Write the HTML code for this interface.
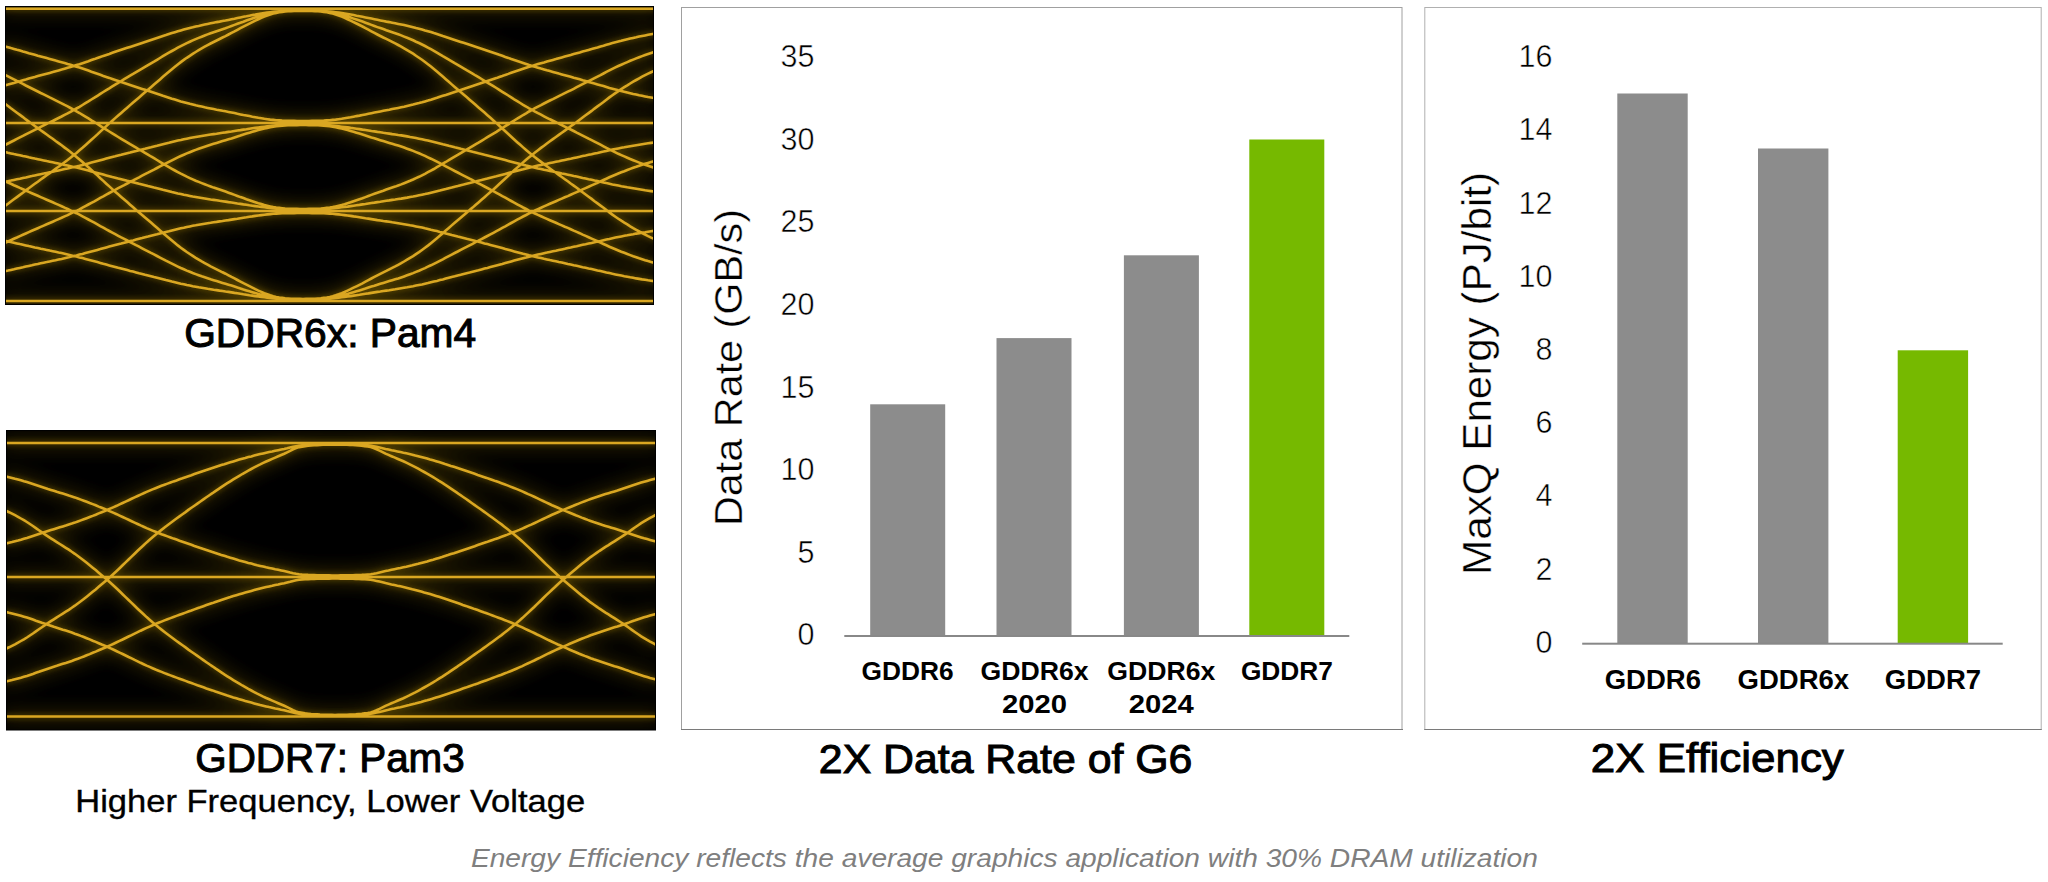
<!DOCTYPE html>
<html><head><meta charset="utf-8"><style>
html,body{margin:0;padding:0;background:#fff;width:2048px;height:882px;overflow:hidden}
svg{display:block}
text{font-family:'Liberation Sans', sans-serif}
</style></head><body>
<svg width="2048" height="882" viewBox="0 0 2048 882">
<defs>
<filter id="glowb" x="-10%" y="-10%" width="120%" height="120%"><feGaussianBlur stdDeviation="9"/></filter>
<filter id="glows" x="-10%" y="-10%" width="120%" height="120%"><feGaussianBlur stdDeviation="2.5"/></filter>
<filter id="soft" x="-10%" y="-10%" width="120%" height="120%"><feGaussianBlur stdDeviation="0.6"/></filter>
</defs>
<clipPath id="clip1"><rect x="6" y="7" width="647" height="297"/></clipPath>
<rect x="5" y="6" width="649" height="299" fill="#000"/>
<g clip-path="url(#clip1)">
<path d="M2,8.8 L657,8.8 M2,123.0 L657,123.0 M2,211.0 L657,211.0 M2,301.0 L657,301.0 M2.0,45.5 L5.0,46.4 L8.0,47.2 L10.9,48.1 L13.9,48.9 L16.9,49.8 L19.9,50.6 L22.9,51.5 L25.8,52.3 L28.8,53.2 L31.8,54.0 L34.8,54.8 L37.8,55.7 L40.7,56.5 L43.7,57.3 L46.7,58.1 L49.7,58.9 L52.7,59.7 L55.6,60.6 L58.6,61.4 L61.6,62.2 L64.6,63.1 L67.6,64.0 L70.5,64.8 L73.5,65.8 L76.5,66.7 L79.5,67.6 L82.5,68.6 L85.4,69.6 L88.4,70.6 L91.4,71.7 L94.4,72.7 L97.4,73.8 L100.3,74.8 L103.3,75.9 L106.3,76.9 L109.3,77.9 L112.3,79.0 L115.2,80.0 L118.2,81.0 L121.2,82.0 L124.2,83.0 L127.2,84.0 L130.1,84.9 L133.1,85.9 L136.1,86.9 L139.1,87.9 L142.1,88.9 L145.0,89.8 L148.0,90.8 L151.0,91.8 L154.0,92.8 L157.0,93.8 L160.0,94.8 L162.9,95.8 L165.9,96.7 L168.9,97.7 L171.9,98.7 L174.9,99.6 L177.8,100.5 L180.8,101.4 L183.8,102.2 L186.8,103.0 L189.8,103.8 L192.7,104.5 L195.7,105.3 L198.7,105.9 L201.7,106.6 L204.7,107.3 L207.6,107.9 L210.6,108.5 L213.6,109.1 L216.6,109.7 L219.6,110.2 L222.5,110.8 L225.5,111.3 L228.5,111.9 L231.5,112.5 L234.5,113.1 L237.4,113.8 L240.4,114.4 L243.4,115.0 L246.4,115.5 L249.4,116.1 L252.3,116.7 L255.3,117.2 L258.3,117.8 L261.3,118.3 L264.3,118.8 L267.2,119.2 L270.2,119.6 L273.2,119.9 L276.2,120.2 L279.2,120.4 L282.1,120.6 L285.1,120.7 L288.1,120.8 L291.1,120.9 L294.1,120.9 L297.0,121.0 L300.0,121.0 L303.0,121.0 M303.0,121.0 L306.0,121.0 L308.9,121.0 L311.9,120.9 L314.9,120.9 L317.9,120.8 L320.8,120.7 L323.8,120.6 L326.8,120.4 L329.8,120.2 L332.7,119.9 L335.7,119.6 L338.7,119.2 L341.7,118.8 L344.6,118.3 L347.6,117.8 L350.6,117.3 L353.6,116.7 L356.5,116.1 L359.5,115.6 L362.5,115.0 L365.5,114.4 L368.4,113.8 L371.4,113.2 L374.4,112.6 L377.4,112.0 L380.3,111.4 L383.3,110.8 L386.3,110.2 L389.3,109.7 L392.2,109.1 L395.2,108.5 L398.2,107.9 L401.2,107.3 L404.1,106.7 L407.1,106.0 L410.1,105.3 L413.1,104.6 L416.0,103.8 L419.0,103.1 L422.0,102.3 L425.0,101.4 L427.9,100.6 L430.9,99.7 L433.9,98.7 L436.9,97.8 L439.8,96.8 L442.8,95.8 L445.8,94.9 L448.8,93.9 L451.7,92.9 L454.7,91.9 L457.7,90.9 L460.7,89.9 L463.6,89.0 L466.6,88.0 L469.6,87.0 L472.6,86.0 L475.5,85.1 L478.5,84.1 L481.5,83.1 L484.5,82.1 L487.4,81.1 L490.4,80.1 L493.4,79.1 L496.4,78.1 L499.3,77.0 L502.3,76.0 L505.3,74.9 L508.3,73.9 L511.2,72.8 L514.2,71.8 L517.2,70.8 L520.2,69.8 L523.1,68.8 L526.1,67.8 L529.1,66.8 L532.1,65.9 L535.0,65.0 L538.0,64.1 L541.0,63.2 L544.0,62.4 L546.9,61.5 L549.9,60.7 L552.9,59.9 L555.9,59.1 L558.8,58.2 L561.8,57.4 L564.8,56.6 L567.8,55.8 L570.7,55.0 L573.7,54.1 L576.7,53.3 L579.7,52.5 L582.6,51.6 L585.6,50.8 L588.6,49.9 L591.6,49.1 L594.5,48.2 L597.5,47.4 L600.5,46.5 L603.5,45.7 L606.4,44.8 L609.4,43.9 L612.4,43.1 L615.4,42.3 L618.3,41.5 L621.3,40.8 L624.3,40.0 L627.3,39.3 L630.2,38.6 L633.2,37.9 L636.2,37.3 L639.2,36.6 L642.1,36.0 L645.1,35.4 L648.1,34.8 L651.1,34.3 L654.0,33.8 L657.0,33.3 M2.0,73.2 L5.0,74.8 L8.0,76.3 L10.9,77.8 L13.9,79.3 L16.9,80.9 L19.9,82.4 L22.9,83.9 L25.8,85.5 L28.8,87.0 L31.8,88.5 L34.8,90.0 L37.8,91.5 L40.7,93.0 L43.7,94.4 L46.7,95.9 L49.7,97.4 L52.7,98.8 L55.6,100.3 L58.6,101.8 L61.6,103.3 L64.6,104.9 L67.6,106.4 L70.5,108.0 L73.5,109.6 L76.5,111.3 L79.5,113.0 L82.5,114.8 L85.4,116.6 L88.4,118.4 L91.4,120.3 L94.4,122.1 L97.4,124.0 L100.3,125.9 L103.3,127.8 L106.3,129.7 L109.3,131.5 L112.3,133.4 L115.2,135.2 L118.2,137.0 L121.2,138.8 L124.2,140.6 L127.2,142.4 L130.1,144.2 L133.1,145.9 L136.1,147.7 L139.1,149.5 L142.1,151.2 L145.0,152.9 L148.0,154.7 L151.0,156.5 L154.0,158.2 L157.0,160.0 L160.0,161.8 L162.9,163.6 L165.9,165.4 L168.9,167.1 L171.9,168.8 L174.9,170.5 L177.8,172.1 L180.8,173.7 L183.8,175.2 L186.8,176.7 L189.8,178.1 L192.7,179.4 L195.7,180.7 L198.7,181.9 L201.7,183.1 L204.7,184.3 L207.6,185.4 L210.6,186.5 L213.6,187.6 L216.6,188.6 L219.6,189.6 L222.5,190.6 L225.5,191.6 L228.5,192.7 L231.5,193.8 L234.5,194.9 L237.4,196.0 L240.4,197.1 L243.4,198.1 L246.4,199.2 L249.4,200.2 L252.3,201.2 L255.3,202.2 L258.3,203.2 L261.3,204.1 L264.3,205.0 L267.2,205.7 L270.2,206.4 L273.2,207.1 L276.2,207.6 L279.2,207.9 L282.1,208.2 L285.1,208.5 L288.1,208.7 L291.1,208.8 L294.1,208.9 L297.0,208.9 L300.0,209.0 L303.0,209.0 M303.0,209.0 L306.0,209.0 L308.9,208.9 L311.9,208.9 L314.9,208.8 L317.9,208.7 L320.8,208.5 L323.8,208.2 L326.8,207.9 L329.8,207.6 L332.7,207.1 L335.7,206.4 L338.7,205.7 L341.7,205.0 L344.6,204.2 L347.6,203.2 L350.6,202.3 L353.6,201.2 L356.5,200.2 L359.5,199.2 L362.5,198.2 L365.5,197.1 L368.4,196.0 L371.4,194.9 L374.4,193.8 L377.4,192.7 L380.3,191.7 L383.3,190.7 L386.3,189.6 L389.3,188.6 L392.2,187.6 L395.2,186.6 L398.2,185.5 L401.2,184.4 L404.1,183.2 L407.1,182.0 L410.1,180.8 L413.1,179.5 L416.0,178.1 L419.0,176.8 L422.0,175.3 L425.0,173.8 L427.9,172.2 L430.9,170.6 L433.9,169.0 L436.9,167.2 L439.8,165.5 L442.8,163.7 L445.8,162.0 L448.8,160.2 L451.7,158.4 L454.7,156.6 L457.7,154.9 L460.7,153.1 L463.6,151.4 L466.6,149.6 L469.6,147.9 L472.6,146.1 L475.5,144.3 L478.5,142.6 L481.5,140.8 L484.5,139.0 L487.4,137.2 L490.4,135.4 L493.4,133.6 L496.4,131.8 L499.3,129.9 L502.3,128.0 L505.3,126.1 L508.3,124.3 L511.2,122.4 L514.2,120.5 L517.2,118.7 L520.2,116.8 L523.1,115.0 L526.1,113.3 L529.1,111.5 L532.1,109.9 L535.0,108.2 L538.0,106.6 L541.0,105.1 L544.0,103.5 L546.9,102.0 L549.9,100.5 L552.9,99.1 L555.9,97.6 L558.8,96.1 L561.8,94.7 L564.8,93.2 L567.8,91.7 L570.7,90.3 L573.7,88.8 L576.7,87.2 L579.7,85.7 L582.6,84.2 L585.6,82.7 L588.6,81.1 L591.6,79.6 L594.5,78.1 L597.5,76.6 L600.5,75.1 L603.5,73.5 L606.4,71.9 L609.4,70.4 L612.4,68.9 L615.4,67.4 L618.3,66.0 L621.3,64.7 L624.3,63.4 L627.3,62.1 L630.2,60.8 L633.2,59.6 L636.2,58.4 L639.2,57.2 L642.1,56.1 L645.1,55.0 L648.1,54.0 L651.1,53.0 L654.0,52.1 L657.0,51.3 M2.0,101.6 L5.0,103.8 L8.0,106.0 L10.9,108.3 L13.9,110.5 L16.9,112.7 L19.9,114.9 L22.9,117.1 L25.8,119.4 L28.8,121.6 L31.8,123.8 L34.8,126.0 L37.8,128.1 L40.7,130.3 L43.7,132.4 L46.7,134.5 L49.7,136.7 L52.7,138.8 L55.6,141.0 L58.6,143.1 L61.6,145.3 L64.6,147.6 L67.6,149.8 L70.5,152.1 L73.5,154.5 L76.5,156.9 L79.5,159.5 L82.5,162.0 L85.4,164.6 L88.4,167.3 L91.4,170.0 L94.4,172.7 L97.4,175.4 L100.3,178.2 L103.3,180.9 L106.3,183.7 L109.3,186.4 L112.3,189.1 L115.2,191.7 L118.2,194.3 L121.2,196.9 L124.2,199.5 L127.2,202.1 L130.1,204.7 L133.1,207.3 L136.1,209.9 L139.1,212.4 L142.1,215.0 L145.0,217.5 L148.0,220.0 L151.0,222.6 L154.0,225.2 L157.0,227.8 L160.0,230.4 L162.9,233.0 L165.9,235.5 L168.9,238.1 L171.9,240.6 L174.9,243.0 L177.8,245.4 L180.8,247.7 L183.8,249.9 L186.8,252.0 L189.8,254.0 L192.7,255.9 L195.7,257.8 L198.7,259.6 L201.7,261.4 L204.7,263.1 L207.6,264.7 L210.6,266.3 L213.6,267.8 L216.6,269.3 L219.6,270.8 L222.5,272.3 L225.5,273.7 L228.5,275.3 L231.5,276.9 L234.5,278.4 L237.4,280.0 L240.4,281.6 L243.4,283.2 L246.4,284.7 L249.4,286.2 L252.3,287.7 L255.3,289.2 L258.3,290.6 L261.3,291.9 L264.3,293.2 L267.2,294.2 L270.2,295.3 L273.2,296.2 L276.2,296.9 L279.2,297.5 L282.1,297.9 L285.1,298.3 L288.1,298.5 L291.1,298.7 L294.1,298.8 L297.0,298.9 L300.0,298.9 L303.0,299.0 M303.0,299.0 L306.0,298.9 L308.9,298.9 L311.9,298.8 L314.9,298.7 L317.9,298.5 L320.8,298.3 L323.8,297.9 L326.8,297.5 L329.8,296.9 L332.7,296.2 L335.7,295.3 L338.7,294.3 L341.7,293.2 L344.6,292.0 L347.6,290.6 L350.6,289.2 L353.6,287.7 L356.5,286.3 L359.5,284.8 L362.5,283.3 L365.5,281.7 L368.4,280.1 L371.4,278.5 L374.4,276.9 L377.4,275.3 L380.3,273.8 L383.3,272.3 L386.3,270.9 L389.3,269.4 L392.2,267.9 L395.2,266.4 L398.2,264.8 L401.2,263.2 L404.1,261.5 L407.1,259.7 L410.1,257.9 L413.1,256.1 L416.0,254.1 L419.0,252.1 L422.0,250.0 L425.0,247.8 L427.9,245.6 L430.9,243.2 L433.9,240.8 L436.9,238.3 L439.8,235.8 L442.8,233.2 L445.8,230.6 L448.8,228.0 L451.7,225.4 L454.7,222.8 L457.7,220.3 L460.7,217.7 L463.6,215.2 L466.6,212.7 L469.6,210.1 L472.6,207.6 L475.5,205.0 L478.5,202.4 L481.5,199.8 L484.5,197.2 L487.4,194.6 L490.4,192.0 L493.4,189.4 L496.4,186.7 L499.3,184.0 L502.3,181.3 L505.3,178.5 L508.3,175.8 L511.2,173.1 L514.2,170.3 L517.2,167.6 L520.2,165.0 L523.1,162.4 L526.1,159.8 L529.1,157.3 L532.1,154.9 L535.0,152.5 L538.0,150.2 L541.0,147.9 L544.0,145.7 L546.9,143.5 L549.9,141.3 L552.9,139.1 L555.9,137.0 L558.8,134.9 L561.8,132.8 L564.8,130.6 L567.8,128.5 L570.7,126.3 L573.7,124.2 L576.7,122.0 L579.7,119.7 L582.6,117.5 L585.6,115.3 L588.6,113.1 L591.6,110.9 L594.5,108.6 L597.5,106.4 L600.5,104.2 L603.5,102.0 L606.4,99.7 L609.4,97.4 L612.4,95.2 L615.4,93.1 L618.3,91.1 L621.3,89.1 L624.3,87.2 L627.3,85.4 L630.2,83.5 L633.2,81.7 L636.2,80.0 L639.2,78.3 L642.1,76.6 L645.1,75.1 L648.1,73.6 L651.1,72.2 L654.0,70.9 L657.0,69.6 M2.0,86.3 L5.0,85.4 L8.0,84.6 L10.9,83.7 L13.9,82.9 L16.9,82.0 L19.9,81.2 L22.9,80.3 L25.8,79.5 L28.8,78.6 L31.8,77.8 L34.8,77.0 L37.8,76.1 L40.7,75.3 L43.7,74.5 L46.7,73.7 L49.7,72.9 L52.7,72.1 L55.6,71.2 L58.6,70.4 L61.6,69.6 L64.6,68.7 L67.6,67.8 L70.5,67.0 L73.5,66.0 L76.5,65.1 L79.5,64.2 L82.5,63.2 L85.4,62.2 L88.4,61.2 L91.4,60.1 L94.4,59.1 L97.4,58.0 L100.3,57.0 L103.3,55.9 L106.3,54.9 L109.3,53.9 L112.3,52.8 L115.2,51.8 L118.2,50.8 L121.2,49.8 L124.2,48.8 L127.2,47.8 L130.1,46.9 L133.1,45.9 L136.1,44.9 L139.1,43.9 L142.1,42.9 L145.0,42.0 L148.0,41.0 L151.0,40.0 L154.0,39.0 L157.0,38.0 L160.0,37.0 L162.9,36.0 L165.9,35.1 L168.9,34.1 L171.9,33.1 L174.9,32.2 L177.8,31.3 L180.8,30.4 L183.8,29.6 L186.8,28.8 L189.8,28.0 L192.7,27.3 L195.7,26.5 L198.7,25.9 L201.7,25.2 L204.7,24.5 L207.6,23.9 L210.6,23.3 L213.6,22.7 L216.6,22.1 L219.6,21.6 L222.5,21.0 L225.5,20.5 L228.5,19.9 L231.5,19.3 L234.5,18.7 L237.4,18.0 L240.4,17.4 L243.4,16.8 L246.4,16.3 L249.4,15.7 L252.3,15.1 L255.3,14.6 L258.3,14.0 L261.3,13.5 L264.3,13.0 L267.2,12.6 L270.2,12.2 L273.2,11.9 L276.2,11.6 L279.2,11.4 L282.1,11.2 L285.1,11.1 L288.1,11.0 L291.1,10.9 L294.1,10.9 L297.0,10.8 L300.0,10.8 L303.0,10.8 M303.0,10.8 L306.0,10.8 L308.9,10.8 L311.9,10.9 L314.9,10.9 L317.9,11.0 L320.8,11.1 L323.8,11.2 L326.8,11.4 L329.8,11.6 L332.7,11.9 L335.7,12.2 L338.7,12.6 L341.7,13.0 L344.6,13.5 L347.6,14.0 L350.6,14.5 L353.6,15.1 L356.5,15.7 L359.5,16.2 L362.5,16.8 L365.5,17.4 L368.4,18.0 L371.4,18.6 L374.4,19.2 L377.4,19.8 L380.3,20.4 L383.3,21.0 L386.3,21.6 L389.3,22.1 L392.2,22.7 L395.2,23.3 L398.2,23.9 L401.2,24.5 L404.1,25.1 L407.1,25.8 L410.1,26.5 L413.1,27.2 L416.0,28.0 L419.0,28.7 L422.0,29.5 L425.0,30.4 L427.9,31.2 L430.9,32.1 L433.9,33.1 L436.9,34.0 L439.8,35.0 L442.8,36.0 L445.8,36.9 L448.8,37.9 L451.7,38.9 L454.7,39.9 L457.7,40.9 L460.7,41.9 L463.6,42.8 L466.6,43.8 L469.6,44.8 L472.6,45.8 L475.5,46.7 L478.5,47.7 L481.5,48.7 L484.5,49.7 L487.4,50.7 L490.4,51.7 L493.4,52.7 L496.4,53.7 L499.3,54.8 L502.3,55.8 L505.3,56.9 L508.3,57.9 L511.2,59.0 L514.2,60.0 L517.2,61.0 L520.2,62.0 L523.1,63.0 L526.1,64.0 L529.1,65.0 L532.1,65.9 L535.0,66.8 L538.0,67.7 L541.0,68.6 L544.0,69.4 L546.9,70.3 L549.9,71.1 L552.9,71.9 L555.9,72.7 L558.8,73.6 L561.8,74.4 L564.8,75.2 L567.8,76.0 L570.7,76.8 L573.7,77.7 L576.7,78.5 L579.7,79.3 L582.6,80.2 L585.6,81.0 L588.6,81.9 L591.6,82.7 L594.5,83.6 L597.5,84.4 L600.5,85.3 L603.5,86.1 L606.4,87.0 L609.4,87.9 L612.4,88.7 L615.4,89.5 L618.3,90.3 L621.3,91.0 L624.3,91.8 L627.3,92.5 L630.2,93.2 L633.2,93.9 L636.2,94.5 L639.2,95.2 L642.1,95.8 L645.1,96.4 L648.1,97.0 L651.1,97.5 L654.0,98.0 L657.0,98.5 M2.0,151.5 L5.0,152.1 L8.0,152.8 L10.9,153.4 L13.9,154.1 L16.9,154.7 L19.9,155.3 L22.9,156.0 L25.8,156.6 L28.8,157.3 L31.8,157.9 L34.8,158.6 L37.8,159.2 L40.7,159.8 L43.7,160.4 L46.7,161.1 L49.7,161.7 L52.7,162.3 L55.6,162.9 L58.6,163.6 L61.6,164.2 L64.6,164.9 L67.6,165.5 L70.5,166.2 L73.5,166.9 L76.5,167.6 L79.5,168.3 L82.5,169.1 L85.4,169.8 L88.4,170.6 L91.4,171.4 L94.4,172.2 L97.4,173.0 L100.3,173.8 L103.3,174.6 L106.3,175.4 L109.3,176.2 L112.3,177.0 L115.2,177.7 L118.2,178.5 L121.2,179.2 L124.2,180.0 L127.2,180.8 L130.1,181.5 L133.1,182.3 L136.1,183.0 L139.1,183.8 L142.1,184.5 L145.0,185.2 L148.0,186.0 L151.0,186.7 L154.0,187.5 L157.0,188.2 L160.0,189.0 L162.9,189.8 L165.9,190.5 L168.9,191.2 L171.9,192.0 L174.9,192.7 L177.8,193.4 L180.8,194.0 L183.8,194.7 L186.8,195.3 L189.8,195.9 L192.7,196.5 L195.7,197.0 L198.7,197.5 L201.7,198.0 L204.7,198.5 L207.6,199.0 L210.6,199.5 L213.6,199.9 L216.6,200.3 L219.6,200.8 L222.5,201.2 L225.5,201.6 L228.5,202.1 L231.5,202.5 L234.5,203.0 L237.4,203.5 L240.4,203.9 L243.4,204.4 L246.4,204.8 L249.4,205.3 L252.3,205.7 L255.3,206.1 L258.3,206.5 L261.3,206.9 L264.3,207.3 L267.2,207.6 L270.2,207.9 L273.2,208.2 L276.2,208.4 L279.2,208.5 L282.1,208.7 L285.1,208.8 L288.1,208.9 L291.1,208.9 L294.1,208.9 L297.0,209.0 L300.0,209.0 L303.0,209.0 M303.0,209.0 L306.0,209.0 L308.9,209.0 L311.9,208.9 L314.9,208.9 L317.9,208.9 L320.8,208.8 L323.8,208.7 L326.8,208.6 L329.8,208.4 L332.7,208.2 L335.7,207.9 L338.7,207.6 L341.7,207.3 L344.6,207.0 L347.6,206.6 L350.6,206.1 L353.6,205.7 L356.5,205.3 L359.5,204.9 L362.5,204.4 L365.5,204.0 L368.4,203.5 L371.4,203.0 L374.4,202.6 L377.4,202.1 L380.3,201.7 L383.3,201.2 L386.3,200.8 L389.3,200.4 L392.2,199.9 L395.2,199.5 L398.2,199.0 L401.2,198.6 L404.1,198.1 L407.1,197.6 L410.1,197.0 L413.1,196.5 L416.0,195.9 L419.0,195.3 L422.0,194.7 L425.0,194.1 L427.9,193.4 L430.9,192.7 L433.9,192.0 L436.9,191.3 L439.8,190.6 L442.8,189.8 L445.8,189.1 L448.8,188.3 L451.7,187.6 L454.7,186.8 L457.7,186.1 L460.7,185.3 L463.6,184.6 L466.6,183.8 L469.6,183.1 L472.6,182.3 L475.5,181.6 L478.5,180.8 L481.5,180.1 L484.5,179.3 L487.4,178.6 L490.4,177.8 L493.4,177.0 L496.4,176.3 L499.3,175.5 L502.3,174.7 L505.3,173.9 L508.3,173.1 L511.2,172.3 L514.2,171.5 L517.2,170.7 L520.2,169.9 L523.1,169.2 L526.1,168.4 L529.1,167.7 L532.1,167.0 L535.0,166.3 L538.0,165.6 L541.0,165.0 L544.0,164.3 L546.9,163.7 L549.9,163.0 L552.9,162.4 L555.9,161.8 L558.8,161.2 L561.8,160.5 L564.8,159.9 L567.8,159.3 L570.7,158.7 L573.7,158.0 L576.7,157.4 L579.7,156.8 L582.6,156.1 L585.6,155.5 L588.6,154.8 L591.6,154.2 L594.5,153.5 L597.5,152.9 L600.5,152.2 L603.5,151.6 L606.4,150.9 L609.4,150.3 L612.4,149.6 L615.4,149.0 L618.3,148.4 L621.3,147.8 L624.3,147.3 L627.3,146.7 L630.2,146.2 L633.2,145.7 L636.2,145.2 L639.2,144.7 L642.1,144.2 L645.1,143.7 L648.1,143.3 L651.1,142.9 L654.0,142.5 L657.0,142.1 M2.0,179.8 L5.0,181.2 L8.0,182.5 L10.9,183.8 L13.9,185.2 L16.9,186.5 L19.9,187.9 L22.9,189.2 L25.8,190.5 L28.8,191.9 L31.8,193.2 L34.8,194.5 L37.8,195.8 L40.7,197.1 L43.7,198.4 L46.7,199.7 L49.7,201.0 L52.7,202.3 L55.6,203.6 L58.6,204.9 L61.6,206.2 L64.6,207.6 L67.6,208.9 L70.5,210.3 L73.5,211.8 L76.5,213.2 L79.5,214.7 L82.5,216.3 L85.4,217.9 L88.4,219.5 L91.4,221.1 L94.4,222.7 L97.4,224.4 L100.3,226.1 L103.3,227.7 L106.3,229.4 L109.3,231.0 L112.3,232.6 L115.2,234.2 L118.2,235.8 L121.2,237.4 L124.2,238.9 L127.2,240.5 L130.1,242.1 L133.1,243.6 L136.1,245.2 L139.1,246.7 L142.1,248.3 L145.0,249.8 L148.0,251.3 L151.0,252.9 L154.0,254.4 L157.0,256.0 L160.0,257.6 L162.9,259.1 L165.9,260.7 L168.9,262.2 L171.9,263.7 L174.9,265.2 L177.8,266.6 L180.8,268.0 L183.8,269.3 L186.8,270.6 L189.8,271.8 L192.7,273.0 L195.7,274.1 L198.7,275.2 L201.7,276.3 L204.7,277.3 L207.6,278.3 L210.6,279.3 L213.6,280.2 L216.6,281.1 L219.6,282.0 L222.5,282.9 L225.5,283.8 L228.5,284.7 L231.5,285.6 L234.5,286.6 L237.4,287.6 L240.4,288.5 L243.4,289.5 L246.4,290.4 L249.4,291.3 L252.3,292.2 L255.3,293.1 L258.3,293.9 L261.3,294.7 L264.3,295.5 L267.2,296.1 L270.2,296.7 L273.2,297.3 L276.2,297.7 L279.2,298.1 L282.1,298.3 L285.1,298.6 L288.1,298.7 L291.1,298.8 L294.1,298.9 L297.0,298.9 L300.0,299.0 L303.0,299.0 M303.0,299.0 L306.0,299.0 L308.9,298.9 L311.9,298.9 L314.9,298.8 L317.9,298.7 L320.8,298.6 L323.8,298.3 L326.8,298.1 L329.8,297.8 L332.7,297.3 L335.7,296.8 L338.7,296.1 L341.7,295.5 L344.6,294.8 L347.6,293.9 L350.6,293.1 L353.6,292.2 L356.5,291.3 L359.5,290.4 L362.5,289.5 L365.5,288.6 L368.4,287.6 L371.4,286.6 L374.4,285.7 L377.4,284.7 L380.3,283.8 L383.3,282.9 L386.3,282.0 L389.3,281.1 L392.2,280.2 L395.2,279.3 L398.2,278.4 L401.2,277.4 L404.1,276.4 L407.1,275.3 L410.1,274.2 L413.1,273.1 L416.0,271.9 L419.0,270.7 L422.0,269.4 L425.0,268.1 L427.9,266.7 L430.9,265.3 L433.9,263.8 L436.9,262.3 L439.8,260.8 L442.8,259.3 L445.8,257.7 L448.8,256.1 L451.7,254.6 L454.7,253.0 L457.7,251.5 L460.7,249.9 L463.6,248.4 L466.6,246.9 L469.6,245.3 L472.6,243.8 L475.5,242.2 L478.5,240.7 L481.5,239.1 L484.5,237.5 L487.4,236.0 L490.4,234.4 L493.4,232.8 L496.4,231.2 L499.3,229.6 L502.3,227.9 L505.3,226.3 L508.3,224.6 L511.2,223.0 L514.2,221.3 L517.2,219.7 L520.2,218.1 L523.1,216.5 L526.1,215.0 L529.1,213.4 L532.1,212.0 L535.0,210.5 L538.0,209.1 L541.0,207.8 L544.0,206.4 L546.9,205.1 L549.9,203.8 L552.9,202.5 L555.9,201.2 L558.8,199.9 L561.8,198.6 L564.8,197.3 L567.8,196.1 L570.7,194.8 L573.7,193.4 L576.7,192.1 L579.7,190.8 L582.6,189.4 L585.6,188.1 L588.6,186.8 L591.6,185.4 L594.5,184.1 L597.5,182.7 L600.5,181.4 L603.5,180.0 L606.4,178.7 L609.4,177.3 L612.4,176.0 L615.4,174.7 L618.3,173.5 L621.3,172.3 L624.3,171.2 L627.3,170.0 L630.2,168.9 L633.2,167.8 L636.2,166.8 L639.2,165.7 L642.1,164.8 L645.1,163.8 L648.1,162.9 L651.1,162.1 L654.0,161.3 L657.0,160.5 M2.0,146.6 L5.0,145.0 L8.0,143.5 L10.9,142.0 L13.9,140.5 L16.9,138.9 L19.9,137.4 L22.9,135.9 L25.8,134.3 L28.8,132.8 L31.8,131.3 L34.8,129.8 L37.8,128.3 L40.7,126.8 L43.7,125.4 L46.7,123.9 L49.7,122.4 L52.7,121.0 L55.6,119.5 L58.6,118.0 L61.6,116.5 L64.6,114.9 L67.6,113.4 L70.5,111.8 L73.5,110.2 L76.5,108.5 L79.5,106.8 L82.5,105.0 L85.4,103.2 L88.4,101.4 L91.4,99.5 L94.4,97.7 L97.4,95.8 L100.3,93.9 L103.3,92.0 L106.3,90.1 L109.3,88.3 L112.3,86.4 L115.2,84.6 L118.2,82.8 L121.2,81.0 L124.2,79.2 L127.2,77.4 L130.1,75.6 L133.1,73.9 L136.1,72.1 L139.1,70.3 L142.1,68.6 L145.0,66.9 L148.0,65.1 L151.0,63.3 L154.0,61.6 L157.0,59.8 L160.0,58.0 L162.9,56.2 L165.9,54.4 L168.9,52.7 L171.9,51.0 L174.9,49.3 L177.8,47.7 L180.8,46.1 L183.8,44.6 L186.8,43.1 L189.8,41.7 L192.7,40.4 L195.7,39.1 L198.7,37.9 L201.7,36.7 L204.7,35.5 L207.6,34.4 L210.6,33.3 L213.6,32.2 L216.6,31.2 L219.6,30.2 L222.5,29.2 L225.5,28.2 L228.5,27.1 L231.5,26.0 L234.5,24.9 L237.4,23.8 L240.4,22.7 L243.4,21.7 L246.4,20.6 L249.4,19.6 L252.3,18.6 L255.3,17.6 L258.3,16.6 L261.3,15.7 L264.3,14.8 L267.2,14.1 L270.2,13.4 L273.2,12.7 L276.2,12.2 L279.2,11.9 L282.1,11.6 L285.1,11.3 L288.1,11.1 L291.1,11.0 L294.1,10.9 L297.0,10.9 L300.0,10.8 L303.0,10.8 M303.0,10.8 L306.0,10.8 L308.9,10.9 L311.9,10.9 L314.9,11.0 L317.9,11.1 L320.8,11.3 L323.8,11.6 L326.8,11.9 L329.8,12.2 L332.7,12.7 L335.7,13.4 L338.7,14.1 L341.7,14.8 L344.6,15.6 L347.6,16.6 L350.6,17.5 L353.6,18.6 L356.5,19.6 L359.5,20.6 L362.5,21.6 L365.5,22.7 L368.4,23.8 L371.4,24.9 L374.4,26.0 L377.4,27.1 L380.3,28.1 L383.3,29.1 L386.3,30.2 L389.3,31.2 L392.2,32.2 L395.2,33.2 L398.2,34.3 L401.2,35.4 L404.1,36.6 L407.1,37.8 L410.1,39.0 L413.1,40.3 L416.0,41.7 L419.0,43.0 L422.0,44.5 L425.0,46.0 L427.9,47.6 L430.9,49.2 L433.9,50.8 L436.9,52.6 L439.8,54.3 L442.8,56.1 L445.8,57.8 L448.8,59.6 L451.7,61.4 L454.7,63.2 L457.7,64.9 L460.7,66.7 L463.6,68.4 L466.6,70.2 L469.6,71.9 L472.6,73.7 L475.5,75.5 L478.5,77.2 L481.5,79.0 L484.5,80.8 L487.4,82.6 L490.4,84.4 L493.4,86.2 L496.4,88.0 L499.3,89.9 L502.3,91.8 L505.3,93.7 L508.3,95.5 L511.2,97.4 L514.2,99.3 L517.2,101.1 L520.2,103.0 L523.1,104.8 L526.1,106.5 L529.1,108.3 L532.1,109.9 L535.0,111.6 L538.0,113.2 L541.0,114.7 L544.0,116.3 L546.9,117.8 L549.9,119.3 L552.9,120.7 L555.9,122.2 L558.8,123.7 L561.8,125.1 L564.8,126.6 L567.8,128.1 L570.7,129.5 L573.7,131.0 L576.7,132.6 L579.7,134.1 L582.6,135.6 L585.6,137.1 L588.6,138.7 L591.6,140.2 L594.5,141.7 L597.5,143.2 L600.5,144.7 L603.5,146.3 L606.4,147.9 L609.4,149.4 L612.4,150.9 L615.4,152.4 L618.3,153.8 L621.3,155.1 L624.3,156.4 L627.3,157.7 L630.2,159.0 L633.2,160.2 L636.2,161.4 L639.2,162.6 L642.1,163.7 L645.1,164.8 L648.1,165.8 L651.1,166.8 L654.0,167.7 L657.0,168.5 M2.0,182.5 L5.0,181.9 L8.0,181.2 L10.9,180.6 L13.9,179.9 L16.9,179.3 L19.9,178.7 L22.9,178.0 L25.8,177.4 L28.8,176.7 L31.8,176.1 L34.8,175.4 L37.8,174.8 L40.7,174.2 L43.7,173.6 L46.7,172.9 L49.7,172.3 L52.7,171.7 L55.6,171.1 L58.6,170.4 L61.6,169.8 L64.6,169.1 L67.6,168.5 L70.5,167.8 L73.5,167.1 L76.5,166.4 L79.5,165.7 L82.5,164.9 L85.4,164.2 L88.4,163.4 L91.4,162.6 L94.4,161.8 L97.4,161.0 L100.3,160.2 L103.3,159.4 L106.3,158.6 L109.3,157.8 L112.3,157.0 L115.2,156.3 L118.2,155.5 L121.2,154.8 L124.2,154.0 L127.2,153.2 L130.1,152.5 L133.1,151.7 L136.1,151.0 L139.1,150.2 L142.1,149.5 L145.0,148.8 L148.0,148.0 L151.0,147.3 L154.0,146.5 L157.0,145.8 L160.0,145.0 L162.9,144.2 L165.9,143.5 L168.9,142.8 L171.9,142.0 L174.9,141.3 L177.8,140.6 L180.8,140.0 L183.8,139.3 L186.8,138.7 L189.8,138.1 L192.7,137.5 L195.7,137.0 L198.7,136.5 L201.7,136.0 L204.7,135.5 L207.6,135.0 L210.6,134.5 L213.6,134.1 L216.6,133.7 L219.6,133.2 L222.5,132.8 L225.5,132.4 L228.5,131.9 L231.5,131.5 L234.5,131.0 L237.4,130.5 L240.4,130.1 L243.4,129.6 L246.4,129.2 L249.4,128.7 L252.3,128.3 L255.3,127.9 L258.3,127.5 L261.3,127.1 L264.3,126.7 L267.2,126.4 L270.2,126.1 L273.2,125.8 L276.2,125.6 L279.2,125.5 L282.1,125.3 L285.1,125.2 L288.1,125.1 L291.1,125.1 L294.1,125.1 L297.0,125.0 L300.0,125.0 L303.0,125.0 M303.0,125.0 L306.0,125.0 L308.9,125.0 L311.9,125.1 L314.9,125.1 L317.9,125.1 L320.8,125.2 L323.8,125.3 L326.8,125.4 L329.8,125.6 L332.7,125.8 L335.7,126.1 L338.7,126.4 L341.7,126.7 L344.6,127.0 L347.6,127.4 L350.6,127.9 L353.6,128.3 L356.5,128.7 L359.5,129.1 L362.5,129.6 L365.5,130.0 L368.4,130.5 L371.4,131.0 L374.4,131.4 L377.4,131.9 L380.3,132.3 L383.3,132.8 L386.3,133.2 L389.3,133.6 L392.2,134.1 L395.2,134.5 L398.2,135.0 L401.2,135.4 L404.1,135.9 L407.1,136.4 L410.1,137.0 L413.1,137.5 L416.0,138.1 L419.0,138.7 L422.0,139.3 L425.0,139.9 L427.9,140.6 L430.9,141.3 L433.9,142.0 L436.9,142.7 L439.8,143.4 L442.8,144.2 L445.8,144.9 L448.8,145.7 L451.7,146.4 L454.7,147.2 L457.7,147.9 L460.7,148.7 L463.6,149.4 L466.6,150.2 L469.6,150.9 L472.6,151.7 L475.5,152.4 L478.5,153.2 L481.5,153.9 L484.5,154.7 L487.4,155.4 L490.4,156.2 L493.4,157.0 L496.4,157.7 L499.3,158.5 L502.3,159.3 L505.3,160.1 L508.3,160.9 L511.2,161.7 L514.2,162.5 L517.2,163.3 L520.2,164.1 L523.1,164.8 L526.1,165.6 L529.1,166.3 L532.1,167.0 L535.0,167.7 L538.0,168.4 L541.0,169.0 L544.0,169.7 L546.9,170.3 L549.9,171.0 L552.9,171.6 L555.9,172.2 L558.8,172.8 L561.8,173.5 L564.8,174.1 L567.8,174.7 L570.7,175.3 L573.7,176.0 L576.7,176.6 L579.7,177.2 L582.6,177.9 L585.6,178.5 L588.6,179.2 L591.6,179.8 L594.5,180.5 L597.5,181.1 L600.5,181.8 L603.5,182.4 L606.4,183.1 L609.4,183.7 L612.4,184.4 L615.4,185.0 L618.3,185.6 L621.3,186.2 L624.3,186.7 L627.3,187.3 L630.2,187.8 L633.2,188.3 L636.2,188.8 L639.2,189.3 L642.1,189.8 L645.1,190.3 L648.1,190.7 L651.1,191.1 L654.0,191.5 L657.0,191.9 M2.0,240.1 L5.0,240.8 L8.0,241.4 L10.9,242.1 L13.9,242.7 L16.9,243.4 L19.9,244.1 L22.9,244.7 L25.8,245.4 L28.8,246.1 L31.8,246.7 L34.8,247.4 L37.8,248.0 L40.7,248.7 L43.7,249.3 L46.7,249.9 L49.7,250.6 L52.7,251.2 L55.6,251.8 L58.6,252.5 L61.6,253.1 L64.6,253.8 L67.6,254.5 L70.5,255.2 L73.5,255.9 L76.5,256.6 L79.5,257.4 L82.5,258.1 L85.4,258.9 L88.4,259.7 L91.4,260.5 L94.4,261.3 L97.4,262.1 L100.3,262.9 L103.3,263.8 L106.3,264.6 L109.3,265.4 L112.3,266.2 L115.2,267.0 L118.2,267.8 L121.2,268.5 L124.2,269.3 L127.2,270.1 L130.1,270.9 L133.1,271.6 L136.1,272.4 L139.1,273.2 L142.1,273.9 L145.0,274.7 L148.0,275.4 L151.0,276.2 L154.0,277.0 L157.0,277.7 L160.0,278.5 L162.9,279.3 L165.9,280.1 L168.9,280.8 L171.9,281.6 L174.9,282.3 L177.8,283.0 L180.8,283.7 L183.8,284.3 L186.8,285.0 L189.8,285.6 L192.7,286.2 L195.7,286.7 L198.7,287.3 L201.7,287.8 L204.7,288.3 L207.6,288.8 L210.6,289.2 L213.6,289.7 L216.6,290.1 L219.6,290.6 L222.5,291.0 L225.5,291.5 L228.5,291.9 L231.5,292.4 L234.5,292.9 L237.4,293.3 L240.4,293.8 L243.4,294.3 L246.4,294.7 L249.4,295.2 L252.3,295.6 L255.3,296.1 L258.3,296.5 L261.3,296.9 L264.3,297.3 L267.2,297.6 L270.2,297.9 L273.2,298.2 L276.2,298.4 L279.2,298.5 L282.1,298.7 L285.1,298.8 L288.1,298.9 L291.1,298.9 L294.1,298.9 L297.0,299.0 L300.0,299.0 L303.0,299.0 M303.0,299.0 L306.0,299.0 L308.9,299.0 L311.9,298.9 L314.9,298.9 L317.9,298.9 L320.8,298.8 L323.8,298.7 L326.8,298.5 L329.8,298.4 L332.7,298.2 L335.7,297.9 L338.7,297.6 L341.7,297.3 L344.6,296.9 L347.6,296.5 L350.6,296.1 L353.6,295.6 L356.5,295.2 L359.5,294.8 L362.5,294.3 L365.5,293.8 L368.4,293.4 L371.4,292.9 L374.4,292.4 L377.4,291.9 L380.3,291.5 L383.3,291.0 L386.3,290.6 L389.3,290.2 L392.2,289.7 L395.2,289.3 L398.2,288.8 L401.2,288.3 L404.1,287.8 L407.1,287.3 L410.1,286.7 L413.1,286.2 L416.0,285.6 L419.0,285.0 L422.0,284.4 L425.0,283.7 L427.9,283.1 L430.9,282.3 L433.9,281.6 L436.9,280.9 L439.8,280.1 L442.8,279.4 L445.8,278.6 L448.8,277.8 L451.7,277.0 L454.7,276.3 L457.7,275.5 L460.7,274.8 L463.6,274.0 L466.6,273.2 L469.6,272.5 L472.6,271.7 L475.5,270.9 L478.5,270.2 L481.5,269.4 L484.5,268.6 L487.4,267.9 L490.4,267.1 L493.4,266.3 L496.4,265.5 L499.3,264.7 L502.3,263.9 L505.3,263.0 L508.3,262.2 L511.2,261.4 L514.2,260.6 L517.2,259.8 L520.2,259.0 L523.1,258.2 L526.1,257.5 L529.1,256.7 L532.1,256.0 L535.0,255.3 L538.0,254.6 L541.0,253.9 L544.0,253.2 L546.9,252.6 L549.9,251.9 L552.9,251.3 L555.9,250.7 L558.8,250.0 L561.8,249.4 L564.8,248.8 L567.8,248.1 L570.7,247.5 L573.7,246.8 L576.7,246.2 L579.7,245.5 L582.6,244.8 L585.6,244.2 L588.6,243.5 L591.6,242.9 L594.5,242.2 L597.5,241.5 L600.5,240.9 L603.5,240.2 L606.4,239.5 L609.4,238.9 L612.4,238.2 L615.4,237.6 L618.3,237.0 L621.3,236.4 L624.3,235.8 L627.3,235.3 L630.2,234.7 L633.2,234.2 L636.2,233.6 L639.2,233.1 L642.1,232.6 L645.1,232.2 L648.1,231.7 L651.1,231.3 L654.0,230.9 L657.0,230.6 M2.0,208.2 L5.0,206.0 L8.0,203.8 L10.9,201.5 L13.9,199.3 L16.9,197.1 L19.9,194.9 L22.9,192.7 L25.8,190.4 L28.8,188.2 L31.8,186.0 L34.8,183.8 L37.8,181.7 L40.7,179.5 L43.7,177.4 L46.7,175.3 L49.7,173.1 L52.7,171.0 L55.6,168.8 L58.6,166.7 L61.6,164.5 L64.6,162.2 L67.6,160.0 L70.5,157.7 L73.5,155.3 L76.5,152.9 L79.5,150.3 L82.5,147.8 L85.4,145.2 L88.4,142.5 L91.4,139.8 L94.4,137.1 L97.4,134.4 L100.3,131.6 L103.3,128.9 L106.3,126.1 L109.3,123.4 L112.3,120.7 L115.2,118.1 L118.2,115.5 L121.2,112.9 L124.2,110.3 L127.2,107.7 L130.1,105.1 L133.1,102.5 L136.1,99.9 L139.1,97.4 L142.1,94.8 L145.0,92.3 L148.0,89.8 L151.0,87.2 L154.0,84.6 L157.0,82.0 L160.0,79.4 L162.9,76.8 L165.9,74.3 L168.9,71.7 L171.9,69.2 L174.9,66.8 L177.8,64.4 L180.8,62.1 L183.8,59.9 L186.8,57.8 L189.8,55.8 L192.7,53.9 L195.7,52.0 L198.7,50.2 L201.7,48.4 L204.7,46.7 L207.6,45.1 L210.6,43.5 L213.6,42.0 L216.6,40.5 L219.6,39.0 L222.5,37.5 L225.5,36.1 L228.5,34.5 L231.5,32.9 L234.5,31.4 L237.4,29.8 L240.4,28.2 L243.4,26.6 L246.4,25.1 L249.4,23.6 L252.3,22.1 L255.3,20.6 L258.3,19.2 L261.3,17.9 L264.3,16.6 L267.2,15.6 L270.2,14.5 L273.2,13.6 L276.2,12.9 L279.2,12.3 L282.1,11.9 L285.1,11.5 L288.1,11.3 L291.1,11.1 L294.1,11.0 L297.0,10.9 L300.0,10.9 L303.0,10.8 M303.0,10.8 L306.0,10.9 L308.9,10.9 L311.9,11.0 L314.9,11.1 L317.9,11.3 L320.8,11.5 L323.8,11.9 L326.8,12.3 L329.8,12.9 L332.7,13.6 L335.7,14.5 L338.7,15.5 L341.7,16.6 L344.6,17.8 L347.6,19.2 L350.6,20.6 L353.6,22.1 L356.5,23.5 L359.5,25.0 L362.5,26.5 L365.5,28.1 L368.4,29.7 L371.4,31.3 L374.4,32.9 L377.4,34.5 L380.3,36.0 L383.3,37.5 L386.3,38.9 L389.3,40.4 L392.2,41.9 L395.2,43.4 L398.2,45.0 L401.2,46.6 L404.1,48.3 L407.1,50.1 L410.1,51.9 L413.1,53.7 L416.0,55.7 L419.0,57.7 L422.0,59.8 L425.0,62.0 L427.9,64.2 L430.9,66.6 L433.9,69.0 L436.9,71.5 L439.8,74.0 L442.8,76.6 L445.8,79.2 L448.8,81.8 L451.7,84.4 L454.7,87.0 L457.7,89.5 L460.7,92.1 L463.6,94.6 L466.6,97.1 L469.6,99.7 L472.6,102.2 L475.5,104.8 L478.5,107.4 L481.5,110.0 L484.5,112.6 L487.4,115.2 L490.4,117.8 L493.4,120.4 L496.4,123.1 L499.3,125.8 L502.3,128.5 L505.3,131.3 L508.3,134.0 L511.2,136.7 L514.2,139.5 L517.2,142.2 L520.2,144.8 L523.1,147.4 L526.1,150.0 L529.1,152.5 L532.1,154.9 L535.0,157.3 L538.0,159.6 L541.0,161.9 L544.0,164.1 L546.9,166.3 L549.9,168.5 L552.9,170.7 L555.9,172.8 L558.8,174.9 L561.8,177.0 L564.8,179.2 L567.8,181.3 L570.7,183.5 L573.7,185.6 L576.7,187.8 L579.7,190.1 L582.6,192.3 L585.6,194.5 L588.6,196.7 L591.6,198.9 L594.5,201.2 L597.5,203.4 L600.5,205.6 L603.5,207.8 L606.4,210.1 L609.4,212.4 L612.4,214.6 L615.4,216.7 L618.3,218.7 L621.3,220.7 L624.3,222.6 L627.3,224.4 L630.2,226.3 L633.2,228.1 L636.2,229.8 L639.2,231.5 L642.1,233.2 L645.1,234.7 L648.1,236.2 L651.1,237.6 L654.0,238.9 L657.0,240.2 M2.0,244.2 L5.0,242.8 L8.0,241.5 L10.9,240.2 L13.9,238.8 L16.9,237.5 L19.9,236.1 L22.9,234.8 L25.8,233.5 L28.8,232.1 L31.8,230.8 L34.8,229.5 L37.8,228.2 L40.7,226.9 L43.7,225.6 L46.7,224.3 L49.7,223.0 L52.7,221.7 L55.6,220.4 L58.6,219.1 L61.6,217.8 L64.6,216.4 L67.6,215.1 L70.5,213.7 L73.5,212.2 L76.5,210.8 L79.5,209.3 L82.5,207.7 L85.4,206.1 L88.4,204.5 L91.4,202.9 L94.4,201.3 L97.4,199.6 L100.3,197.9 L103.3,196.3 L106.3,194.6 L109.3,193.0 L112.3,191.4 L115.2,189.8 L118.2,188.2 L121.2,186.6 L124.2,185.1 L127.2,183.5 L130.1,181.9 L133.1,180.4 L136.1,178.8 L139.1,177.3 L142.1,175.7 L145.0,174.2 L148.0,172.7 L151.0,171.1 L154.0,169.6 L157.0,168.0 L160.0,166.4 L162.9,164.9 L165.9,163.3 L168.9,161.8 L171.9,160.3 L174.9,158.8 L177.8,157.4 L180.8,156.0 L183.8,154.7 L186.8,153.4 L189.8,152.2 L192.7,151.0 L195.7,149.9 L198.7,148.8 L201.7,147.7 L204.7,146.7 L207.6,145.7 L210.6,144.7 L213.6,143.8 L216.6,142.9 L219.6,142.0 L222.5,141.1 L225.5,140.2 L228.5,139.3 L231.5,138.4 L234.5,137.4 L237.4,136.4 L240.4,135.5 L243.4,134.5 L246.4,133.6 L249.4,132.7 L252.3,131.8 L255.3,130.9 L258.3,130.1 L261.3,129.3 L264.3,128.5 L267.2,127.9 L270.2,127.3 L273.2,126.7 L276.2,126.3 L279.2,125.9 L282.1,125.7 L285.1,125.4 L288.1,125.3 L291.1,125.2 L294.1,125.1 L297.0,125.1 L300.0,125.0 L303.0,125.0 M303.0,125.0 L306.0,125.0 L308.9,125.1 L311.9,125.1 L314.9,125.2 L317.9,125.3 L320.8,125.4 L323.8,125.7 L326.8,125.9 L329.8,126.2 L332.7,126.7 L335.7,127.2 L338.7,127.9 L341.7,128.5 L344.6,129.2 L347.6,130.1 L350.6,130.9 L353.6,131.8 L356.5,132.7 L359.5,133.6 L362.5,134.5 L365.5,135.4 L368.4,136.4 L371.4,137.4 L374.4,138.3 L377.4,139.3 L380.3,140.2 L383.3,141.1 L386.3,142.0 L389.3,142.9 L392.2,143.8 L395.2,144.7 L398.2,145.6 L401.2,146.6 L404.1,147.6 L407.1,148.7 L410.1,149.8 L413.1,150.9 L416.0,152.1 L419.0,153.3 L422.0,154.6 L425.0,155.9 L427.9,157.3 L430.9,158.7 L433.9,160.2 L436.9,161.7 L439.8,163.2 L442.8,164.7 L445.8,166.3 L448.8,167.9 L451.7,169.4 L454.7,171.0 L457.7,172.5 L460.7,174.1 L463.6,175.6 L466.6,177.1 L469.6,178.7 L472.6,180.2 L475.5,181.8 L478.5,183.3 L481.5,184.9 L484.5,186.5 L487.4,188.0 L490.4,189.6 L493.4,191.2 L496.4,192.8 L499.3,194.4 L502.3,196.1 L505.3,197.7 L508.3,199.4 L511.2,201.0 L514.2,202.7 L517.2,204.3 L520.2,205.9 L523.1,207.5 L526.1,209.0 L529.1,210.6 L532.1,212.0 L535.0,213.5 L538.0,214.9 L541.0,216.2 L544.0,217.6 L546.9,218.9 L549.9,220.2 L552.9,221.5 L555.9,222.8 L558.8,224.1 L561.8,225.4 L564.8,226.7 L567.8,227.9 L570.7,229.2 L573.7,230.6 L576.7,231.9 L579.7,233.2 L582.6,234.6 L585.6,235.9 L588.6,237.2 L591.6,238.6 L594.5,239.9 L597.5,241.3 L600.5,242.6 L603.5,244.0 L606.4,245.3 L609.4,246.7 L612.4,248.0 L615.4,249.3 L618.3,250.5 L621.3,251.7 L624.3,252.8 L627.3,254.0 L630.2,255.1 L633.2,256.2 L636.2,257.2 L639.2,258.3 L642.1,259.2 L645.1,260.2 L648.1,261.1 L651.1,261.9 L654.0,262.7 L657.0,263.5 M2.0,271.9 L5.0,271.2 L8.0,270.6 L10.9,269.9 L13.9,269.3 L16.9,268.6 L19.9,267.9 L22.9,267.3 L25.8,266.6 L28.8,265.9 L31.8,265.3 L34.8,264.6 L37.8,264.0 L40.7,263.3 L43.7,262.7 L46.7,262.1 L49.7,261.4 L52.7,260.8 L55.6,260.2 L58.6,259.5 L61.6,258.9 L64.6,258.2 L67.6,257.5 L70.5,256.8 L73.5,256.1 L76.5,255.4 L79.5,254.6 L82.5,253.9 L85.4,253.1 L88.4,252.3 L91.4,251.5 L94.4,250.7 L97.4,249.9 L100.3,249.1 L103.3,248.2 L106.3,247.4 L109.3,246.6 L112.3,245.8 L115.2,245.0 L118.2,244.2 L121.2,243.5 L124.2,242.7 L127.2,241.9 L130.1,241.1 L133.1,240.4 L136.1,239.6 L139.1,238.8 L142.1,238.1 L145.0,237.3 L148.0,236.6 L151.0,235.8 L154.0,235.0 L157.0,234.3 L160.0,233.5 L162.9,232.7 L165.9,231.9 L168.9,231.2 L171.9,230.4 L174.9,229.7 L177.8,229.0 L180.8,228.3 L183.8,227.7 L186.8,227.0 L189.8,226.4 L192.7,225.8 L195.7,225.3 L198.7,224.7 L201.7,224.2 L204.7,223.7 L207.6,223.2 L210.6,222.8 L213.6,222.3 L216.6,221.9 L219.6,221.4 L222.5,221.0 L225.5,220.5 L228.5,220.1 L231.5,219.6 L234.5,219.1 L237.4,218.7 L240.4,218.2 L243.4,217.7 L246.4,217.3 L249.4,216.8 L252.3,216.4 L255.3,215.9 L258.3,215.5 L261.3,215.1 L264.3,214.7 L267.2,214.4 L270.2,214.1 L273.2,213.8 L276.2,213.6 L279.2,213.5 L282.1,213.3 L285.1,213.2 L288.1,213.1 L291.1,213.1 L294.1,213.1 L297.0,213.0 L300.0,213.0 L303.0,213.0 M303.0,213.0 L306.0,213.0 L308.9,213.0 L311.9,213.1 L314.9,213.1 L317.9,213.1 L320.8,213.2 L323.8,213.3 L326.8,213.5 L329.8,213.6 L332.7,213.8 L335.7,214.1 L338.7,214.4 L341.7,214.7 L344.6,215.1 L347.6,215.5 L350.6,215.9 L353.6,216.4 L356.5,216.8 L359.5,217.2 L362.5,217.7 L365.5,218.2 L368.4,218.6 L371.4,219.1 L374.4,219.6 L377.4,220.1 L380.3,220.5 L383.3,221.0 L386.3,221.4 L389.3,221.8 L392.2,222.3 L395.2,222.7 L398.2,223.2 L401.2,223.7 L404.1,224.2 L407.1,224.7 L410.1,225.3 L413.1,225.8 L416.0,226.4 L419.0,227.0 L422.0,227.6 L425.0,228.3 L427.9,228.9 L430.9,229.7 L433.9,230.4 L436.9,231.1 L439.8,231.9 L442.8,232.6 L445.8,233.4 L448.8,234.2 L451.7,235.0 L454.7,235.7 L457.7,236.5 L460.7,237.2 L463.6,238.0 L466.6,238.8 L469.6,239.5 L472.6,240.3 L475.5,241.1 L478.5,241.8 L481.5,242.6 L484.5,243.4 L487.4,244.1 L490.4,244.9 L493.4,245.7 L496.4,246.5 L499.3,247.3 L502.3,248.1 L505.3,249.0 L508.3,249.8 L511.2,250.6 L514.2,251.4 L517.2,252.2 L520.2,253.0 L523.1,253.8 L526.1,254.5 L529.1,255.3 L532.1,256.0 L535.0,256.7 L538.0,257.4 L541.0,258.1 L544.0,258.8 L546.9,259.4 L549.9,260.1 L552.9,260.7 L555.9,261.3 L558.8,262.0 L561.8,262.6 L564.8,263.2 L567.8,263.9 L570.7,264.5 L573.7,265.2 L576.7,265.8 L579.7,266.5 L582.6,267.2 L585.6,267.8 L588.6,268.5 L591.6,269.1 L594.5,269.8 L597.5,270.5 L600.5,271.1 L603.5,271.8 L606.4,272.5 L609.4,273.1 L612.4,273.8 L615.4,274.4 L618.3,275.0 L621.3,275.6 L624.3,276.2 L627.3,276.7 L630.2,277.3 L633.2,277.8 L636.2,278.4 L639.2,278.9 L642.1,279.4 L645.1,279.8 L648.1,280.3 L651.1,280.7 L654.0,281.1 L657.0,281.4" fill="none" stroke="#7a6000" stroke-width="8" stroke-opacity="0.5" filter="url(#glowb)"/>
<path d="M2,8.8 L657,8.8 M2,123.0 L657,123.0 M2,211.0 L657,211.0 M2,301.0 L657,301.0 M2.0,45.5 L5.0,46.4 L8.0,47.2 L10.9,48.1 L13.9,48.9 L16.9,49.8 L19.9,50.6 L22.9,51.5 L25.8,52.3 L28.8,53.2 L31.8,54.0 L34.8,54.8 L37.8,55.7 L40.7,56.5 L43.7,57.3 L46.7,58.1 L49.7,58.9 L52.7,59.7 L55.6,60.6 L58.6,61.4 L61.6,62.2 L64.6,63.1 L67.6,64.0 L70.5,64.8 L73.5,65.8 L76.5,66.7 L79.5,67.6 L82.5,68.6 L85.4,69.6 L88.4,70.6 L91.4,71.7 L94.4,72.7 L97.4,73.8 L100.3,74.8 L103.3,75.9 L106.3,76.9 L109.3,77.9 L112.3,79.0 L115.2,80.0 L118.2,81.0 L121.2,82.0 L124.2,83.0 L127.2,84.0 L130.1,84.9 L133.1,85.9 L136.1,86.9 L139.1,87.9 L142.1,88.9 L145.0,89.8 L148.0,90.8 L151.0,91.8 L154.0,92.8 L157.0,93.8 L160.0,94.8 L162.9,95.8 L165.9,96.7 L168.9,97.7 L171.9,98.7 L174.9,99.6 L177.8,100.5 L180.8,101.4 L183.8,102.2 L186.8,103.0 L189.8,103.8 L192.7,104.5 L195.7,105.3 L198.7,105.9 L201.7,106.6 L204.7,107.3 L207.6,107.9 L210.6,108.5 L213.6,109.1 L216.6,109.7 L219.6,110.2 L222.5,110.8 L225.5,111.3 L228.5,111.9 L231.5,112.5 L234.5,113.1 L237.4,113.8 L240.4,114.4 L243.4,115.0 L246.4,115.5 L249.4,116.1 L252.3,116.7 L255.3,117.2 L258.3,117.8 L261.3,118.3 L264.3,118.8 L267.2,119.2 L270.2,119.6 L273.2,119.9 L276.2,120.2 L279.2,120.4 L282.1,120.6 L285.1,120.7 L288.1,120.8 L291.1,120.9 L294.1,120.9 L297.0,121.0 L300.0,121.0 L303.0,121.0 M303.0,121.0 L306.0,121.0 L308.9,121.0 L311.9,120.9 L314.9,120.9 L317.9,120.8 L320.8,120.7 L323.8,120.6 L326.8,120.4 L329.8,120.2 L332.7,119.9 L335.7,119.6 L338.7,119.2 L341.7,118.8 L344.6,118.3 L347.6,117.8 L350.6,117.3 L353.6,116.7 L356.5,116.1 L359.5,115.6 L362.5,115.0 L365.5,114.4 L368.4,113.8 L371.4,113.2 L374.4,112.6 L377.4,112.0 L380.3,111.4 L383.3,110.8 L386.3,110.2 L389.3,109.7 L392.2,109.1 L395.2,108.5 L398.2,107.9 L401.2,107.3 L404.1,106.7 L407.1,106.0 L410.1,105.3 L413.1,104.6 L416.0,103.8 L419.0,103.1 L422.0,102.3 L425.0,101.4 L427.9,100.6 L430.9,99.7 L433.9,98.7 L436.9,97.8 L439.8,96.8 L442.8,95.8 L445.8,94.9 L448.8,93.9 L451.7,92.9 L454.7,91.9 L457.7,90.9 L460.7,89.9 L463.6,89.0 L466.6,88.0 L469.6,87.0 L472.6,86.0 L475.5,85.1 L478.5,84.1 L481.5,83.1 L484.5,82.1 L487.4,81.1 L490.4,80.1 L493.4,79.1 L496.4,78.1 L499.3,77.0 L502.3,76.0 L505.3,74.9 L508.3,73.9 L511.2,72.8 L514.2,71.8 L517.2,70.8 L520.2,69.8 L523.1,68.8 L526.1,67.8 L529.1,66.8 L532.1,65.9 L535.0,65.0 L538.0,64.1 L541.0,63.2 L544.0,62.4 L546.9,61.5 L549.9,60.7 L552.9,59.9 L555.9,59.1 L558.8,58.2 L561.8,57.4 L564.8,56.6 L567.8,55.8 L570.7,55.0 L573.7,54.1 L576.7,53.3 L579.7,52.5 L582.6,51.6 L585.6,50.8 L588.6,49.9 L591.6,49.1 L594.5,48.2 L597.5,47.4 L600.5,46.5 L603.5,45.7 L606.4,44.8 L609.4,43.9 L612.4,43.1 L615.4,42.3 L618.3,41.5 L621.3,40.8 L624.3,40.0 L627.3,39.3 L630.2,38.6 L633.2,37.9 L636.2,37.3 L639.2,36.6 L642.1,36.0 L645.1,35.4 L648.1,34.8 L651.1,34.3 L654.0,33.8 L657.0,33.3 M2.0,73.2 L5.0,74.8 L8.0,76.3 L10.9,77.8 L13.9,79.3 L16.9,80.9 L19.9,82.4 L22.9,83.9 L25.8,85.5 L28.8,87.0 L31.8,88.5 L34.8,90.0 L37.8,91.5 L40.7,93.0 L43.7,94.4 L46.7,95.9 L49.7,97.4 L52.7,98.8 L55.6,100.3 L58.6,101.8 L61.6,103.3 L64.6,104.9 L67.6,106.4 L70.5,108.0 L73.5,109.6 L76.5,111.3 L79.5,113.0 L82.5,114.8 L85.4,116.6 L88.4,118.4 L91.4,120.3 L94.4,122.1 L97.4,124.0 L100.3,125.9 L103.3,127.8 L106.3,129.7 L109.3,131.5 L112.3,133.4 L115.2,135.2 L118.2,137.0 L121.2,138.8 L124.2,140.6 L127.2,142.4 L130.1,144.2 L133.1,145.9 L136.1,147.7 L139.1,149.5 L142.1,151.2 L145.0,152.9 L148.0,154.7 L151.0,156.5 L154.0,158.2 L157.0,160.0 L160.0,161.8 L162.9,163.6 L165.9,165.4 L168.9,167.1 L171.9,168.8 L174.9,170.5 L177.8,172.1 L180.8,173.7 L183.8,175.2 L186.8,176.7 L189.8,178.1 L192.7,179.4 L195.7,180.7 L198.7,181.9 L201.7,183.1 L204.7,184.3 L207.6,185.4 L210.6,186.5 L213.6,187.6 L216.6,188.6 L219.6,189.6 L222.5,190.6 L225.5,191.6 L228.5,192.7 L231.5,193.8 L234.5,194.9 L237.4,196.0 L240.4,197.1 L243.4,198.1 L246.4,199.2 L249.4,200.2 L252.3,201.2 L255.3,202.2 L258.3,203.2 L261.3,204.1 L264.3,205.0 L267.2,205.7 L270.2,206.4 L273.2,207.1 L276.2,207.6 L279.2,207.9 L282.1,208.2 L285.1,208.5 L288.1,208.7 L291.1,208.8 L294.1,208.9 L297.0,208.9 L300.0,209.0 L303.0,209.0 M303.0,209.0 L306.0,209.0 L308.9,208.9 L311.9,208.9 L314.9,208.8 L317.9,208.7 L320.8,208.5 L323.8,208.2 L326.8,207.9 L329.8,207.6 L332.7,207.1 L335.7,206.4 L338.7,205.7 L341.7,205.0 L344.6,204.2 L347.6,203.2 L350.6,202.3 L353.6,201.2 L356.5,200.2 L359.5,199.2 L362.5,198.2 L365.5,197.1 L368.4,196.0 L371.4,194.9 L374.4,193.8 L377.4,192.7 L380.3,191.7 L383.3,190.7 L386.3,189.6 L389.3,188.6 L392.2,187.6 L395.2,186.6 L398.2,185.5 L401.2,184.4 L404.1,183.2 L407.1,182.0 L410.1,180.8 L413.1,179.5 L416.0,178.1 L419.0,176.8 L422.0,175.3 L425.0,173.8 L427.9,172.2 L430.9,170.6 L433.9,169.0 L436.9,167.2 L439.8,165.5 L442.8,163.7 L445.8,162.0 L448.8,160.2 L451.7,158.4 L454.7,156.6 L457.7,154.9 L460.7,153.1 L463.6,151.4 L466.6,149.6 L469.6,147.9 L472.6,146.1 L475.5,144.3 L478.5,142.6 L481.5,140.8 L484.5,139.0 L487.4,137.2 L490.4,135.4 L493.4,133.6 L496.4,131.8 L499.3,129.9 L502.3,128.0 L505.3,126.1 L508.3,124.3 L511.2,122.4 L514.2,120.5 L517.2,118.7 L520.2,116.8 L523.1,115.0 L526.1,113.3 L529.1,111.5 L532.1,109.9 L535.0,108.2 L538.0,106.6 L541.0,105.1 L544.0,103.5 L546.9,102.0 L549.9,100.5 L552.9,99.1 L555.9,97.6 L558.8,96.1 L561.8,94.7 L564.8,93.2 L567.8,91.7 L570.7,90.3 L573.7,88.8 L576.7,87.2 L579.7,85.7 L582.6,84.2 L585.6,82.7 L588.6,81.1 L591.6,79.6 L594.5,78.1 L597.5,76.6 L600.5,75.1 L603.5,73.5 L606.4,71.9 L609.4,70.4 L612.4,68.9 L615.4,67.4 L618.3,66.0 L621.3,64.7 L624.3,63.4 L627.3,62.1 L630.2,60.8 L633.2,59.6 L636.2,58.4 L639.2,57.2 L642.1,56.1 L645.1,55.0 L648.1,54.0 L651.1,53.0 L654.0,52.1 L657.0,51.3 M2.0,101.6 L5.0,103.8 L8.0,106.0 L10.9,108.3 L13.9,110.5 L16.9,112.7 L19.9,114.9 L22.9,117.1 L25.8,119.4 L28.8,121.6 L31.8,123.8 L34.8,126.0 L37.8,128.1 L40.7,130.3 L43.7,132.4 L46.7,134.5 L49.7,136.7 L52.7,138.8 L55.6,141.0 L58.6,143.1 L61.6,145.3 L64.6,147.6 L67.6,149.8 L70.5,152.1 L73.5,154.5 L76.5,156.9 L79.5,159.5 L82.5,162.0 L85.4,164.6 L88.4,167.3 L91.4,170.0 L94.4,172.7 L97.4,175.4 L100.3,178.2 L103.3,180.9 L106.3,183.7 L109.3,186.4 L112.3,189.1 L115.2,191.7 L118.2,194.3 L121.2,196.9 L124.2,199.5 L127.2,202.1 L130.1,204.7 L133.1,207.3 L136.1,209.9 L139.1,212.4 L142.1,215.0 L145.0,217.5 L148.0,220.0 L151.0,222.6 L154.0,225.2 L157.0,227.8 L160.0,230.4 L162.9,233.0 L165.9,235.5 L168.9,238.1 L171.9,240.6 L174.9,243.0 L177.8,245.4 L180.8,247.7 L183.8,249.9 L186.8,252.0 L189.8,254.0 L192.7,255.9 L195.7,257.8 L198.7,259.6 L201.7,261.4 L204.7,263.1 L207.6,264.7 L210.6,266.3 L213.6,267.8 L216.6,269.3 L219.6,270.8 L222.5,272.3 L225.5,273.7 L228.5,275.3 L231.5,276.9 L234.5,278.4 L237.4,280.0 L240.4,281.6 L243.4,283.2 L246.4,284.7 L249.4,286.2 L252.3,287.7 L255.3,289.2 L258.3,290.6 L261.3,291.9 L264.3,293.2 L267.2,294.2 L270.2,295.3 L273.2,296.2 L276.2,296.9 L279.2,297.5 L282.1,297.9 L285.1,298.3 L288.1,298.5 L291.1,298.7 L294.1,298.8 L297.0,298.9 L300.0,298.9 L303.0,299.0 M303.0,299.0 L306.0,298.9 L308.9,298.9 L311.9,298.8 L314.9,298.7 L317.9,298.5 L320.8,298.3 L323.8,297.9 L326.8,297.5 L329.8,296.9 L332.7,296.2 L335.7,295.3 L338.7,294.3 L341.7,293.2 L344.6,292.0 L347.6,290.6 L350.6,289.2 L353.6,287.7 L356.5,286.3 L359.5,284.8 L362.5,283.3 L365.5,281.7 L368.4,280.1 L371.4,278.5 L374.4,276.9 L377.4,275.3 L380.3,273.8 L383.3,272.3 L386.3,270.9 L389.3,269.4 L392.2,267.9 L395.2,266.4 L398.2,264.8 L401.2,263.2 L404.1,261.5 L407.1,259.7 L410.1,257.9 L413.1,256.1 L416.0,254.1 L419.0,252.1 L422.0,250.0 L425.0,247.8 L427.9,245.6 L430.9,243.2 L433.9,240.8 L436.9,238.3 L439.8,235.8 L442.8,233.2 L445.8,230.6 L448.8,228.0 L451.7,225.4 L454.7,222.8 L457.7,220.3 L460.7,217.7 L463.6,215.2 L466.6,212.7 L469.6,210.1 L472.6,207.6 L475.5,205.0 L478.5,202.4 L481.5,199.8 L484.5,197.2 L487.4,194.6 L490.4,192.0 L493.4,189.4 L496.4,186.7 L499.3,184.0 L502.3,181.3 L505.3,178.5 L508.3,175.8 L511.2,173.1 L514.2,170.3 L517.2,167.6 L520.2,165.0 L523.1,162.4 L526.1,159.8 L529.1,157.3 L532.1,154.9 L535.0,152.5 L538.0,150.2 L541.0,147.9 L544.0,145.7 L546.9,143.5 L549.9,141.3 L552.9,139.1 L555.9,137.0 L558.8,134.9 L561.8,132.8 L564.8,130.6 L567.8,128.5 L570.7,126.3 L573.7,124.2 L576.7,122.0 L579.7,119.7 L582.6,117.5 L585.6,115.3 L588.6,113.1 L591.6,110.9 L594.5,108.6 L597.5,106.4 L600.5,104.2 L603.5,102.0 L606.4,99.7 L609.4,97.4 L612.4,95.2 L615.4,93.1 L618.3,91.1 L621.3,89.1 L624.3,87.2 L627.3,85.4 L630.2,83.5 L633.2,81.7 L636.2,80.0 L639.2,78.3 L642.1,76.6 L645.1,75.1 L648.1,73.6 L651.1,72.2 L654.0,70.9 L657.0,69.6 M2.0,86.3 L5.0,85.4 L8.0,84.6 L10.9,83.7 L13.9,82.9 L16.9,82.0 L19.9,81.2 L22.9,80.3 L25.8,79.5 L28.8,78.6 L31.8,77.8 L34.8,77.0 L37.8,76.1 L40.7,75.3 L43.7,74.5 L46.7,73.7 L49.7,72.9 L52.7,72.1 L55.6,71.2 L58.6,70.4 L61.6,69.6 L64.6,68.7 L67.6,67.8 L70.5,67.0 L73.5,66.0 L76.5,65.1 L79.5,64.2 L82.5,63.2 L85.4,62.2 L88.4,61.2 L91.4,60.1 L94.4,59.1 L97.4,58.0 L100.3,57.0 L103.3,55.9 L106.3,54.9 L109.3,53.9 L112.3,52.8 L115.2,51.8 L118.2,50.8 L121.2,49.8 L124.2,48.8 L127.2,47.8 L130.1,46.9 L133.1,45.9 L136.1,44.9 L139.1,43.9 L142.1,42.9 L145.0,42.0 L148.0,41.0 L151.0,40.0 L154.0,39.0 L157.0,38.0 L160.0,37.0 L162.9,36.0 L165.9,35.1 L168.9,34.1 L171.9,33.1 L174.9,32.2 L177.8,31.3 L180.8,30.4 L183.8,29.6 L186.8,28.8 L189.8,28.0 L192.7,27.3 L195.7,26.5 L198.7,25.9 L201.7,25.2 L204.7,24.5 L207.6,23.9 L210.6,23.3 L213.6,22.7 L216.6,22.1 L219.6,21.6 L222.5,21.0 L225.5,20.5 L228.5,19.9 L231.5,19.3 L234.5,18.7 L237.4,18.0 L240.4,17.4 L243.4,16.8 L246.4,16.3 L249.4,15.7 L252.3,15.1 L255.3,14.6 L258.3,14.0 L261.3,13.5 L264.3,13.0 L267.2,12.6 L270.2,12.2 L273.2,11.9 L276.2,11.6 L279.2,11.4 L282.1,11.2 L285.1,11.1 L288.1,11.0 L291.1,10.9 L294.1,10.9 L297.0,10.8 L300.0,10.8 L303.0,10.8 M303.0,10.8 L306.0,10.8 L308.9,10.8 L311.9,10.9 L314.9,10.9 L317.9,11.0 L320.8,11.1 L323.8,11.2 L326.8,11.4 L329.8,11.6 L332.7,11.9 L335.7,12.2 L338.7,12.6 L341.7,13.0 L344.6,13.5 L347.6,14.0 L350.6,14.5 L353.6,15.1 L356.5,15.7 L359.5,16.2 L362.5,16.8 L365.5,17.4 L368.4,18.0 L371.4,18.6 L374.4,19.2 L377.4,19.8 L380.3,20.4 L383.3,21.0 L386.3,21.6 L389.3,22.1 L392.2,22.7 L395.2,23.3 L398.2,23.9 L401.2,24.5 L404.1,25.1 L407.1,25.8 L410.1,26.5 L413.1,27.2 L416.0,28.0 L419.0,28.7 L422.0,29.5 L425.0,30.4 L427.9,31.2 L430.9,32.1 L433.9,33.1 L436.9,34.0 L439.8,35.0 L442.8,36.0 L445.8,36.9 L448.8,37.9 L451.7,38.9 L454.7,39.9 L457.7,40.9 L460.7,41.9 L463.6,42.8 L466.6,43.8 L469.6,44.8 L472.6,45.8 L475.5,46.7 L478.5,47.7 L481.5,48.7 L484.5,49.7 L487.4,50.7 L490.4,51.7 L493.4,52.7 L496.4,53.7 L499.3,54.8 L502.3,55.8 L505.3,56.9 L508.3,57.9 L511.2,59.0 L514.2,60.0 L517.2,61.0 L520.2,62.0 L523.1,63.0 L526.1,64.0 L529.1,65.0 L532.1,65.9 L535.0,66.8 L538.0,67.7 L541.0,68.6 L544.0,69.4 L546.9,70.3 L549.9,71.1 L552.9,71.9 L555.9,72.7 L558.8,73.6 L561.8,74.4 L564.8,75.2 L567.8,76.0 L570.7,76.8 L573.7,77.7 L576.7,78.5 L579.7,79.3 L582.6,80.2 L585.6,81.0 L588.6,81.9 L591.6,82.7 L594.5,83.6 L597.5,84.4 L600.5,85.3 L603.5,86.1 L606.4,87.0 L609.4,87.9 L612.4,88.7 L615.4,89.5 L618.3,90.3 L621.3,91.0 L624.3,91.8 L627.3,92.5 L630.2,93.2 L633.2,93.9 L636.2,94.5 L639.2,95.2 L642.1,95.8 L645.1,96.4 L648.1,97.0 L651.1,97.5 L654.0,98.0 L657.0,98.5 M2.0,151.5 L5.0,152.1 L8.0,152.8 L10.9,153.4 L13.9,154.1 L16.9,154.7 L19.9,155.3 L22.9,156.0 L25.8,156.6 L28.8,157.3 L31.8,157.9 L34.8,158.6 L37.8,159.2 L40.7,159.8 L43.7,160.4 L46.7,161.1 L49.7,161.7 L52.7,162.3 L55.6,162.9 L58.6,163.6 L61.6,164.2 L64.6,164.9 L67.6,165.5 L70.5,166.2 L73.5,166.9 L76.5,167.6 L79.5,168.3 L82.5,169.1 L85.4,169.8 L88.4,170.6 L91.4,171.4 L94.4,172.2 L97.4,173.0 L100.3,173.8 L103.3,174.6 L106.3,175.4 L109.3,176.2 L112.3,177.0 L115.2,177.7 L118.2,178.5 L121.2,179.2 L124.2,180.0 L127.2,180.8 L130.1,181.5 L133.1,182.3 L136.1,183.0 L139.1,183.8 L142.1,184.5 L145.0,185.2 L148.0,186.0 L151.0,186.7 L154.0,187.5 L157.0,188.2 L160.0,189.0 L162.9,189.8 L165.9,190.5 L168.9,191.2 L171.9,192.0 L174.9,192.7 L177.8,193.4 L180.8,194.0 L183.8,194.7 L186.8,195.3 L189.8,195.9 L192.7,196.5 L195.7,197.0 L198.7,197.5 L201.7,198.0 L204.7,198.5 L207.6,199.0 L210.6,199.5 L213.6,199.9 L216.6,200.3 L219.6,200.8 L222.5,201.2 L225.5,201.6 L228.5,202.1 L231.5,202.5 L234.5,203.0 L237.4,203.5 L240.4,203.9 L243.4,204.4 L246.4,204.8 L249.4,205.3 L252.3,205.7 L255.3,206.1 L258.3,206.5 L261.3,206.9 L264.3,207.3 L267.2,207.6 L270.2,207.9 L273.2,208.2 L276.2,208.4 L279.2,208.5 L282.1,208.7 L285.1,208.8 L288.1,208.9 L291.1,208.9 L294.1,208.9 L297.0,209.0 L300.0,209.0 L303.0,209.0 M303.0,209.0 L306.0,209.0 L308.9,209.0 L311.9,208.9 L314.9,208.9 L317.9,208.9 L320.8,208.8 L323.8,208.7 L326.8,208.6 L329.8,208.4 L332.7,208.2 L335.7,207.9 L338.7,207.6 L341.7,207.3 L344.6,207.0 L347.6,206.6 L350.6,206.1 L353.6,205.7 L356.5,205.3 L359.5,204.9 L362.5,204.4 L365.5,204.0 L368.4,203.5 L371.4,203.0 L374.4,202.6 L377.4,202.1 L380.3,201.7 L383.3,201.2 L386.3,200.8 L389.3,200.4 L392.2,199.9 L395.2,199.5 L398.2,199.0 L401.2,198.6 L404.1,198.1 L407.1,197.6 L410.1,197.0 L413.1,196.5 L416.0,195.9 L419.0,195.3 L422.0,194.7 L425.0,194.1 L427.9,193.4 L430.9,192.7 L433.9,192.0 L436.9,191.3 L439.8,190.6 L442.8,189.8 L445.8,189.1 L448.8,188.3 L451.7,187.6 L454.7,186.8 L457.7,186.1 L460.7,185.3 L463.6,184.6 L466.6,183.8 L469.6,183.1 L472.6,182.3 L475.5,181.6 L478.5,180.8 L481.5,180.1 L484.5,179.3 L487.4,178.6 L490.4,177.8 L493.4,177.0 L496.4,176.3 L499.3,175.5 L502.3,174.7 L505.3,173.9 L508.3,173.1 L511.2,172.3 L514.2,171.5 L517.2,170.7 L520.2,169.9 L523.1,169.2 L526.1,168.4 L529.1,167.7 L532.1,167.0 L535.0,166.3 L538.0,165.6 L541.0,165.0 L544.0,164.3 L546.9,163.7 L549.9,163.0 L552.9,162.4 L555.9,161.8 L558.8,161.2 L561.8,160.5 L564.8,159.9 L567.8,159.3 L570.7,158.7 L573.7,158.0 L576.7,157.4 L579.7,156.8 L582.6,156.1 L585.6,155.5 L588.6,154.8 L591.6,154.2 L594.5,153.5 L597.5,152.9 L600.5,152.2 L603.5,151.6 L606.4,150.9 L609.4,150.3 L612.4,149.6 L615.4,149.0 L618.3,148.4 L621.3,147.8 L624.3,147.3 L627.3,146.7 L630.2,146.2 L633.2,145.7 L636.2,145.2 L639.2,144.7 L642.1,144.2 L645.1,143.7 L648.1,143.3 L651.1,142.9 L654.0,142.5 L657.0,142.1 M2.0,179.8 L5.0,181.2 L8.0,182.5 L10.9,183.8 L13.9,185.2 L16.9,186.5 L19.9,187.9 L22.9,189.2 L25.8,190.5 L28.8,191.9 L31.8,193.2 L34.8,194.5 L37.8,195.8 L40.7,197.1 L43.7,198.4 L46.7,199.7 L49.7,201.0 L52.7,202.3 L55.6,203.6 L58.6,204.9 L61.6,206.2 L64.6,207.6 L67.6,208.9 L70.5,210.3 L73.5,211.8 L76.5,213.2 L79.5,214.7 L82.5,216.3 L85.4,217.9 L88.4,219.5 L91.4,221.1 L94.4,222.7 L97.4,224.4 L100.3,226.1 L103.3,227.7 L106.3,229.4 L109.3,231.0 L112.3,232.6 L115.2,234.2 L118.2,235.8 L121.2,237.4 L124.2,238.9 L127.2,240.5 L130.1,242.1 L133.1,243.6 L136.1,245.2 L139.1,246.7 L142.1,248.3 L145.0,249.8 L148.0,251.3 L151.0,252.9 L154.0,254.4 L157.0,256.0 L160.0,257.6 L162.9,259.1 L165.9,260.7 L168.9,262.2 L171.9,263.7 L174.9,265.2 L177.8,266.6 L180.8,268.0 L183.8,269.3 L186.8,270.6 L189.8,271.8 L192.7,273.0 L195.7,274.1 L198.7,275.2 L201.7,276.3 L204.7,277.3 L207.6,278.3 L210.6,279.3 L213.6,280.2 L216.6,281.1 L219.6,282.0 L222.5,282.9 L225.5,283.8 L228.5,284.7 L231.5,285.6 L234.5,286.6 L237.4,287.6 L240.4,288.5 L243.4,289.5 L246.4,290.4 L249.4,291.3 L252.3,292.2 L255.3,293.1 L258.3,293.9 L261.3,294.7 L264.3,295.5 L267.2,296.1 L270.2,296.7 L273.2,297.3 L276.2,297.7 L279.2,298.1 L282.1,298.3 L285.1,298.6 L288.1,298.7 L291.1,298.8 L294.1,298.9 L297.0,298.9 L300.0,299.0 L303.0,299.0 M303.0,299.0 L306.0,299.0 L308.9,298.9 L311.9,298.9 L314.9,298.8 L317.9,298.7 L320.8,298.6 L323.8,298.3 L326.8,298.1 L329.8,297.8 L332.7,297.3 L335.7,296.8 L338.7,296.1 L341.7,295.5 L344.6,294.8 L347.6,293.9 L350.6,293.1 L353.6,292.2 L356.5,291.3 L359.5,290.4 L362.5,289.5 L365.5,288.6 L368.4,287.6 L371.4,286.6 L374.4,285.7 L377.4,284.7 L380.3,283.8 L383.3,282.9 L386.3,282.0 L389.3,281.1 L392.2,280.2 L395.2,279.3 L398.2,278.4 L401.2,277.4 L404.1,276.4 L407.1,275.3 L410.1,274.2 L413.1,273.1 L416.0,271.9 L419.0,270.7 L422.0,269.4 L425.0,268.1 L427.9,266.7 L430.9,265.3 L433.9,263.8 L436.9,262.3 L439.8,260.8 L442.8,259.3 L445.8,257.7 L448.8,256.1 L451.7,254.6 L454.7,253.0 L457.7,251.5 L460.7,249.9 L463.6,248.4 L466.6,246.9 L469.6,245.3 L472.6,243.8 L475.5,242.2 L478.5,240.7 L481.5,239.1 L484.5,237.5 L487.4,236.0 L490.4,234.4 L493.4,232.8 L496.4,231.2 L499.3,229.6 L502.3,227.9 L505.3,226.3 L508.3,224.6 L511.2,223.0 L514.2,221.3 L517.2,219.7 L520.2,218.1 L523.1,216.5 L526.1,215.0 L529.1,213.4 L532.1,212.0 L535.0,210.5 L538.0,209.1 L541.0,207.8 L544.0,206.4 L546.9,205.1 L549.9,203.8 L552.9,202.5 L555.9,201.2 L558.8,199.9 L561.8,198.6 L564.8,197.3 L567.8,196.1 L570.7,194.8 L573.7,193.4 L576.7,192.1 L579.7,190.8 L582.6,189.4 L585.6,188.1 L588.6,186.8 L591.6,185.4 L594.5,184.1 L597.5,182.7 L600.5,181.4 L603.5,180.0 L606.4,178.7 L609.4,177.3 L612.4,176.0 L615.4,174.7 L618.3,173.5 L621.3,172.3 L624.3,171.2 L627.3,170.0 L630.2,168.9 L633.2,167.8 L636.2,166.8 L639.2,165.7 L642.1,164.8 L645.1,163.8 L648.1,162.9 L651.1,162.1 L654.0,161.3 L657.0,160.5 M2.0,146.6 L5.0,145.0 L8.0,143.5 L10.9,142.0 L13.9,140.5 L16.9,138.9 L19.9,137.4 L22.9,135.9 L25.8,134.3 L28.8,132.8 L31.8,131.3 L34.8,129.8 L37.8,128.3 L40.7,126.8 L43.7,125.4 L46.7,123.9 L49.7,122.4 L52.7,121.0 L55.6,119.5 L58.6,118.0 L61.6,116.5 L64.6,114.9 L67.6,113.4 L70.5,111.8 L73.5,110.2 L76.5,108.5 L79.5,106.8 L82.5,105.0 L85.4,103.2 L88.4,101.4 L91.4,99.5 L94.4,97.7 L97.4,95.8 L100.3,93.9 L103.3,92.0 L106.3,90.1 L109.3,88.3 L112.3,86.4 L115.2,84.6 L118.2,82.8 L121.2,81.0 L124.2,79.2 L127.2,77.4 L130.1,75.6 L133.1,73.9 L136.1,72.1 L139.1,70.3 L142.1,68.6 L145.0,66.9 L148.0,65.1 L151.0,63.3 L154.0,61.6 L157.0,59.8 L160.0,58.0 L162.9,56.2 L165.9,54.4 L168.9,52.7 L171.9,51.0 L174.9,49.3 L177.8,47.7 L180.8,46.1 L183.8,44.6 L186.8,43.1 L189.8,41.7 L192.7,40.4 L195.7,39.1 L198.7,37.9 L201.7,36.7 L204.7,35.5 L207.6,34.4 L210.6,33.3 L213.6,32.2 L216.6,31.2 L219.6,30.2 L222.5,29.2 L225.5,28.2 L228.5,27.1 L231.5,26.0 L234.5,24.9 L237.4,23.8 L240.4,22.7 L243.4,21.7 L246.4,20.6 L249.4,19.6 L252.3,18.6 L255.3,17.6 L258.3,16.6 L261.3,15.7 L264.3,14.8 L267.2,14.1 L270.2,13.4 L273.2,12.7 L276.2,12.2 L279.2,11.9 L282.1,11.6 L285.1,11.3 L288.1,11.1 L291.1,11.0 L294.1,10.9 L297.0,10.9 L300.0,10.8 L303.0,10.8 M303.0,10.8 L306.0,10.8 L308.9,10.9 L311.9,10.9 L314.9,11.0 L317.9,11.1 L320.8,11.3 L323.8,11.6 L326.8,11.9 L329.8,12.2 L332.7,12.7 L335.7,13.4 L338.7,14.1 L341.7,14.8 L344.6,15.6 L347.6,16.6 L350.6,17.5 L353.6,18.6 L356.5,19.6 L359.5,20.6 L362.5,21.6 L365.5,22.7 L368.4,23.8 L371.4,24.9 L374.4,26.0 L377.4,27.1 L380.3,28.1 L383.3,29.1 L386.3,30.2 L389.3,31.2 L392.2,32.2 L395.2,33.2 L398.2,34.3 L401.2,35.4 L404.1,36.6 L407.1,37.8 L410.1,39.0 L413.1,40.3 L416.0,41.7 L419.0,43.0 L422.0,44.5 L425.0,46.0 L427.9,47.6 L430.9,49.2 L433.9,50.8 L436.9,52.6 L439.8,54.3 L442.8,56.1 L445.8,57.8 L448.8,59.6 L451.7,61.4 L454.7,63.2 L457.7,64.9 L460.7,66.7 L463.6,68.4 L466.6,70.2 L469.6,71.9 L472.6,73.7 L475.5,75.5 L478.5,77.2 L481.5,79.0 L484.5,80.8 L487.4,82.6 L490.4,84.4 L493.4,86.2 L496.4,88.0 L499.3,89.9 L502.3,91.8 L505.3,93.7 L508.3,95.5 L511.2,97.4 L514.2,99.3 L517.2,101.1 L520.2,103.0 L523.1,104.8 L526.1,106.5 L529.1,108.3 L532.1,109.9 L535.0,111.6 L538.0,113.2 L541.0,114.7 L544.0,116.3 L546.9,117.8 L549.9,119.3 L552.9,120.7 L555.9,122.2 L558.8,123.7 L561.8,125.1 L564.8,126.6 L567.8,128.1 L570.7,129.5 L573.7,131.0 L576.7,132.6 L579.7,134.1 L582.6,135.6 L585.6,137.1 L588.6,138.7 L591.6,140.2 L594.5,141.7 L597.5,143.2 L600.5,144.7 L603.5,146.3 L606.4,147.9 L609.4,149.4 L612.4,150.9 L615.4,152.4 L618.3,153.8 L621.3,155.1 L624.3,156.4 L627.3,157.7 L630.2,159.0 L633.2,160.2 L636.2,161.4 L639.2,162.6 L642.1,163.7 L645.1,164.8 L648.1,165.8 L651.1,166.8 L654.0,167.7 L657.0,168.5 M2.0,182.5 L5.0,181.9 L8.0,181.2 L10.9,180.6 L13.9,179.9 L16.9,179.3 L19.9,178.7 L22.9,178.0 L25.8,177.4 L28.8,176.7 L31.8,176.1 L34.8,175.4 L37.8,174.8 L40.7,174.2 L43.7,173.6 L46.7,172.9 L49.7,172.3 L52.7,171.7 L55.6,171.1 L58.6,170.4 L61.6,169.8 L64.6,169.1 L67.6,168.5 L70.5,167.8 L73.5,167.1 L76.5,166.4 L79.5,165.7 L82.5,164.9 L85.4,164.2 L88.4,163.4 L91.4,162.6 L94.4,161.8 L97.4,161.0 L100.3,160.2 L103.3,159.4 L106.3,158.6 L109.3,157.8 L112.3,157.0 L115.2,156.3 L118.2,155.5 L121.2,154.8 L124.2,154.0 L127.2,153.2 L130.1,152.5 L133.1,151.7 L136.1,151.0 L139.1,150.2 L142.1,149.5 L145.0,148.8 L148.0,148.0 L151.0,147.3 L154.0,146.5 L157.0,145.8 L160.0,145.0 L162.9,144.2 L165.9,143.5 L168.9,142.8 L171.9,142.0 L174.9,141.3 L177.8,140.6 L180.8,140.0 L183.8,139.3 L186.8,138.7 L189.8,138.1 L192.7,137.5 L195.7,137.0 L198.7,136.5 L201.7,136.0 L204.7,135.5 L207.6,135.0 L210.6,134.5 L213.6,134.1 L216.6,133.7 L219.6,133.2 L222.5,132.8 L225.5,132.4 L228.5,131.9 L231.5,131.5 L234.5,131.0 L237.4,130.5 L240.4,130.1 L243.4,129.6 L246.4,129.2 L249.4,128.7 L252.3,128.3 L255.3,127.9 L258.3,127.5 L261.3,127.1 L264.3,126.7 L267.2,126.4 L270.2,126.1 L273.2,125.8 L276.2,125.6 L279.2,125.5 L282.1,125.3 L285.1,125.2 L288.1,125.1 L291.1,125.1 L294.1,125.1 L297.0,125.0 L300.0,125.0 L303.0,125.0 M303.0,125.0 L306.0,125.0 L308.9,125.0 L311.9,125.1 L314.9,125.1 L317.9,125.1 L320.8,125.2 L323.8,125.3 L326.8,125.4 L329.8,125.6 L332.7,125.8 L335.7,126.1 L338.7,126.4 L341.7,126.7 L344.6,127.0 L347.6,127.4 L350.6,127.9 L353.6,128.3 L356.5,128.7 L359.5,129.1 L362.5,129.6 L365.5,130.0 L368.4,130.5 L371.4,131.0 L374.4,131.4 L377.4,131.9 L380.3,132.3 L383.3,132.8 L386.3,133.2 L389.3,133.6 L392.2,134.1 L395.2,134.5 L398.2,135.0 L401.2,135.4 L404.1,135.9 L407.1,136.4 L410.1,137.0 L413.1,137.5 L416.0,138.1 L419.0,138.7 L422.0,139.3 L425.0,139.9 L427.9,140.6 L430.9,141.3 L433.9,142.0 L436.9,142.7 L439.8,143.4 L442.8,144.2 L445.8,144.9 L448.8,145.7 L451.7,146.4 L454.7,147.2 L457.7,147.9 L460.7,148.7 L463.6,149.4 L466.6,150.2 L469.6,150.9 L472.6,151.7 L475.5,152.4 L478.5,153.2 L481.5,153.9 L484.5,154.7 L487.4,155.4 L490.4,156.2 L493.4,157.0 L496.4,157.7 L499.3,158.5 L502.3,159.3 L505.3,160.1 L508.3,160.9 L511.2,161.7 L514.2,162.5 L517.2,163.3 L520.2,164.1 L523.1,164.8 L526.1,165.6 L529.1,166.3 L532.1,167.0 L535.0,167.7 L538.0,168.4 L541.0,169.0 L544.0,169.7 L546.9,170.3 L549.9,171.0 L552.9,171.6 L555.9,172.2 L558.8,172.8 L561.8,173.5 L564.8,174.1 L567.8,174.7 L570.7,175.3 L573.7,176.0 L576.7,176.6 L579.7,177.2 L582.6,177.9 L585.6,178.5 L588.6,179.2 L591.6,179.8 L594.5,180.5 L597.5,181.1 L600.5,181.8 L603.5,182.4 L606.4,183.1 L609.4,183.7 L612.4,184.4 L615.4,185.0 L618.3,185.6 L621.3,186.2 L624.3,186.7 L627.3,187.3 L630.2,187.8 L633.2,188.3 L636.2,188.8 L639.2,189.3 L642.1,189.8 L645.1,190.3 L648.1,190.7 L651.1,191.1 L654.0,191.5 L657.0,191.9 M2.0,240.1 L5.0,240.8 L8.0,241.4 L10.9,242.1 L13.9,242.7 L16.9,243.4 L19.9,244.1 L22.9,244.7 L25.8,245.4 L28.8,246.1 L31.8,246.7 L34.8,247.4 L37.8,248.0 L40.7,248.7 L43.7,249.3 L46.7,249.9 L49.7,250.6 L52.7,251.2 L55.6,251.8 L58.6,252.5 L61.6,253.1 L64.6,253.8 L67.6,254.5 L70.5,255.2 L73.5,255.9 L76.5,256.6 L79.5,257.4 L82.5,258.1 L85.4,258.9 L88.4,259.7 L91.4,260.5 L94.4,261.3 L97.4,262.1 L100.3,262.9 L103.3,263.8 L106.3,264.6 L109.3,265.4 L112.3,266.2 L115.2,267.0 L118.2,267.8 L121.2,268.5 L124.2,269.3 L127.2,270.1 L130.1,270.9 L133.1,271.6 L136.1,272.4 L139.1,273.2 L142.1,273.9 L145.0,274.7 L148.0,275.4 L151.0,276.2 L154.0,277.0 L157.0,277.7 L160.0,278.5 L162.9,279.3 L165.9,280.1 L168.9,280.8 L171.9,281.6 L174.9,282.3 L177.8,283.0 L180.8,283.7 L183.8,284.3 L186.8,285.0 L189.8,285.6 L192.7,286.2 L195.7,286.7 L198.7,287.3 L201.7,287.8 L204.7,288.3 L207.6,288.8 L210.6,289.2 L213.6,289.7 L216.6,290.1 L219.6,290.6 L222.5,291.0 L225.5,291.5 L228.5,291.9 L231.5,292.4 L234.5,292.9 L237.4,293.3 L240.4,293.8 L243.4,294.3 L246.4,294.7 L249.4,295.2 L252.3,295.6 L255.3,296.1 L258.3,296.5 L261.3,296.9 L264.3,297.3 L267.2,297.6 L270.2,297.9 L273.2,298.2 L276.2,298.4 L279.2,298.5 L282.1,298.7 L285.1,298.8 L288.1,298.9 L291.1,298.9 L294.1,298.9 L297.0,299.0 L300.0,299.0 L303.0,299.0 M303.0,299.0 L306.0,299.0 L308.9,299.0 L311.9,298.9 L314.9,298.9 L317.9,298.9 L320.8,298.8 L323.8,298.7 L326.8,298.5 L329.8,298.4 L332.7,298.2 L335.7,297.9 L338.7,297.6 L341.7,297.3 L344.6,296.9 L347.6,296.5 L350.6,296.1 L353.6,295.6 L356.5,295.2 L359.5,294.8 L362.5,294.3 L365.5,293.8 L368.4,293.4 L371.4,292.9 L374.4,292.4 L377.4,291.9 L380.3,291.5 L383.3,291.0 L386.3,290.6 L389.3,290.2 L392.2,289.7 L395.2,289.3 L398.2,288.8 L401.2,288.3 L404.1,287.8 L407.1,287.3 L410.1,286.7 L413.1,286.2 L416.0,285.6 L419.0,285.0 L422.0,284.4 L425.0,283.7 L427.9,283.1 L430.9,282.3 L433.9,281.6 L436.9,280.9 L439.8,280.1 L442.8,279.4 L445.8,278.6 L448.8,277.8 L451.7,277.0 L454.7,276.3 L457.7,275.5 L460.7,274.8 L463.6,274.0 L466.6,273.2 L469.6,272.5 L472.6,271.7 L475.5,270.9 L478.5,270.2 L481.5,269.4 L484.5,268.6 L487.4,267.9 L490.4,267.1 L493.4,266.3 L496.4,265.5 L499.3,264.7 L502.3,263.9 L505.3,263.0 L508.3,262.2 L511.2,261.4 L514.2,260.6 L517.2,259.8 L520.2,259.0 L523.1,258.2 L526.1,257.5 L529.1,256.7 L532.1,256.0 L535.0,255.3 L538.0,254.6 L541.0,253.9 L544.0,253.2 L546.9,252.6 L549.9,251.9 L552.9,251.3 L555.9,250.7 L558.8,250.0 L561.8,249.4 L564.8,248.8 L567.8,248.1 L570.7,247.5 L573.7,246.8 L576.7,246.2 L579.7,245.5 L582.6,244.8 L585.6,244.2 L588.6,243.5 L591.6,242.9 L594.5,242.2 L597.5,241.5 L600.5,240.9 L603.5,240.2 L606.4,239.5 L609.4,238.9 L612.4,238.2 L615.4,237.6 L618.3,237.0 L621.3,236.4 L624.3,235.8 L627.3,235.3 L630.2,234.7 L633.2,234.2 L636.2,233.6 L639.2,233.1 L642.1,232.6 L645.1,232.2 L648.1,231.7 L651.1,231.3 L654.0,230.9 L657.0,230.6 M2.0,208.2 L5.0,206.0 L8.0,203.8 L10.9,201.5 L13.9,199.3 L16.9,197.1 L19.9,194.9 L22.9,192.7 L25.8,190.4 L28.8,188.2 L31.8,186.0 L34.8,183.8 L37.8,181.7 L40.7,179.5 L43.7,177.4 L46.7,175.3 L49.7,173.1 L52.7,171.0 L55.6,168.8 L58.6,166.7 L61.6,164.5 L64.6,162.2 L67.6,160.0 L70.5,157.7 L73.5,155.3 L76.5,152.9 L79.5,150.3 L82.5,147.8 L85.4,145.2 L88.4,142.5 L91.4,139.8 L94.4,137.1 L97.4,134.4 L100.3,131.6 L103.3,128.9 L106.3,126.1 L109.3,123.4 L112.3,120.7 L115.2,118.1 L118.2,115.5 L121.2,112.9 L124.2,110.3 L127.2,107.7 L130.1,105.1 L133.1,102.5 L136.1,99.9 L139.1,97.4 L142.1,94.8 L145.0,92.3 L148.0,89.8 L151.0,87.2 L154.0,84.6 L157.0,82.0 L160.0,79.4 L162.9,76.8 L165.9,74.3 L168.9,71.7 L171.9,69.2 L174.9,66.8 L177.8,64.4 L180.8,62.1 L183.8,59.9 L186.8,57.8 L189.8,55.8 L192.7,53.9 L195.7,52.0 L198.7,50.2 L201.7,48.4 L204.7,46.7 L207.6,45.1 L210.6,43.5 L213.6,42.0 L216.6,40.5 L219.6,39.0 L222.5,37.5 L225.5,36.1 L228.5,34.5 L231.5,32.9 L234.5,31.4 L237.4,29.8 L240.4,28.2 L243.4,26.6 L246.4,25.1 L249.4,23.6 L252.3,22.1 L255.3,20.6 L258.3,19.2 L261.3,17.9 L264.3,16.6 L267.2,15.6 L270.2,14.5 L273.2,13.6 L276.2,12.9 L279.2,12.3 L282.1,11.9 L285.1,11.5 L288.1,11.3 L291.1,11.1 L294.1,11.0 L297.0,10.9 L300.0,10.9 L303.0,10.8 M303.0,10.8 L306.0,10.9 L308.9,10.9 L311.9,11.0 L314.9,11.1 L317.9,11.3 L320.8,11.5 L323.8,11.9 L326.8,12.3 L329.8,12.9 L332.7,13.6 L335.7,14.5 L338.7,15.5 L341.7,16.6 L344.6,17.8 L347.6,19.2 L350.6,20.6 L353.6,22.1 L356.5,23.5 L359.5,25.0 L362.5,26.5 L365.5,28.1 L368.4,29.7 L371.4,31.3 L374.4,32.9 L377.4,34.5 L380.3,36.0 L383.3,37.5 L386.3,38.9 L389.3,40.4 L392.2,41.9 L395.2,43.4 L398.2,45.0 L401.2,46.6 L404.1,48.3 L407.1,50.1 L410.1,51.9 L413.1,53.7 L416.0,55.7 L419.0,57.7 L422.0,59.8 L425.0,62.0 L427.9,64.2 L430.9,66.6 L433.9,69.0 L436.9,71.5 L439.8,74.0 L442.8,76.6 L445.8,79.2 L448.8,81.8 L451.7,84.4 L454.7,87.0 L457.7,89.5 L460.7,92.1 L463.6,94.6 L466.6,97.1 L469.6,99.7 L472.6,102.2 L475.5,104.8 L478.5,107.4 L481.5,110.0 L484.5,112.6 L487.4,115.2 L490.4,117.8 L493.4,120.4 L496.4,123.1 L499.3,125.8 L502.3,128.5 L505.3,131.3 L508.3,134.0 L511.2,136.7 L514.2,139.5 L517.2,142.2 L520.2,144.8 L523.1,147.4 L526.1,150.0 L529.1,152.5 L532.1,154.9 L535.0,157.3 L538.0,159.6 L541.0,161.9 L544.0,164.1 L546.9,166.3 L549.9,168.5 L552.9,170.7 L555.9,172.8 L558.8,174.9 L561.8,177.0 L564.8,179.2 L567.8,181.3 L570.7,183.5 L573.7,185.6 L576.7,187.8 L579.7,190.1 L582.6,192.3 L585.6,194.5 L588.6,196.7 L591.6,198.9 L594.5,201.2 L597.5,203.4 L600.5,205.6 L603.5,207.8 L606.4,210.1 L609.4,212.4 L612.4,214.6 L615.4,216.7 L618.3,218.7 L621.3,220.7 L624.3,222.6 L627.3,224.4 L630.2,226.3 L633.2,228.1 L636.2,229.8 L639.2,231.5 L642.1,233.2 L645.1,234.7 L648.1,236.2 L651.1,237.6 L654.0,238.9 L657.0,240.2 M2.0,244.2 L5.0,242.8 L8.0,241.5 L10.9,240.2 L13.9,238.8 L16.9,237.5 L19.9,236.1 L22.9,234.8 L25.8,233.5 L28.8,232.1 L31.8,230.8 L34.8,229.5 L37.8,228.2 L40.7,226.9 L43.7,225.6 L46.7,224.3 L49.7,223.0 L52.7,221.7 L55.6,220.4 L58.6,219.1 L61.6,217.8 L64.6,216.4 L67.6,215.1 L70.5,213.7 L73.5,212.2 L76.5,210.8 L79.5,209.3 L82.5,207.7 L85.4,206.1 L88.4,204.5 L91.4,202.9 L94.4,201.3 L97.4,199.6 L100.3,197.9 L103.3,196.3 L106.3,194.6 L109.3,193.0 L112.3,191.4 L115.2,189.8 L118.2,188.2 L121.2,186.6 L124.2,185.1 L127.2,183.5 L130.1,181.9 L133.1,180.4 L136.1,178.8 L139.1,177.3 L142.1,175.7 L145.0,174.2 L148.0,172.7 L151.0,171.1 L154.0,169.6 L157.0,168.0 L160.0,166.4 L162.9,164.9 L165.9,163.3 L168.9,161.8 L171.9,160.3 L174.9,158.8 L177.8,157.4 L180.8,156.0 L183.8,154.7 L186.8,153.4 L189.8,152.2 L192.7,151.0 L195.7,149.9 L198.7,148.8 L201.7,147.7 L204.7,146.7 L207.6,145.7 L210.6,144.7 L213.6,143.8 L216.6,142.9 L219.6,142.0 L222.5,141.1 L225.5,140.2 L228.5,139.3 L231.5,138.4 L234.5,137.4 L237.4,136.4 L240.4,135.5 L243.4,134.5 L246.4,133.6 L249.4,132.7 L252.3,131.8 L255.3,130.9 L258.3,130.1 L261.3,129.3 L264.3,128.5 L267.2,127.9 L270.2,127.3 L273.2,126.7 L276.2,126.3 L279.2,125.9 L282.1,125.7 L285.1,125.4 L288.1,125.3 L291.1,125.2 L294.1,125.1 L297.0,125.1 L300.0,125.0 L303.0,125.0 M303.0,125.0 L306.0,125.0 L308.9,125.1 L311.9,125.1 L314.9,125.2 L317.9,125.3 L320.8,125.4 L323.8,125.7 L326.8,125.9 L329.8,126.2 L332.7,126.7 L335.7,127.2 L338.7,127.9 L341.7,128.5 L344.6,129.2 L347.6,130.1 L350.6,130.9 L353.6,131.8 L356.5,132.7 L359.5,133.6 L362.5,134.5 L365.5,135.4 L368.4,136.4 L371.4,137.4 L374.4,138.3 L377.4,139.3 L380.3,140.2 L383.3,141.1 L386.3,142.0 L389.3,142.9 L392.2,143.8 L395.2,144.7 L398.2,145.6 L401.2,146.6 L404.1,147.6 L407.1,148.7 L410.1,149.8 L413.1,150.9 L416.0,152.1 L419.0,153.3 L422.0,154.6 L425.0,155.9 L427.9,157.3 L430.9,158.7 L433.9,160.2 L436.9,161.7 L439.8,163.2 L442.8,164.7 L445.8,166.3 L448.8,167.9 L451.7,169.4 L454.7,171.0 L457.7,172.5 L460.7,174.1 L463.6,175.6 L466.6,177.1 L469.6,178.7 L472.6,180.2 L475.5,181.8 L478.5,183.3 L481.5,184.9 L484.5,186.5 L487.4,188.0 L490.4,189.6 L493.4,191.2 L496.4,192.8 L499.3,194.4 L502.3,196.1 L505.3,197.7 L508.3,199.4 L511.2,201.0 L514.2,202.7 L517.2,204.3 L520.2,205.9 L523.1,207.5 L526.1,209.0 L529.1,210.6 L532.1,212.0 L535.0,213.5 L538.0,214.9 L541.0,216.2 L544.0,217.6 L546.9,218.9 L549.9,220.2 L552.9,221.5 L555.9,222.8 L558.8,224.1 L561.8,225.4 L564.8,226.7 L567.8,227.9 L570.7,229.2 L573.7,230.6 L576.7,231.9 L579.7,233.2 L582.6,234.6 L585.6,235.9 L588.6,237.2 L591.6,238.6 L594.5,239.9 L597.5,241.3 L600.5,242.6 L603.5,244.0 L606.4,245.3 L609.4,246.7 L612.4,248.0 L615.4,249.3 L618.3,250.5 L621.3,251.7 L624.3,252.8 L627.3,254.0 L630.2,255.1 L633.2,256.2 L636.2,257.2 L639.2,258.3 L642.1,259.2 L645.1,260.2 L648.1,261.1 L651.1,261.9 L654.0,262.7 L657.0,263.5 M2.0,271.9 L5.0,271.2 L8.0,270.6 L10.9,269.9 L13.9,269.3 L16.9,268.6 L19.9,267.9 L22.9,267.3 L25.8,266.6 L28.8,265.9 L31.8,265.3 L34.8,264.6 L37.8,264.0 L40.7,263.3 L43.7,262.7 L46.7,262.1 L49.7,261.4 L52.7,260.8 L55.6,260.2 L58.6,259.5 L61.6,258.9 L64.6,258.2 L67.6,257.5 L70.5,256.8 L73.5,256.1 L76.5,255.4 L79.5,254.6 L82.5,253.9 L85.4,253.1 L88.4,252.3 L91.4,251.5 L94.4,250.7 L97.4,249.9 L100.3,249.1 L103.3,248.2 L106.3,247.4 L109.3,246.6 L112.3,245.8 L115.2,245.0 L118.2,244.2 L121.2,243.5 L124.2,242.7 L127.2,241.9 L130.1,241.1 L133.1,240.4 L136.1,239.6 L139.1,238.8 L142.1,238.1 L145.0,237.3 L148.0,236.6 L151.0,235.8 L154.0,235.0 L157.0,234.3 L160.0,233.5 L162.9,232.7 L165.9,231.9 L168.9,231.2 L171.9,230.4 L174.9,229.7 L177.8,229.0 L180.8,228.3 L183.8,227.7 L186.8,227.0 L189.8,226.4 L192.7,225.8 L195.7,225.3 L198.7,224.7 L201.7,224.2 L204.7,223.7 L207.6,223.2 L210.6,222.8 L213.6,222.3 L216.6,221.9 L219.6,221.4 L222.5,221.0 L225.5,220.5 L228.5,220.1 L231.5,219.6 L234.5,219.1 L237.4,218.7 L240.4,218.2 L243.4,217.7 L246.4,217.3 L249.4,216.8 L252.3,216.4 L255.3,215.9 L258.3,215.5 L261.3,215.1 L264.3,214.7 L267.2,214.4 L270.2,214.1 L273.2,213.8 L276.2,213.6 L279.2,213.5 L282.1,213.3 L285.1,213.2 L288.1,213.1 L291.1,213.1 L294.1,213.1 L297.0,213.0 L300.0,213.0 L303.0,213.0 M303.0,213.0 L306.0,213.0 L308.9,213.0 L311.9,213.1 L314.9,213.1 L317.9,213.1 L320.8,213.2 L323.8,213.3 L326.8,213.5 L329.8,213.6 L332.7,213.8 L335.7,214.1 L338.7,214.4 L341.7,214.7 L344.6,215.1 L347.6,215.5 L350.6,215.9 L353.6,216.4 L356.5,216.8 L359.5,217.2 L362.5,217.7 L365.5,218.2 L368.4,218.6 L371.4,219.1 L374.4,219.6 L377.4,220.1 L380.3,220.5 L383.3,221.0 L386.3,221.4 L389.3,221.8 L392.2,222.3 L395.2,222.7 L398.2,223.2 L401.2,223.7 L404.1,224.2 L407.1,224.7 L410.1,225.3 L413.1,225.8 L416.0,226.4 L419.0,227.0 L422.0,227.6 L425.0,228.3 L427.9,228.9 L430.9,229.7 L433.9,230.4 L436.9,231.1 L439.8,231.9 L442.8,232.6 L445.8,233.4 L448.8,234.2 L451.7,235.0 L454.7,235.7 L457.7,236.5 L460.7,237.2 L463.6,238.0 L466.6,238.8 L469.6,239.5 L472.6,240.3 L475.5,241.1 L478.5,241.8 L481.5,242.6 L484.5,243.4 L487.4,244.1 L490.4,244.9 L493.4,245.7 L496.4,246.5 L499.3,247.3 L502.3,248.1 L505.3,249.0 L508.3,249.8 L511.2,250.6 L514.2,251.4 L517.2,252.2 L520.2,253.0 L523.1,253.8 L526.1,254.5 L529.1,255.3 L532.1,256.0 L535.0,256.7 L538.0,257.4 L541.0,258.1 L544.0,258.8 L546.9,259.4 L549.9,260.1 L552.9,260.7 L555.9,261.3 L558.8,262.0 L561.8,262.6 L564.8,263.2 L567.8,263.9 L570.7,264.5 L573.7,265.2 L576.7,265.8 L579.7,266.5 L582.6,267.2 L585.6,267.8 L588.6,268.5 L591.6,269.1 L594.5,269.8 L597.5,270.5 L600.5,271.1 L603.5,271.8 L606.4,272.5 L609.4,273.1 L612.4,273.8 L615.4,274.4 L618.3,275.0 L621.3,275.6 L624.3,276.2 L627.3,276.7 L630.2,277.3 L633.2,277.8 L636.2,278.4 L639.2,278.9 L642.1,279.4 L645.1,279.8 L648.1,280.3 L651.1,280.7 L654.0,281.1 L657.0,281.4" fill="none" stroke="#6e5608" stroke-width="5" stroke-opacity="0.55" filter="url(#glows)"/>
<path d="M2,8.8 L657,8.8 M2,123.0 L657,123.0 M2,211.0 L657,211.0 M2,301.0 L657,301.0 M2.0,45.5 L5.0,46.4 L8.0,47.2 L10.9,48.1 L13.9,48.9 L16.9,49.8 L19.9,50.6 L22.9,51.5 L25.8,52.3 L28.8,53.2 L31.8,54.0 L34.8,54.8 L37.8,55.7 L40.7,56.5 L43.7,57.3 L46.7,58.1 L49.7,58.9 L52.7,59.7 L55.6,60.6 L58.6,61.4 L61.6,62.2 L64.6,63.1 L67.6,64.0 L70.5,64.8 L73.5,65.8 L76.5,66.7 L79.5,67.6 L82.5,68.6 L85.4,69.6 L88.4,70.6 L91.4,71.7 L94.4,72.7 L97.4,73.8 L100.3,74.8 L103.3,75.9 L106.3,76.9 L109.3,77.9 L112.3,79.0 L115.2,80.0 L118.2,81.0 L121.2,82.0 L124.2,83.0 L127.2,84.0 L130.1,84.9 L133.1,85.9 L136.1,86.9 L139.1,87.9 L142.1,88.9 L145.0,89.8 L148.0,90.8 L151.0,91.8 L154.0,92.8 L157.0,93.8 L160.0,94.8 L162.9,95.8 L165.9,96.7 L168.9,97.7 L171.9,98.7 L174.9,99.6 L177.8,100.5 L180.8,101.4 L183.8,102.2 L186.8,103.0 L189.8,103.8 L192.7,104.5 L195.7,105.3 L198.7,105.9 L201.7,106.6 L204.7,107.3 L207.6,107.9 L210.6,108.5 L213.6,109.1 L216.6,109.7 L219.6,110.2 L222.5,110.8 L225.5,111.3 L228.5,111.9 L231.5,112.5 L234.5,113.1 L237.4,113.8 L240.4,114.4 L243.4,115.0 L246.4,115.5 L249.4,116.1 L252.3,116.7 L255.3,117.2 L258.3,117.8 L261.3,118.3 L264.3,118.8 L267.2,119.2 L270.2,119.6 L273.2,119.9 L276.2,120.2 L279.2,120.4 L282.1,120.6 L285.1,120.7 L288.1,120.8 L291.1,120.9 L294.1,120.9 L297.0,121.0 L300.0,121.0 L303.0,121.0 M303.0,121.0 L306.0,121.0 L308.9,121.0 L311.9,120.9 L314.9,120.9 L317.9,120.8 L320.8,120.7 L323.8,120.6 L326.8,120.4 L329.8,120.2 L332.7,119.9 L335.7,119.6 L338.7,119.2 L341.7,118.8 L344.6,118.3 L347.6,117.8 L350.6,117.3 L353.6,116.7 L356.5,116.1 L359.5,115.6 L362.5,115.0 L365.5,114.4 L368.4,113.8 L371.4,113.2 L374.4,112.6 L377.4,112.0 L380.3,111.4 L383.3,110.8 L386.3,110.2 L389.3,109.7 L392.2,109.1 L395.2,108.5 L398.2,107.9 L401.2,107.3 L404.1,106.7 L407.1,106.0 L410.1,105.3 L413.1,104.6 L416.0,103.8 L419.0,103.1 L422.0,102.3 L425.0,101.4 L427.9,100.6 L430.9,99.7 L433.9,98.7 L436.9,97.8 L439.8,96.8 L442.8,95.8 L445.8,94.9 L448.8,93.9 L451.7,92.9 L454.7,91.9 L457.7,90.9 L460.7,89.9 L463.6,89.0 L466.6,88.0 L469.6,87.0 L472.6,86.0 L475.5,85.1 L478.5,84.1 L481.5,83.1 L484.5,82.1 L487.4,81.1 L490.4,80.1 L493.4,79.1 L496.4,78.1 L499.3,77.0 L502.3,76.0 L505.3,74.9 L508.3,73.9 L511.2,72.8 L514.2,71.8 L517.2,70.8 L520.2,69.8 L523.1,68.8 L526.1,67.8 L529.1,66.8 L532.1,65.9 L535.0,65.0 L538.0,64.1 L541.0,63.2 L544.0,62.4 L546.9,61.5 L549.9,60.7 L552.9,59.9 L555.9,59.1 L558.8,58.2 L561.8,57.4 L564.8,56.6 L567.8,55.8 L570.7,55.0 L573.7,54.1 L576.7,53.3 L579.7,52.5 L582.6,51.6 L585.6,50.8 L588.6,49.9 L591.6,49.1 L594.5,48.2 L597.5,47.4 L600.5,46.5 L603.5,45.7 L606.4,44.8 L609.4,43.9 L612.4,43.1 L615.4,42.3 L618.3,41.5 L621.3,40.8 L624.3,40.0 L627.3,39.3 L630.2,38.6 L633.2,37.9 L636.2,37.3 L639.2,36.6 L642.1,36.0 L645.1,35.4 L648.1,34.8 L651.1,34.3 L654.0,33.8 L657.0,33.3 M2.0,73.2 L5.0,74.8 L8.0,76.3 L10.9,77.8 L13.9,79.3 L16.9,80.9 L19.9,82.4 L22.9,83.9 L25.8,85.5 L28.8,87.0 L31.8,88.5 L34.8,90.0 L37.8,91.5 L40.7,93.0 L43.7,94.4 L46.7,95.9 L49.7,97.4 L52.7,98.8 L55.6,100.3 L58.6,101.8 L61.6,103.3 L64.6,104.9 L67.6,106.4 L70.5,108.0 L73.5,109.6 L76.5,111.3 L79.5,113.0 L82.5,114.8 L85.4,116.6 L88.4,118.4 L91.4,120.3 L94.4,122.1 L97.4,124.0 L100.3,125.9 L103.3,127.8 L106.3,129.7 L109.3,131.5 L112.3,133.4 L115.2,135.2 L118.2,137.0 L121.2,138.8 L124.2,140.6 L127.2,142.4 L130.1,144.2 L133.1,145.9 L136.1,147.7 L139.1,149.5 L142.1,151.2 L145.0,152.9 L148.0,154.7 L151.0,156.5 L154.0,158.2 L157.0,160.0 L160.0,161.8 L162.9,163.6 L165.9,165.4 L168.9,167.1 L171.9,168.8 L174.9,170.5 L177.8,172.1 L180.8,173.7 L183.8,175.2 L186.8,176.7 L189.8,178.1 L192.7,179.4 L195.7,180.7 L198.7,181.9 L201.7,183.1 L204.7,184.3 L207.6,185.4 L210.6,186.5 L213.6,187.6 L216.6,188.6 L219.6,189.6 L222.5,190.6 L225.5,191.6 L228.5,192.7 L231.5,193.8 L234.5,194.9 L237.4,196.0 L240.4,197.1 L243.4,198.1 L246.4,199.2 L249.4,200.2 L252.3,201.2 L255.3,202.2 L258.3,203.2 L261.3,204.1 L264.3,205.0 L267.2,205.7 L270.2,206.4 L273.2,207.1 L276.2,207.6 L279.2,207.9 L282.1,208.2 L285.1,208.5 L288.1,208.7 L291.1,208.8 L294.1,208.9 L297.0,208.9 L300.0,209.0 L303.0,209.0 M303.0,209.0 L306.0,209.0 L308.9,208.9 L311.9,208.9 L314.9,208.8 L317.9,208.7 L320.8,208.5 L323.8,208.2 L326.8,207.9 L329.8,207.6 L332.7,207.1 L335.7,206.4 L338.7,205.7 L341.7,205.0 L344.6,204.2 L347.6,203.2 L350.6,202.3 L353.6,201.2 L356.5,200.2 L359.5,199.2 L362.5,198.2 L365.5,197.1 L368.4,196.0 L371.4,194.9 L374.4,193.8 L377.4,192.7 L380.3,191.7 L383.3,190.7 L386.3,189.6 L389.3,188.6 L392.2,187.6 L395.2,186.6 L398.2,185.5 L401.2,184.4 L404.1,183.2 L407.1,182.0 L410.1,180.8 L413.1,179.5 L416.0,178.1 L419.0,176.8 L422.0,175.3 L425.0,173.8 L427.9,172.2 L430.9,170.6 L433.9,169.0 L436.9,167.2 L439.8,165.5 L442.8,163.7 L445.8,162.0 L448.8,160.2 L451.7,158.4 L454.7,156.6 L457.7,154.9 L460.7,153.1 L463.6,151.4 L466.6,149.6 L469.6,147.9 L472.6,146.1 L475.5,144.3 L478.5,142.6 L481.5,140.8 L484.5,139.0 L487.4,137.2 L490.4,135.4 L493.4,133.6 L496.4,131.8 L499.3,129.9 L502.3,128.0 L505.3,126.1 L508.3,124.3 L511.2,122.4 L514.2,120.5 L517.2,118.7 L520.2,116.8 L523.1,115.0 L526.1,113.3 L529.1,111.5 L532.1,109.9 L535.0,108.2 L538.0,106.6 L541.0,105.1 L544.0,103.5 L546.9,102.0 L549.9,100.5 L552.9,99.1 L555.9,97.6 L558.8,96.1 L561.8,94.7 L564.8,93.2 L567.8,91.7 L570.7,90.3 L573.7,88.8 L576.7,87.2 L579.7,85.7 L582.6,84.2 L585.6,82.7 L588.6,81.1 L591.6,79.6 L594.5,78.1 L597.5,76.6 L600.5,75.1 L603.5,73.5 L606.4,71.9 L609.4,70.4 L612.4,68.9 L615.4,67.4 L618.3,66.0 L621.3,64.7 L624.3,63.4 L627.3,62.1 L630.2,60.8 L633.2,59.6 L636.2,58.4 L639.2,57.2 L642.1,56.1 L645.1,55.0 L648.1,54.0 L651.1,53.0 L654.0,52.1 L657.0,51.3 M2.0,101.6 L5.0,103.8 L8.0,106.0 L10.9,108.3 L13.9,110.5 L16.9,112.7 L19.9,114.9 L22.9,117.1 L25.8,119.4 L28.8,121.6 L31.8,123.8 L34.8,126.0 L37.8,128.1 L40.7,130.3 L43.7,132.4 L46.7,134.5 L49.7,136.7 L52.7,138.8 L55.6,141.0 L58.6,143.1 L61.6,145.3 L64.6,147.6 L67.6,149.8 L70.5,152.1 L73.5,154.5 L76.5,156.9 L79.5,159.5 L82.5,162.0 L85.4,164.6 L88.4,167.3 L91.4,170.0 L94.4,172.7 L97.4,175.4 L100.3,178.2 L103.3,180.9 L106.3,183.7 L109.3,186.4 L112.3,189.1 L115.2,191.7 L118.2,194.3 L121.2,196.9 L124.2,199.5 L127.2,202.1 L130.1,204.7 L133.1,207.3 L136.1,209.9 L139.1,212.4 L142.1,215.0 L145.0,217.5 L148.0,220.0 L151.0,222.6 L154.0,225.2 L157.0,227.8 L160.0,230.4 L162.9,233.0 L165.9,235.5 L168.9,238.1 L171.9,240.6 L174.9,243.0 L177.8,245.4 L180.8,247.7 L183.8,249.9 L186.8,252.0 L189.8,254.0 L192.7,255.9 L195.7,257.8 L198.7,259.6 L201.7,261.4 L204.7,263.1 L207.6,264.7 L210.6,266.3 L213.6,267.8 L216.6,269.3 L219.6,270.8 L222.5,272.3 L225.5,273.7 L228.5,275.3 L231.5,276.9 L234.5,278.4 L237.4,280.0 L240.4,281.6 L243.4,283.2 L246.4,284.7 L249.4,286.2 L252.3,287.7 L255.3,289.2 L258.3,290.6 L261.3,291.9 L264.3,293.2 L267.2,294.2 L270.2,295.3 L273.2,296.2 L276.2,296.9 L279.2,297.5 L282.1,297.9 L285.1,298.3 L288.1,298.5 L291.1,298.7 L294.1,298.8 L297.0,298.9 L300.0,298.9 L303.0,299.0 M303.0,299.0 L306.0,298.9 L308.9,298.9 L311.9,298.8 L314.9,298.7 L317.9,298.5 L320.8,298.3 L323.8,297.9 L326.8,297.5 L329.8,296.9 L332.7,296.2 L335.7,295.3 L338.7,294.3 L341.7,293.2 L344.6,292.0 L347.6,290.6 L350.6,289.2 L353.6,287.7 L356.5,286.3 L359.5,284.8 L362.5,283.3 L365.5,281.7 L368.4,280.1 L371.4,278.5 L374.4,276.9 L377.4,275.3 L380.3,273.8 L383.3,272.3 L386.3,270.9 L389.3,269.4 L392.2,267.9 L395.2,266.4 L398.2,264.8 L401.2,263.2 L404.1,261.5 L407.1,259.7 L410.1,257.9 L413.1,256.1 L416.0,254.1 L419.0,252.1 L422.0,250.0 L425.0,247.8 L427.9,245.6 L430.9,243.2 L433.9,240.8 L436.9,238.3 L439.8,235.8 L442.8,233.2 L445.8,230.6 L448.8,228.0 L451.7,225.4 L454.7,222.8 L457.7,220.3 L460.7,217.7 L463.6,215.2 L466.6,212.7 L469.6,210.1 L472.6,207.6 L475.5,205.0 L478.5,202.4 L481.5,199.8 L484.5,197.2 L487.4,194.6 L490.4,192.0 L493.4,189.4 L496.4,186.7 L499.3,184.0 L502.3,181.3 L505.3,178.5 L508.3,175.8 L511.2,173.1 L514.2,170.3 L517.2,167.6 L520.2,165.0 L523.1,162.4 L526.1,159.8 L529.1,157.3 L532.1,154.9 L535.0,152.5 L538.0,150.2 L541.0,147.9 L544.0,145.7 L546.9,143.5 L549.9,141.3 L552.9,139.1 L555.9,137.0 L558.8,134.9 L561.8,132.8 L564.8,130.6 L567.8,128.5 L570.7,126.3 L573.7,124.2 L576.7,122.0 L579.7,119.7 L582.6,117.5 L585.6,115.3 L588.6,113.1 L591.6,110.9 L594.5,108.6 L597.5,106.4 L600.5,104.2 L603.5,102.0 L606.4,99.7 L609.4,97.4 L612.4,95.2 L615.4,93.1 L618.3,91.1 L621.3,89.1 L624.3,87.2 L627.3,85.4 L630.2,83.5 L633.2,81.7 L636.2,80.0 L639.2,78.3 L642.1,76.6 L645.1,75.1 L648.1,73.6 L651.1,72.2 L654.0,70.9 L657.0,69.6 M2.0,86.3 L5.0,85.4 L8.0,84.6 L10.9,83.7 L13.9,82.9 L16.9,82.0 L19.9,81.2 L22.9,80.3 L25.8,79.5 L28.8,78.6 L31.8,77.8 L34.8,77.0 L37.8,76.1 L40.7,75.3 L43.7,74.5 L46.7,73.7 L49.7,72.9 L52.7,72.1 L55.6,71.2 L58.6,70.4 L61.6,69.6 L64.6,68.7 L67.6,67.8 L70.5,67.0 L73.5,66.0 L76.5,65.1 L79.5,64.2 L82.5,63.2 L85.4,62.2 L88.4,61.2 L91.4,60.1 L94.4,59.1 L97.4,58.0 L100.3,57.0 L103.3,55.9 L106.3,54.9 L109.3,53.9 L112.3,52.8 L115.2,51.8 L118.2,50.8 L121.2,49.8 L124.2,48.8 L127.2,47.8 L130.1,46.9 L133.1,45.9 L136.1,44.9 L139.1,43.9 L142.1,42.9 L145.0,42.0 L148.0,41.0 L151.0,40.0 L154.0,39.0 L157.0,38.0 L160.0,37.0 L162.9,36.0 L165.9,35.1 L168.9,34.1 L171.9,33.1 L174.9,32.2 L177.8,31.3 L180.8,30.4 L183.8,29.6 L186.8,28.8 L189.8,28.0 L192.7,27.3 L195.7,26.5 L198.7,25.9 L201.7,25.2 L204.7,24.5 L207.6,23.9 L210.6,23.3 L213.6,22.7 L216.6,22.1 L219.6,21.6 L222.5,21.0 L225.5,20.5 L228.5,19.9 L231.5,19.3 L234.5,18.7 L237.4,18.0 L240.4,17.4 L243.4,16.8 L246.4,16.3 L249.4,15.7 L252.3,15.1 L255.3,14.6 L258.3,14.0 L261.3,13.5 L264.3,13.0 L267.2,12.6 L270.2,12.2 L273.2,11.9 L276.2,11.6 L279.2,11.4 L282.1,11.2 L285.1,11.1 L288.1,11.0 L291.1,10.9 L294.1,10.9 L297.0,10.8 L300.0,10.8 L303.0,10.8 M303.0,10.8 L306.0,10.8 L308.9,10.8 L311.9,10.9 L314.9,10.9 L317.9,11.0 L320.8,11.1 L323.8,11.2 L326.8,11.4 L329.8,11.6 L332.7,11.9 L335.7,12.2 L338.7,12.6 L341.7,13.0 L344.6,13.5 L347.6,14.0 L350.6,14.5 L353.6,15.1 L356.5,15.7 L359.5,16.2 L362.5,16.8 L365.5,17.4 L368.4,18.0 L371.4,18.6 L374.4,19.2 L377.4,19.8 L380.3,20.4 L383.3,21.0 L386.3,21.6 L389.3,22.1 L392.2,22.7 L395.2,23.3 L398.2,23.9 L401.2,24.5 L404.1,25.1 L407.1,25.8 L410.1,26.5 L413.1,27.2 L416.0,28.0 L419.0,28.7 L422.0,29.5 L425.0,30.4 L427.9,31.2 L430.9,32.1 L433.9,33.1 L436.9,34.0 L439.8,35.0 L442.8,36.0 L445.8,36.9 L448.8,37.9 L451.7,38.9 L454.7,39.9 L457.7,40.9 L460.7,41.9 L463.6,42.8 L466.6,43.8 L469.6,44.8 L472.6,45.8 L475.5,46.7 L478.5,47.7 L481.5,48.7 L484.5,49.7 L487.4,50.7 L490.4,51.7 L493.4,52.7 L496.4,53.7 L499.3,54.8 L502.3,55.8 L505.3,56.9 L508.3,57.9 L511.2,59.0 L514.2,60.0 L517.2,61.0 L520.2,62.0 L523.1,63.0 L526.1,64.0 L529.1,65.0 L532.1,65.9 L535.0,66.8 L538.0,67.7 L541.0,68.6 L544.0,69.4 L546.9,70.3 L549.9,71.1 L552.9,71.9 L555.9,72.7 L558.8,73.6 L561.8,74.4 L564.8,75.2 L567.8,76.0 L570.7,76.8 L573.7,77.7 L576.7,78.5 L579.7,79.3 L582.6,80.2 L585.6,81.0 L588.6,81.9 L591.6,82.7 L594.5,83.6 L597.5,84.4 L600.5,85.3 L603.5,86.1 L606.4,87.0 L609.4,87.9 L612.4,88.7 L615.4,89.5 L618.3,90.3 L621.3,91.0 L624.3,91.8 L627.3,92.5 L630.2,93.2 L633.2,93.9 L636.2,94.5 L639.2,95.2 L642.1,95.8 L645.1,96.4 L648.1,97.0 L651.1,97.5 L654.0,98.0 L657.0,98.5 M2.0,151.5 L5.0,152.1 L8.0,152.8 L10.9,153.4 L13.9,154.1 L16.9,154.7 L19.9,155.3 L22.9,156.0 L25.8,156.6 L28.8,157.3 L31.8,157.9 L34.8,158.6 L37.8,159.2 L40.7,159.8 L43.7,160.4 L46.7,161.1 L49.7,161.7 L52.7,162.3 L55.6,162.9 L58.6,163.6 L61.6,164.2 L64.6,164.9 L67.6,165.5 L70.5,166.2 L73.5,166.9 L76.5,167.6 L79.5,168.3 L82.5,169.1 L85.4,169.8 L88.4,170.6 L91.4,171.4 L94.4,172.2 L97.4,173.0 L100.3,173.8 L103.3,174.6 L106.3,175.4 L109.3,176.2 L112.3,177.0 L115.2,177.7 L118.2,178.5 L121.2,179.2 L124.2,180.0 L127.2,180.8 L130.1,181.5 L133.1,182.3 L136.1,183.0 L139.1,183.8 L142.1,184.5 L145.0,185.2 L148.0,186.0 L151.0,186.7 L154.0,187.5 L157.0,188.2 L160.0,189.0 L162.9,189.8 L165.9,190.5 L168.9,191.2 L171.9,192.0 L174.9,192.7 L177.8,193.4 L180.8,194.0 L183.8,194.7 L186.8,195.3 L189.8,195.9 L192.7,196.5 L195.7,197.0 L198.7,197.5 L201.7,198.0 L204.7,198.5 L207.6,199.0 L210.6,199.5 L213.6,199.9 L216.6,200.3 L219.6,200.8 L222.5,201.2 L225.5,201.6 L228.5,202.1 L231.5,202.5 L234.5,203.0 L237.4,203.5 L240.4,203.9 L243.4,204.4 L246.4,204.8 L249.4,205.3 L252.3,205.7 L255.3,206.1 L258.3,206.5 L261.3,206.9 L264.3,207.3 L267.2,207.6 L270.2,207.9 L273.2,208.2 L276.2,208.4 L279.2,208.5 L282.1,208.7 L285.1,208.8 L288.1,208.9 L291.1,208.9 L294.1,208.9 L297.0,209.0 L300.0,209.0 L303.0,209.0 M303.0,209.0 L306.0,209.0 L308.9,209.0 L311.9,208.9 L314.9,208.9 L317.9,208.9 L320.8,208.8 L323.8,208.7 L326.8,208.6 L329.8,208.4 L332.7,208.2 L335.7,207.9 L338.7,207.6 L341.7,207.3 L344.6,207.0 L347.6,206.6 L350.6,206.1 L353.6,205.7 L356.5,205.3 L359.5,204.9 L362.5,204.4 L365.5,204.0 L368.4,203.5 L371.4,203.0 L374.4,202.6 L377.4,202.1 L380.3,201.7 L383.3,201.2 L386.3,200.8 L389.3,200.4 L392.2,199.9 L395.2,199.5 L398.2,199.0 L401.2,198.6 L404.1,198.1 L407.1,197.6 L410.1,197.0 L413.1,196.5 L416.0,195.9 L419.0,195.3 L422.0,194.7 L425.0,194.1 L427.9,193.4 L430.9,192.7 L433.9,192.0 L436.9,191.3 L439.8,190.6 L442.8,189.8 L445.8,189.1 L448.8,188.3 L451.7,187.6 L454.7,186.8 L457.7,186.1 L460.7,185.3 L463.6,184.6 L466.6,183.8 L469.6,183.1 L472.6,182.3 L475.5,181.6 L478.5,180.8 L481.5,180.1 L484.5,179.3 L487.4,178.6 L490.4,177.8 L493.4,177.0 L496.4,176.3 L499.3,175.5 L502.3,174.7 L505.3,173.9 L508.3,173.1 L511.2,172.3 L514.2,171.5 L517.2,170.7 L520.2,169.9 L523.1,169.2 L526.1,168.4 L529.1,167.7 L532.1,167.0 L535.0,166.3 L538.0,165.6 L541.0,165.0 L544.0,164.3 L546.9,163.7 L549.9,163.0 L552.9,162.4 L555.9,161.8 L558.8,161.2 L561.8,160.5 L564.8,159.9 L567.8,159.3 L570.7,158.7 L573.7,158.0 L576.7,157.4 L579.7,156.8 L582.6,156.1 L585.6,155.5 L588.6,154.8 L591.6,154.2 L594.5,153.5 L597.5,152.9 L600.5,152.2 L603.5,151.6 L606.4,150.9 L609.4,150.3 L612.4,149.6 L615.4,149.0 L618.3,148.4 L621.3,147.8 L624.3,147.3 L627.3,146.7 L630.2,146.2 L633.2,145.7 L636.2,145.2 L639.2,144.7 L642.1,144.2 L645.1,143.7 L648.1,143.3 L651.1,142.9 L654.0,142.5 L657.0,142.1 M2.0,179.8 L5.0,181.2 L8.0,182.5 L10.9,183.8 L13.9,185.2 L16.9,186.5 L19.9,187.9 L22.9,189.2 L25.8,190.5 L28.8,191.9 L31.8,193.2 L34.8,194.5 L37.8,195.8 L40.7,197.1 L43.7,198.4 L46.7,199.7 L49.7,201.0 L52.7,202.3 L55.6,203.6 L58.6,204.9 L61.6,206.2 L64.6,207.6 L67.6,208.9 L70.5,210.3 L73.5,211.8 L76.5,213.2 L79.5,214.7 L82.5,216.3 L85.4,217.9 L88.4,219.5 L91.4,221.1 L94.4,222.7 L97.4,224.4 L100.3,226.1 L103.3,227.7 L106.3,229.4 L109.3,231.0 L112.3,232.6 L115.2,234.2 L118.2,235.8 L121.2,237.4 L124.2,238.9 L127.2,240.5 L130.1,242.1 L133.1,243.6 L136.1,245.2 L139.1,246.7 L142.1,248.3 L145.0,249.8 L148.0,251.3 L151.0,252.9 L154.0,254.4 L157.0,256.0 L160.0,257.6 L162.9,259.1 L165.9,260.7 L168.9,262.2 L171.9,263.7 L174.9,265.2 L177.8,266.6 L180.8,268.0 L183.8,269.3 L186.8,270.6 L189.8,271.8 L192.7,273.0 L195.7,274.1 L198.7,275.2 L201.7,276.3 L204.7,277.3 L207.6,278.3 L210.6,279.3 L213.6,280.2 L216.6,281.1 L219.6,282.0 L222.5,282.9 L225.5,283.8 L228.5,284.7 L231.5,285.6 L234.5,286.6 L237.4,287.6 L240.4,288.5 L243.4,289.5 L246.4,290.4 L249.4,291.3 L252.3,292.2 L255.3,293.1 L258.3,293.9 L261.3,294.7 L264.3,295.5 L267.2,296.1 L270.2,296.7 L273.2,297.3 L276.2,297.7 L279.2,298.1 L282.1,298.3 L285.1,298.6 L288.1,298.7 L291.1,298.8 L294.1,298.9 L297.0,298.9 L300.0,299.0 L303.0,299.0 M303.0,299.0 L306.0,299.0 L308.9,298.9 L311.9,298.9 L314.9,298.8 L317.9,298.7 L320.8,298.6 L323.8,298.3 L326.8,298.1 L329.8,297.8 L332.7,297.3 L335.7,296.8 L338.7,296.1 L341.7,295.5 L344.6,294.8 L347.6,293.9 L350.6,293.1 L353.6,292.2 L356.5,291.3 L359.5,290.4 L362.5,289.5 L365.5,288.6 L368.4,287.6 L371.4,286.6 L374.4,285.7 L377.4,284.7 L380.3,283.8 L383.3,282.9 L386.3,282.0 L389.3,281.1 L392.2,280.2 L395.2,279.3 L398.2,278.4 L401.2,277.4 L404.1,276.4 L407.1,275.3 L410.1,274.2 L413.1,273.1 L416.0,271.9 L419.0,270.7 L422.0,269.4 L425.0,268.1 L427.9,266.7 L430.9,265.3 L433.9,263.8 L436.9,262.3 L439.8,260.8 L442.8,259.3 L445.8,257.7 L448.8,256.1 L451.7,254.6 L454.7,253.0 L457.7,251.5 L460.7,249.9 L463.6,248.4 L466.6,246.9 L469.6,245.3 L472.6,243.8 L475.5,242.2 L478.5,240.7 L481.5,239.1 L484.5,237.5 L487.4,236.0 L490.4,234.4 L493.4,232.8 L496.4,231.2 L499.3,229.6 L502.3,227.9 L505.3,226.3 L508.3,224.6 L511.2,223.0 L514.2,221.3 L517.2,219.7 L520.2,218.1 L523.1,216.5 L526.1,215.0 L529.1,213.4 L532.1,212.0 L535.0,210.5 L538.0,209.1 L541.0,207.8 L544.0,206.4 L546.9,205.1 L549.9,203.8 L552.9,202.5 L555.9,201.2 L558.8,199.9 L561.8,198.6 L564.8,197.3 L567.8,196.1 L570.7,194.8 L573.7,193.4 L576.7,192.1 L579.7,190.8 L582.6,189.4 L585.6,188.1 L588.6,186.8 L591.6,185.4 L594.5,184.1 L597.5,182.7 L600.5,181.4 L603.5,180.0 L606.4,178.7 L609.4,177.3 L612.4,176.0 L615.4,174.7 L618.3,173.5 L621.3,172.3 L624.3,171.2 L627.3,170.0 L630.2,168.9 L633.2,167.8 L636.2,166.8 L639.2,165.7 L642.1,164.8 L645.1,163.8 L648.1,162.9 L651.1,162.1 L654.0,161.3 L657.0,160.5 M2.0,146.6 L5.0,145.0 L8.0,143.5 L10.9,142.0 L13.9,140.5 L16.9,138.9 L19.9,137.4 L22.9,135.9 L25.8,134.3 L28.8,132.8 L31.8,131.3 L34.8,129.8 L37.8,128.3 L40.7,126.8 L43.7,125.4 L46.7,123.9 L49.7,122.4 L52.7,121.0 L55.6,119.5 L58.6,118.0 L61.6,116.5 L64.6,114.9 L67.6,113.4 L70.5,111.8 L73.5,110.2 L76.5,108.5 L79.5,106.8 L82.5,105.0 L85.4,103.2 L88.4,101.4 L91.4,99.5 L94.4,97.7 L97.4,95.8 L100.3,93.9 L103.3,92.0 L106.3,90.1 L109.3,88.3 L112.3,86.4 L115.2,84.6 L118.2,82.8 L121.2,81.0 L124.2,79.2 L127.2,77.4 L130.1,75.6 L133.1,73.9 L136.1,72.1 L139.1,70.3 L142.1,68.6 L145.0,66.9 L148.0,65.1 L151.0,63.3 L154.0,61.6 L157.0,59.8 L160.0,58.0 L162.9,56.2 L165.9,54.4 L168.9,52.7 L171.9,51.0 L174.9,49.3 L177.8,47.7 L180.8,46.1 L183.8,44.6 L186.8,43.1 L189.8,41.7 L192.7,40.4 L195.7,39.1 L198.7,37.9 L201.7,36.7 L204.7,35.5 L207.6,34.4 L210.6,33.3 L213.6,32.2 L216.6,31.2 L219.6,30.2 L222.5,29.2 L225.5,28.2 L228.5,27.1 L231.5,26.0 L234.5,24.9 L237.4,23.8 L240.4,22.7 L243.4,21.7 L246.4,20.6 L249.4,19.6 L252.3,18.6 L255.3,17.6 L258.3,16.6 L261.3,15.7 L264.3,14.8 L267.2,14.1 L270.2,13.4 L273.2,12.7 L276.2,12.2 L279.2,11.9 L282.1,11.6 L285.1,11.3 L288.1,11.1 L291.1,11.0 L294.1,10.9 L297.0,10.9 L300.0,10.8 L303.0,10.8 M303.0,10.8 L306.0,10.8 L308.9,10.9 L311.9,10.9 L314.9,11.0 L317.9,11.1 L320.8,11.3 L323.8,11.6 L326.8,11.9 L329.8,12.2 L332.7,12.7 L335.7,13.4 L338.7,14.1 L341.7,14.8 L344.6,15.6 L347.6,16.6 L350.6,17.5 L353.6,18.6 L356.5,19.6 L359.5,20.6 L362.5,21.6 L365.5,22.7 L368.4,23.8 L371.4,24.9 L374.4,26.0 L377.4,27.1 L380.3,28.1 L383.3,29.1 L386.3,30.2 L389.3,31.2 L392.2,32.2 L395.2,33.2 L398.2,34.3 L401.2,35.4 L404.1,36.6 L407.1,37.8 L410.1,39.0 L413.1,40.3 L416.0,41.7 L419.0,43.0 L422.0,44.5 L425.0,46.0 L427.9,47.6 L430.9,49.2 L433.9,50.8 L436.9,52.6 L439.8,54.3 L442.8,56.1 L445.8,57.8 L448.8,59.6 L451.7,61.4 L454.7,63.2 L457.7,64.9 L460.7,66.7 L463.6,68.4 L466.6,70.2 L469.6,71.9 L472.6,73.7 L475.5,75.5 L478.5,77.2 L481.5,79.0 L484.5,80.8 L487.4,82.6 L490.4,84.4 L493.4,86.2 L496.4,88.0 L499.3,89.9 L502.3,91.8 L505.3,93.7 L508.3,95.5 L511.2,97.4 L514.2,99.3 L517.2,101.1 L520.2,103.0 L523.1,104.8 L526.1,106.5 L529.1,108.3 L532.1,109.9 L535.0,111.6 L538.0,113.2 L541.0,114.7 L544.0,116.3 L546.9,117.8 L549.9,119.3 L552.9,120.7 L555.9,122.2 L558.8,123.7 L561.8,125.1 L564.8,126.6 L567.8,128.1 L570.7,129.5 L573.7,131.0 L576.7,132.6 L579.7,134.1 L582.6,135.6 L585.6,137.1 L588.6,138.7 L591.6,140.2 L594.5,141.7 L597.5,143.2 L600.5,144.7 L603.5,146.3 L606.4,147.9 L609.4,149.4 L612.4,150.9 L615.4,152.4 L618.3,153.8 L621.3,155.1 L624.3,156.4 L627.3,157.7 L630.2,159.0 L633.2,160.2 L636.2,161.4 L639.2,162.6 L642.1,163.7 L645.1,164.8 L648.1,165.8 L651.1,166.8 L654.0,167.7 L657.0,168.5 M2.0,182.5 L5.0,181.9 L8.0,181.2 L10.9,180.6 L13.9,179.9 L16.9,179.3 L19.9,178.7 L22.9,178.0 L25.8,177.4 L28.8,176.7 L31.8,176.1 L34.8,175.4 L37.8,174.8 L40.7,174.2 L43.7,173.6 L46.7,172.9 L49.7,172.3 L52.7,171.7 L55.6,171.1 L58.6,170.4 L61.6,169.8 L64.6,169.1 L67.6,168.5 L70.5,167.8 L73.5,167.1 L76.5,166.4 L79.5,165.7 L82.5,164.9 L85.4,164.2 L88.4,163.4 L91.4,162.6 L94.4,161.8 L97.4,161.0 L100.3,160.2 L103.3,159.4 L106.3,158.6 L109.3,157.8 L112.3,157.0 L115.2,156.3 L118.2,155.5 L121.2,154.8 L124.2,154.0 L127.2,153.2 L130.1,152.5 L133.1,151.7 L136.1,151.0 L139.1,150.2 L142.1,149.5 L145.0,148.8 L148.0,148.0 L151.0,147.3 L154.0,146.5 L157.0,145.8 L160.0,145.0 L162.9,144.2 L165.9,143.5 L168.9,142.8 L171.9,142.0 L174.9,141.3 L177.8,140.6 L180.8,140.0 L183.8,139.3 L186.8,138.7 L189.8,138.1 L192.7,137.5 L195.7,137.0 L198.7,136.5 L201.7,136.0 L204.7,135.5 L207.6,135.0 L210.6,134.5 L213.6,134.1 L216.6,133.7 L219.6,133.2 L222.5,132.8 L225.5,132.4 L228.5,131.9 L231.5,131.5 L234.5,131.0 L237.4,130.5 L240.4,130.1 L243.4,129.6 L246.4,129.2 L249.4,128.7 L252.3,128.3 L255.3,127.9 L258.3,127.5 L261.3,127.1 L264.3,126.7 L267.2,126.4 L270.2,126.1 L273.2,125.8 L276.2,125.6 L279.2,125.5 L282.1,125.3 L285.1,125.2 L288.1,125.1 L291.1,125.1 L294.1,125.1 L297.0,125.0 L300.0,125.0 L303.0,125.0 M303.0,125.0 L306.0,125.0 L308.9,125.0 L311.9,125.1 L314.9,125.1 L317.9,125.1 L320.8,125.2 L323.8,125.3 L326.8,125.4 L329.8,125.6 L332.7,125.8 L335.7,126.1 L338.7,126.4 L341.7,126.7 L344.6,127.0 L347.6,127.4 L350.6,127.9 L353.6,128.3 L356.5,128.7 L359.5,129.1 L362.5,129.6 L365.5,130.0 L368.4,130.5 L371.4,131.0 L374.4,131.4 L377.4,131.9 L380.3,132.3 L383.3,132.8 L386.3,133.2 L389.3,133.6 L392.2,134.1 L395.2,134.5 L398.2,135.0 L401.2,135.4 L404.1,135.9 L407.1,136.4 L410.1,137.0 L413.1,137.5 L416.0,138.1 L419.0,138.7 L422.0,139.3 L425.0,139.9 L427.9,140.6 L430.9,141.3 L433.9,142.0 L436.9,142.7 L439.8,143.4 L442.8,144.2 L445.8,144.9 L448.8,145.7 L451.7,146.4 L454.7,147.2 L457.7,147.9 L460.7,148.7 L463.6,149.4 L466.6,150.2 L469.6,150.9 L472.6,151.7 L475.5,152.4 L478.5,153.2 L481.5,153.9 L484.5,154.7 L487.4,155.4 L490.4,156.2 L493.4,157.0 L496.4,157.7 L499.3,158.5 L502.3,159.3 L505.3,160.1 L508.3,160.9 L511.2,161.7 L514.2,162.5 L517.2,163.3 L520.2,164.1 L523.1,164.8 L526.1,165.6 L529.1,166.3 L532.1,167.0 L535.0,167.7 L538.0,168.4 L541.0,169.0 L544.0,169.7 L546.9,170.3 L549.9,171.0 L552.9,171.6 L555.9,172.2 L558.8,172.8 L561.8,173.5 L564.8,174.1 L567.8,174.7 L570.7,175.3 L573.7,176.0 L576.7,176.6 L579.7,177.2 L582.6,177.9 L585.6,178.5 L588.6,179.2 L591.6,179.8 L594.5,180.5 L597.5,181.1 L600.5,181.8 L603.5,182.4 L606.4,183.1 L609.4,183.7 L612.4,184.4 L615.4,185.0 L618.3,185.6 L621.3,186.2 L624.3,186.7 L627.3,187.3 L630.2,187.8 L633.2,188.3 L636.2,188.8 L639.2,189.3 L642.1,189.8 L645.1,190.3 L648.1,190.7 L651.1,191.1 L654.0,191.5 L657.0,191.9 M2.0,240.1 L5.0,240.8 L8.0,241.4 L10.9,242.1 L13.9,242.7 L16.9,243.4 L19.9,244.1 L22.9,244.7 L25.8,245.4 L28.8,246.1 L31.8,246.7 L34.8,247.4 L37.8,248.0 L40.7,248.7 L43.7,249.3 L46.7,249.9 L49.7,250.6 L52.7,251.2 L55.6,251.8 L58.6,252.5 L61.6,253.1 L64.6,253.8 L67.6,254.5 L70.5,255.2 L73.5,255.9 L76.5,256.6 L79.5,257.4 L82.5,258.1 L85.4,258.9 L88.4,259.7 L91.4,260.5 L94.4,261.3 L97.4,262.1 L100.3,262.9 L103.3,263.8 L106.3,264.6 L109.3,265.4 L112.3,266.2 L115.2,267.0 L118.2,267.8 L121.2,268.5 L124.2,269.3 L127.2,270.1 L130.1,270.9 L133.1,271.6 L136.1,272.4 L139.1,273.2 L142.1,273.9 L145.0,274.7 L148.0,275.4 L151.0,276.2 L154.0,277.0 L157.0,277.7 L160.0,278.5 L162.9,279.3 L165.9,280.1 L168.9,280.8 L171.9,281.6 L174.9,282.3 L177.8,283.0 L180.8,283.7 L183.8,284.3 L186.8,285.0 L189.8,285.6 L192.7,286.2 L195.7,286.7 L198.7,287.3 L201.7,287.8 L204.7,288.3 L207.6,288.8 L210.6,289.2 L213.6,289.7 L216.6,290.1 L219.6,290.6 L222.5,291.0 L225.5,291.5 L228.5,291.9 L231.5,292.4 L234.5,292.9 L237.4,293.3 L240.4,293.8 L243.4,294.3 L246.4,294.7 L249.4,295.2 L252.3,295.6 L255.3,296.1 L258.3,296.5 L261.3,296.9 L264.3,297.3 L267.2,297.6 L270.2,297.9 L273.2,298.2 L276.2,298.4 L279.2,298.5 L282.1,298.7 L285.1,298.8 L288.1,298.9 L291.1,298.9 L294.1,298.9 L297.0,299.0 L300.0,299.0 L303.0,299.0 M303.0,299.0 L306.0,299.0 L308.9,299.0 L311.9,298.9 L314.9,298.9 L317.9,298.9 L320.8,298.8 L323.8,298.7 L326.8,298.5 L329.8,298.4 L332.7,298.2 L335.7,297.9 L338.7,297.6 L341.7,297.3 L344.6,296.9 L347.6,296.5 L350.6,296.1 L353.6,295.6 L356.5,295.2 L359.5,294.8 L362.5,294.3 L365.5,293.8 L368.4,293.4 L371.4,292.9 L374.4,292.4 L377.4,291.9 L380.3,291.5 L383.3,291.0 L386.3,290.6 L389.3,290.2 L392.2,289.7 L395.2,289.3 L398.2,288.8 L401.2,288.3 L404.1,287.8 L407.1,287.3 L410.1,286.7 L413.1,286.2 L416.0,285.6 L419.0,285.0 L422.0,284.4 L425.0,283.7 L427.9,283.1 L430.9,282.3 L433.9,281.6 L436.9,280.9 L439.8,280.1 L442.8,279.4 L445.8,278.6 L448.8,277.8 L451.7,277.0 L454.7,276.3 L457.7,275.5 L460.7,274.8 L463.6,274.0 L466.6,273.2 L469.6,272.5 L472.6,271.7 L475.5,270.9 L478.5,270.2 L481.5,269.4 L484.5,268.6 L487.4,267.9 L490.4,267.1 L493.4,266.3 L496.4,265.5 L499.3,264.7 L502.3,263.9 L505.3,263.0 L508.3,262.2 L511.2,261.4 L514.2,260.6 L517.2,259.8 L520.2,259.0 L523.1,258.2 L526.1,257.5 L529.1,256.7 L532.1,256.0 L535.0,255.3 L538.0,254.6 L541.0,253.9 L544.0,253.2 L546.9,252.6 L549.9,251.9 L552.9,251.3 L555.9,250.7 L558.8,250.0 L561.8,249.4 L564.8,248.8 L567.8,248.1 L570.7,247.5 L573.7,246.8 L576.7,246.2 L579.7,245.5 L582.6,244.8 L585.6,244.2 L588.6,243.5 L591.6,242.9 L594.5,242.2 L597.5,241.5 L600.5,240.9 L603.5,240.2 L606.4,239.5 L609.4,238.9 L612.4,238.2 L615.4,237.6 L618.3,237.0 L621.3,236.4 L624.3,235.8 L627.3,235.3 L630.2,234.7 L633.2,234.2 L636.2,233.6 L639.2,233.1 L642.1,232.6 L645.1,232.2 L648.1,231.7 L651.1,231.3 L654.0,230.9 L657.0,230.6 M2.0,208.2 L5.0,206.0 L8.0,203.8 L10.9,201.5 L13.9,199.3 L16.9,197.1 L19.9,194.9 L22.9,192.7 L25.8,190.4 L28.8,188.2 L31.8,186.0 L34.8,183.8 L37.8,181.7 L40.7,179.5 L43.7,177.4 L46.7,175.3 L49.7,173.1 L52.7,171.0 L55.6,168.8 L58.6,166.7 L61.6,164.5 L64.6,162.2 L67.6,160.0 L70.5,157.7 L73.5,155.3 L76.5,152.9 L79.5,150.3 L82.5,147.8 L85.4,145.2 L88.4,142.5 L91.4,139.8 L94.4,137.1 L97.4,134.4 L100.3,131.6 L103.3,128.9 L106.3,126.1 L109.3,123.4 L112.3,120.7 L115.2,118.1 L118.2,115.5 L121.2,112.9 L124.2,110.3 L127.2,107.7 L130.1,105.1 L133.1,102.5 L136.1,99.9 L139.1,97.4 L142.1,94.8 L145.0,92.3 L148.0,89.8 L151.0,87.2 L154.0,84.6 L157.0,82.0 L160.0,79.4 L162.9,76.8 L165.9,74.3 L168.9,71.7 L171.9,69.2 L174.9,66.8 L177.8,64.4 L180.8,62.1 L183.8,59.9 L186.8,57.8 L189.8,55.8 L192.7,53.9 L195.7,52.0 L198.7,50.2 L201.7,48.4 L204.7,46.7 L207.6,45.1 L210.6,43.5 L213.6,42.0 L216.6,40.5 L219.6,39.0 L222.5,37.5 L225.5,36.1 L228.5,34.5 L231.5,32.9 L234.5,31.4 L237.4,29.8 L240.4,28.2 L243.4,26.6 L246.4,25.1 L249.4,23.6 L252.3,22.1 L255.3,20.6 L258.3,19.2 L261.3,17.9 L264.3,16.6 L267.2,15.6 L270.2,14.5 L273.2,13.6 L276.2,12.9 L279.2,12.3 L282.1,11.9 L285.1,11.5 L288.1,11.3 L291.1,11.1 L294.1,11.0 L297.0,10.9 L300.0,10.9 L303.0,10.8 M303.0,10.8 L306.0,10.9 L308.9,10.9 L311.9,11.0 L314.9,11.1 L317.9,11.3 L320.8,11.5 L323.8,11.9 L326.8,12.3 L329.8,12.9 L332.7,13.6 L335.7,14.5 L338.7,15.5 L341.7,16.6 L344.6,17.8 L347.6,19.2 L350.6,20.6 L353.6,22.1 L356.5,23.5 L359.5,25.0 L362.5,26.5 L365.5,28.1 L368.4,29.7 L371.4,31.3 L374.4,32.9 L377.4,34.5 L380.3,36.0 L383.3,37.5 L386.3,38.9 L389.3,40.4 L392.2,41.9 L395.2,43.4 L398.2,45.0 L401.2,46.6 L404.1,48.3 L407.1,50.1 L410.1,51.9 L413.1,53.7 L416.0,55.7 L419.0,57.7 L422.0,59.8 L425.0,62.0 L427.9,64.2 L430.9,66.6 L433.9,69.0 L436.9,71.5 L439.8,74.0 L442.8,76.6 L445.8,79.2 L448.8,81.8 L451.7,84.4 L454.7,87.0 L457.7,89.5 L460.7,92.1 L463.6,94.6 L466.6,97.1 L469.6,99.7 L472.6,102.2 L475.5,104.8 L478.5,107.4 L481.5,110.0 L484.5,112.6 L487.4,115.2 L490.4,117.8 L493.4,120.4 L496.4,123.1 L499.3,125.8 L502.3,128.5 L505.3,131.3 L508.3,134.0 L511.2,136.7 L514.2,139.5 L517.2,142.2 L520.2,144.8 L523.1,147.4 L526.1,150.0 L529.1,152.5 L532.1,154.9 L535.0,157.3 L538.0,159.6 L541.0,161.9 L544.0,164.1 L546.9,166.3 L549.9,168.5 L552.9,170.7 L555.9,172.8 L558.8,174.9 L561.8,177.0 L564.8,179.2 L567.8,181.3 L570.7,183.5 L573.7,185.6 L576.7,187.8 L579.7,190.1 L582.6,192.3 L585.6,194.5 L588.6,196.7 L591.6,198.9 L594.5,201.2 L597.5,203.4 L600.5,205.6 L603.5,207.8 L606.4,210.1 L609.4,212.4 L612.4,214.6 L615.4,216.7 L618.3,218.7 L621.3,220.7 L624.3,222.6 L627.3,224.4 L630.2,226.3 L633.2,228.1 L636.2,229.8 L639.2,231.5 L642.1,233.2 L645.1,234.7 L648.1,236.2 L651.1,237.6 L654.0,238.9 L657.0,240.2 M2.0,244.2 L5.0,242.8 L8.0,241.5 L10.9,240.2 L13.9,238.8 L16.9,237.5 L19.9,236.1 L22.9,234.8 L25.8,233.5 L28.8,232.1 L31.8,230.8 L34.8,229.5 L37.8,228.2 L40.7,226.9 L43.7,225.6 L46.7,224.3 L49.7,223.0 L52.7,221.7 L55.6,220.4 L58.6,219.1 L61.6,217.8 L64.6,216.4 L67.6,215.1 L70.5,213.7 L73.5,212.2 L76.5,210.8 L79.5,209.3 L82.5,207.7 L85.4,206.1 L88.4,204.5 L91.4,202.9 L94.4,201.3 L97.4,199.6 L100.3,197.9 L103.3,196.3 L106.3,194.6 L109.3,193.0 L112.3,191.4 L115.2,189.8 L118.2,188.2 L121.2,186.6 L124.2,185.1 L127.2,183.5 L130.1,181.9 L133.1,180.4 L136.1,178.8 L139.1,177.3 L142.1,175.7 L145.0,174.2 L148.0,172.7 L151.0,171.1 L154.0,169.6 L157.0,168.0 L160.0,166.4 L162.9,164.9 L165.9,163.3 L168.9,161.8 L171.9,160.3 L174.9,158.8 L177.8,157.4 L180.8,156.0 L183.8,154.7 L186.8,153.4 L189.8,152.2 L192.7,151.0 L195.7,149.9 L198.7,148.8 L201.7,147.7 L204.7,146.7 L207.6,145.7 L210.6,144.7 L213.6,143.8 L216.6,142.9 L219.6,142.0 L222.5,141.1 L225.5,140.2 L228.5,139.3 L231.5,138.4 L234.5,137.4 L237.4,136.4 L240.4,135.5 L243.4,134.5 L246.4,133.6 L249.4,132.7 L252.3,131.8 L255.3,130.9 L258.3,130.1 L261.3,129.3 L264.3,128.5 L267.2,127.9 L270.2,127.3 L273.2,126.7 L276.2,126.3 L279.2,125.9 L282.1,125.7 L285.1,125.4 L288.1,125.3 L291.1,125.2 L294.1,125.1 L297.0,125.1 L300.0,125.0 L303.0,125.0 M303.0,125.0 L306.0,125.0 L308.9,125.1 L311.9,125.1 L314.9,125.2 L317.9,125.3 L320.8,125.4 L323.8,125.7 L326.8,125.9 L329.8,126.2 L332.7,126.7 L335.7,127.2 L338.7,127.9 L341.7,128.5 L344.6,129.2 L347.6,130.1 L350.6,130.9 L353.6,131.8 L356.5,132.7 L359.5,133.6 L362.5,134.5 L365.5,135.4 L368.4,136.4 L371.4,137.4 L374.4,138.3 L377.4,139.3 L380.3,140.2 L383.3,141.1 L386.3,142.0 L389.3,142.9 L392.2,143.8 L395.2,144.7 L398.2,145.6 L401.2,146.6 L404.1,147.6 L407.1,148.7 L410.1,149.8 L413.1,150.9 L416.0,152.1 L419.0,153.3 L422.0,154.6 L425.0,155.9 L427.9,157.3 L430.9,158.7 L433.9,160.2 L436.9,161.7 L439.8,163.2 L442.8,164.7 L445.8,166.3 L448.8,167.9 L451.7,169.4 L454.7,171.0 L457.7,172.5 L460.7,174.1 L463.6,175.6 L466.6,177.1 L469.6,178.7 L472.6,180.2 L475.5,181.8 L478.5,183.3 L481.5,184.9 L484.5,186.5 L487.4,188.0 L490.4,189.6 L493.4,191.2 L496.4,192.8 L499.3,194.4 L502.3,196.1 L505.3,197.7 L508.3,199.4 L511.2,201.0 L514.2,202.7 L517.2,204.3 L520.2,205.9 L523.1,207.5 L526.1,209.0 L529.1,210.6 L532.1,212.0 L535.0,213.5 L538.0,214.9 L541.0,216.2 L544.0,217.6 L546.9,218.9 L549.9,220.2 L552.9,221.5 L555.9,222.8 L558.8,224.1 L561.8,225.4 L564.8,226.7 L567.8,227.9 L570.7,229.2 L573.7,230.6 L576.7,231.9 L579.7,233.2 L582.6,234.6 L585.6,235.9 L588.6,237.2 L591.6,238.6 L594.5,239.9 L597.5,241.3 L600.5,242.6 L603.5,244.0 L606.4,245.3 L609.4,246.7 L612.4,248.0 L615.4,249.3 L618.3,250.5 L621.3,251.7 L624.3,252.8 L627.3,254.0 L630.2,255.1 L633.2,256.2 L636.2,257.2 L639.2,258.3 L642.1,259.2 L645.1,260.2 L648.1,261.1 L651.1,261.9 L654.0,262.7 L657.0,263.5 M2.0,271.9 L5.0,271.2 L8.0,270.6 L10.9,269.9 L13.9,269.3 L16.9,268.6 L19.9,267.9 L22.9,267.3 L25.8,266.6 L28.8,265.9 L31.8,265.3 L34.8,264.6 L37.8,264.0 L40.7,263.3 L43.7,262.7 L46.7,262.1 L49.7,261.4 L52.7,260.8 L55.6,260.2 L58.6,259.5 L61.6,258.9 L64.6,258.2 L67.6,257.5 L70.5,256.8 L73.5,256.1 L76.5,255.4 L79.5,254.6 L82.5,253.9 L85.4,253.1 L88.4,252.3 L91.4,251.5 L94.4,250.7 L97.4,249.9 L100.3,249.1 L103.3,248.2 L106.3,247.4 L109.3,246.6 L112.3,245.8 L115.2,245.0 L118.2,244.2 L121.2,243.5 L124.2,242.7 L127.2,241.9 L130.1,241.1 L133.1,240.4 L136.1,239.6 L139.1,238.8 L142.1,238.1 L145.0,237.3 L148.0,236.6 L151.0,235.8 L154.0,235.0 L157.0,234.3 L160.0,233.5 L162.9,232.7 L165.9,231.9 L168.9,231.2 L171.9,230.4 L174.9,229.7 L177.8,229.0 L180.8,228.3 L183.8,227.7 L186.8,227.0 L189.8,226.4 L192.7,225.8 L195.7,225.3 L198.7,224.7 L201.7,224.2 L204.7,223.7 L207.6,223.2 L210.6,222.8 L213.6,222.3 L216.6,221.9 L219.6,221.4 L222.5,221.0 L225.5,220.5 L228.5,220.1 L231.5,219.6 L234.5,219.1 L237.4,218.7 L240.4,218.2 L243.4,217.7 L246.4,217.3 L249.4,216.8 L252.3,216.4 L255.3,215.9 L258.3,215.5 L261.3,215.1 L264.3,214.7 L267.2,214.4 L270.2,214.1 L273.2,213.8 L276.2,213.6 L279.2,213.5 L282.1,213.3 L285.1,213.2 L288.1,213.1 L291.1,213.1 L294.1,213.1 L297.0,213.0 L300.0,213.0 L303.0,213.0 M303.0,213.0 L306.0,213.0 L308.9,213.0 L311.9,213.1 L314.9,213.1 L317.9,213.1 L320.8,213.2 L323.8,213.3 L326.8,213.5 L329.8,213.6 L332.7,213.8 L335.7,214.1 L338.7,214.4 L341.7,214.7 L344.6,215.1 L347.6,215.5 L350.6,215.9 L353.6,216.4 L356.5,216.8 L359.5,217.2 L362.5,217.7 L365.5,218.2 L368.4,218.6 L371.4,219.1 L374.4,219.6 L377.4,220.1 L380.3,220.5 L383.3,221.0 L386.3,221.4 L389.3,221.8 L392.2,222.3 L395.2,222.7 L398.2,223.2 L401.2,223.7 L404.1,224.2 L407.1,224.7 L410.1,225.3 L413.1,225.8 L416.0,226.4 L419.0,227.0 L422.0,227.6 L425.0,228.3 L427.9,228.9 L430.9,229.7 L433.9,230.4 L436.9,231.1 L439.8,231.9 L442.8,232.6 L445.8,233.4 L448.8,234.2 L451.7,235.0 L454.7,235.7 L457.7,236.5 L460.7,237.2 L463.6,238.0 L466.6,238.8 L469.6,239.5 L472.6,240.3 L475.5,241.1 L478.5,241.8 L481.5,242.6 L484.5,243.4 L487.4,244.1 L490.4,244.9 L493.4,245.7 L496.4,246.5 L499.3,247.3 L502.3,248.1 L505.3,249.0 L508.3,249.8 L511.2,250.6 L514.2,251.4 L517.2,252.2 L520.2,253.0 L523.1,253.8 L526.1,254.5 L529.1,255.3 L532.1,256.0 L535.0,256.7 L538.0,257.4 L541.0,258.1 L544.0,258.8 L546.9,259.4 L549.9,260.1 L552.9,260.7 L555.9,261.3 L558.8,262.0 L561.8,262.6 L564.8,263.2 L567.8,263.9 L570.7,264.5 L573.7,265.2 L576.7,265.8 L579.7,266.5 L582.6,267.2 L585.6,267.8 L588.6,268.5 L591.6,269.1 L594.5,269.8 L597.5,270.5 L600.5,271.1 L603.5,271.8 L606.4,272.5 L609.4,273.1 L612.4,273.8 L615.4,274.4 L618.3,275.0 L621.3,275.6 L624.3,276.2 L627.3,276.7 L630.2,277.3 L633.2,277.8 L636.2,278.4 L639.2,278.9 L642.1,279.4 L645.1,279.8 L648.1,280.3 L651.1,280.7 L654.0,281.1 L657.0,281.4" fill="none" stroke="#daa722" stroke-width="2.6" filter="url(#soft)"/>
</g>
<clipPath id="clip2"><rect x="7" y="431" width="648" height="298.5"/></clipPath>
<rect x="6" y="430" width="650" height="300.5" fill="#000"/>
<g clip-path="url(#clip2)">
<path d="M3,443.0 L659,443.0 M3,577.0 L659,577.0 M3,716.5 L659,716.5 M3.0,475.9 L6.0,476.6 L9.0,477.3 L12.0,478.0 L15.0,478.8 L18.0,479.5 L20.9,480.3 L23.9,481.2 L26.9,482.0 L29.9,483.0 L32.9,484.0 L35.9,485.0 L38.9,486.0 L41.9,487.0 L44.9,488.0 L47.9,489.0 L50.9,489.9 L53.8,490.8 L56.8,491.8 L59.8,492.7 L62.8,493.6 L65.8,494.5 L68.8,495.5 L71.8,496.4 L74.8,497.4 L77.8,498.5 L80.8,499.6 L83.8,500.7 L86.7,501.8 L89.7,503.0 L92.7,504.1 L95.7,505.3 L98.7,506.6 L101.7,507.8 L104.7,509.0 L107.7,510.3 L110.7,511.6 L113.7,512.9 L116.7,514.2 L119.6,515.6 L122.6,517.0 L125.6,518.4 L128.6,519.8 L131.6,521.2 L134.6,522.6 L137.6,524.0 L140.6,525.4 L143.6,526.7 L146.6,528.1 L149.6,529.4 L152.5,530.6 L155.5,531.8 L158.5,533.0 L161.5,534.2 L164.5,535.3 L167.5,536.4 L170.5,537.5 L173.5,538.6 L176.5,539.6 L179.5,540.7 L182.5,541.7 L185.5,542.8 L188.4,543.8 L191.4,544.8 L194.4,545.9 L197.4,546.9 L200.4,547.9 L203.4,548.9 L206.4,549.9 L209.4,550.9 L212.4,551.9 L215.4,552.9 L218.4,553.9 L221.3,554.9 L224.3,555.8 L227.3,556.8 L230.3,557.7 L233.3,558.6 L236.3,559.5 L239.3,560.4 L242.3,561.2 L245.3,562.0 L248.3,562.9 L251.3,563.6 L254.2,564.4 L257.2,565.2 L260.2,565.9 L263.2,566.6 L266.2,567.3 L269.2,567.9 L272.2,568.5 L275.2,569.2 L278.2,569.8 L281.2,570.4 L284.2,571.0 L287.1,571.7 L290.1,572.5 L293.1,573.2 L296.1,573.8 L299.1,574.2 L302.1,574.5 L305.1,574.7 L308.1,574.9 L311.1,575.0 L314.1,575.1 L317.1,575.2 L320.0,575.3 L323.0,575.4 L326.0,575.4 L329.0,575.4 L332.0,575.5 L335.0,575.5 M335.0,575.5 L338.0,575.5 L340.9,575.4 L343.9,575.4 L346.9,575.4 L349.9,575.3 L352.8,575.2 L355.8,575.1 L358.8,575.0 L361.8,574.9 L364.7,574.7 L367.7,574.5 L370.7,574.3 L373.6,573.8 L376.6,573.2 L379.6,572.5 L382.6,571.8 L385.5,571.1 L388.5,570.5 L391.5,569.8 L394.4,569.2 L397.4,568.6 L400.4,568.0 L403.4,567.3 L406.3,566.7 L409.3,566.0 L412.3,565.3 L415.3,564.5 L418.2,563.8 L421.2,563.0 L424.2,562.2 L427.1,561.4 L430.1,560.5 L433.1,559.7 L436.1,558.8 L439.0,557.9 L442.0,557.0 L445.0,556.0 L448.0,555.1 L450.9,554.1 L453.9,553.2 L456.9,552.2 L459.8,551.2 L462.8,550.2 L465.8,549.2 L468.8,548.2 L471.7,547.2 L474.7,546.2 L477.7,545.1 L480.7,544.1 L483.6,543.1 L486.6,542.1 L489.6,541.0 L492.5,540.0 L495.5,538.9 L498.5,537.9 L501.5,536.8 L504.4,535.7 L507.4,534.6 L510.4,533.4 L513.3,532.3 L516.3,531.1 L519.3,529.9 L522.3,528.6 L525.2,527.3 L528.2,525.9 L531.2,524.6 L534.2,523.2 L537.1,521.8 L540.1,520.4 L543.1,519.0 L546.0,517.6 L549.0,516.2 L552.0,514.8 L555.0,513.5 L557.9,512.2 L560.9,510.9 L563.9,509.6 L566.9,508.4 L569.8,507.2 L572.8,506.0 L575.8,504.7 L578.7,503.6 L581.7,502.4 L584.7,501.3 L587.7,500.1 L590.6,499.1 L593.6,498.0 L596.6,497.0 L599.6,496.0 L602.5,495.0 L605.5,494.1 L608.5,493.2 L611.4,492.3 L614.4,491.4 L617.4,490.5 L620.4,489.5 L623.3,488.6 L626.3,487.6 L629.3,486.6 L632.2,485.6 L635.2,484.6 L638.2,483.6 L641.2,482.6 L644.1,481.7 L647.1,480.9 L650.1,480.1 L653.1,479.3 L656.0,478.5 L659.0,477.8 M3.0,509.4 L6.0,510.8 L9.0,512.2 L12.0,513.7 L15.0,515.2 L18.0,516.8 L20.9,518.5 L23.9,520.2 L26.9,522.0 L29.9,524.0 L32.9,526.0 L35.9,528.1 L38.9,530.2 L41.9,532.3 L44.9,534.4 L47.9,536.3 L50.9,538.3 L53.8,540.2 L56.8,542.1 L59.8,544.0 L62.8,545.9 L65.8,547.8 L68.8,549.7 L71.8,551.8 L74.8,553.8 L77.8,556.0 L80.8,558.2 L83.8,560.5 L86.7,562.8 L89.7,565.2 L92.7,567.7 L95.7,570.1 L98.7,572.7 L101.7,575.2 L104.7,577.8 L107.7,580.3 L110.7,583.0 L113.7,585.7 L116.7,588.5 L119.6,591.3 L122.6,594.2 L125.6,597.1 L128.6,600.0 L131.6,602.9 L134.6,605.8 L137.6,608.7 L140.6,611.5 L143.6,614.3 L146.6,617.1 L149.6,619.7 L152.5,622.3 L155.5,624.8 L158.5,627.3 L161.5,629.6 L164.5,632.0 L167.5,634.3 L170.5,636.5 L173.5,638.8 L176.5,641.0 L179.5,643.1 L182.5,645.3 L185.5,647.4 L188.4,649.6 L191.4,651.7 L194.4,653.8 L197.4,655.9 L200.4,658.0 L203.4,660.1 L206.4,662.2 L209.4,664.3 L212.4,666.3 L215.4,668.4 L218.4,670.4 L221.3,672.4 L224.3,674.4 L227.3,676.3 L230.3,678.2 L233.3,680.1 L236.3,681.9 L239.3,683.7 L242.3,685.5 L245.3,687.2 L248.3,688.9 L251.3,690.5 L254.2,692.1 L257.2,693.7 L260.2,695.1 L263.2,696.6 L266.2,698.0 L269.2,699.3 L272.2,700.6 L275.2,701.9 L278.2,703.2 L281.2,704.5 L284.2,705.8 L287.1,707.2 L290.1,708.7 L293.1,710.2 L296.1,711.4 L299.1,712.4 L302.1,712.9 L305.1,713.4 L308.1,713.7 L311.1,714.0 L314.1,714.2 L317.1,714.4 L320.0,714.6 L323.0,714.7 L326.0,714.8 L329.0,714.9 L332.0,714.9 L335.0,715.0 M335.0,715.0 L338.0,714.9 L340.9,714.9 L343.9,714.8 L346.9,714.7 L349.9,714.6 L352.8,714.5 L355.8,714.3 L358.8,714.0 L361.8,713.8 L364.7,713.4 L367.7,713.0 L370.7,712.4 L373.6,711.5 L376.6,710.3 L379.6,708.9 L382.6,707.4 L385.5,705.9 L388.5,704.6 L391.5,703.3 L394.4,702.1 L397.4,700.8 L400.4,699.5 L403.4,698.2 L406.3,696.8 L409.3,695.4 L412.3,693.9 L415.3,692.4 L418.2,690.8 L421.2,689.2 L424.2,687.5 L427.1,685.8 L430.1,684.1 L433.1,682.3 L436.1,680.5 L439.0,678.6 L442.0,676.8 L445.0,674.8 L448.0,672.9 L450.9,670.9 L453.9,668.9 L456.9,666.9 L459.8,664.8 L462.8,662.8 L465.8,660.7 L468.8,658.6 L471.7,656.5 L474.7,654.4 L477.7,652.3 L480.7,650.2 L483.6,648.1 L486.6,646.0 L489.6,643.8 L492.5,641.7 L495.5,639.5 L498.5,637.3 L501.5,635.1 L504.4,632.8 L507.4,630.5 L510.4,628.1 L513.3,625.7 L516.3,623.3 L519.3,620.7 L522.3,618.1 L525.2,615.4 L528.2,612.6 L531.2,609.8 L534.2,607.0 L537.1,604.1 L540.1,601.2 L543.1,598.3 L546.0,595.4 L549.0,592.6 L552.0,589.7 L555.0,587.0 L557.9,584.2 L560.9,581.6 L563.9,579.0 L566.9,576.4 L569.8,573.9 L572.8,571.4 L575.8,568.9 L578.7,566.5 L581.7,564.0 L584.7,561.7 L587.7,559.4 L590.6,557.1 L593.6,555.0 L596.6,552.9 L599.6,550.8 L602.5,548.9 L605.5,546.9 L608.5,545.1 L611.4,543.2 L614.4,541.3 L617.4,539.4 L620.4,537.5 L623.3,535.6 L626.3,533.6 L629.3,531.5 L632.2,529.4 L635.2,527.3 L638.2,525.2 L641.2,523.2 L644.1,521.4 L647.1,519.6 L650.1,517.9 L653.1,516.3 L656.0,514.7 L659.0,513.2 M3.0,544.1 L6.0,543.4 L9.0,542.7 L12.0,542.0 L15.0,541.2 L18.0,540.5 L20.9,539.7 L23.9,538.8 L26.9,538.0 L29.9,537.0 L32.9,536.0 L35.9,535.0 L38.9,534.0 L41.9,533.0 L44.9,532.0 L47.9,531.0 L50.9,530.1 L53.8,529.2 L56.8,528.2 L59.8,527.3 L62.8,526.4 L65.8,525.5 L68.8,524.5 L71.8,523.6 L74.8,522.6 L77.8,521.5 L80.8,520.4 L83.8,519.3 L86.7,518.2 L89.7,517.0 L92.7,515.9 L95.7,514.7 L98.7,513.4 L101.7,512.2 L104.7,511.0 L107.7,509.7 L110.7,508.4 L113.7,507.1 L116.7,505.8 L119.6,504.4 L122.6,503.0 L125.6,501.6 L128.6,500.2 L131.6,498.8 L134.6,497.4 L137.6,496.0 L140.6,494.6 L143.6,493.3 L146.6,491.9 L149.6,490.6 L152.5,489.4 L155.5,488.2 L158.5,487.0 L161.5,485.8 L164.5,484.7 L167.5,483.6 L170.5,482.5 L173.5,481.4 L176.5,480.4 L179.5,479.3 L182.5,478.3 L185.5,477.2 L188.4,476.2 L191.4,475.2 L194.4,474.1 L197.4,473.1 L200.4,472.1 L203.4,471.1 L206.4,470.1 L209.4,469.1 L212.4,468.1 L215.4,467.1 L218.4,466.1 L221.3,465.1 L224.3,464.2 L227.3,463.2 L230.3,462.3 L233.3,461.4 L236.3,460.5 L239.3,459.6 L242.3,458.8 L245.3,458.0 L248.3,457.1 L251.3,456.4 L254.2,455.6 L257.2,454.8 L260.2,454.1 L263.2,453.4 L266.2,452.7 L269.2,452.1 L272.2,451.5 L275.2,450.8 L278.2,450.2 L281.2,449.6 L284.2,449.0 L287.1,448.3 L290.1,447.5 L293.1,446.8 L296.1,446.2 L299.1,445.8 L302.1,445.5 L305.1,445.3 L308.1,445.1 L311.1,445.0 L314.1,444.9 L317.1,444.8 L320.0,444.7 L323.0,444.6 L326.0,444.6 L329.0,444.6 L332.0,444.5 L335.0,444.5 M335.0,444.5 L338.0,444.5 L340.9,444.6 L343.9,444.6 L346.9,444.6 L349.9,444.7 L352.8,444.8 L355.8,444.9 L358.8,445.0 L361.8,445.1 L364.7,445.3 L367.7,445.5 L370.7,445.7 L373.6,446.2 L376.6,446.8 L379.6,447.5 L382.6,448.2 L385.5,448.9 L388.5,449.5 L391.5,450.2 L394.4,450.8 L397.4,451.4 L400.4,452.0 L403.4,452.7 L406.3,453.3 L409.3,454.0 L412.3,454.7 L415.3,455.5 L418.2,456.2 L421.2,457.0 L424.2,457.8 L427.1,458.6 L430.1,459.5 L433.1,460.3 L436.1,461.2 L439.0,462.1 L442.0,463.0 L445.0,464.0 L448.0,464.9 L450.9,465.9 L453.9,466.8 L456.9,467.8 L459.8,468.8 L462.8,469.8 L465.8,470.8 L468.8,471.8 L471.7,472.8 L474.7,473.8 L477.7,474.9 L480.7,475.9 L483.6,476.9 L486.6,477.9 L489.6,479.0 L492.5,480.0 L495.5,481.1 L498.5,482.1 L501.5,483.2 L504.4,484.3 L507.4,485.4 L510.4,486.6 L513.3,487.7 L516.3,488.9 L519.3,490.1 L522.3,491.4 L525.2,492.7 L528.2,494.1 L531.2,495.4 L534.2,496.8 L537.1,498.2 L540.1,499.6 L543.1,501.0 L546.0,502.4 L549.0,503.8 L552.0,505.2 L555.0,506.5 L557.9,507.8 L560.9,509.1 L563.9,510.4 L566.9,511.6 L569.8,512.8 L572.8,514.0 L575.8,515.3 L578.7,516.4 L581.7,517.6 L584.7,518.7 L587.7,519.9 L590.6,520.9 L593.6,522.0 L596.6,523.0 L599.6,524.0 L602.5,525.0 L605.5,525.9 L608.5,526.8 L611.4,527.7 L614.4,528.6 L617.4,529.5 L620.4,530.5 L623.3,531.4 L626.3,532.4 L629.3,533.4 L632.2,534.4 L635.2,535.4 L638.2,536.4 L641.2,537.4 L644.1,538.3 L647.1,539.1 L650.1,539.9 L653.1,540.7 L656.0,541.5 L659.0,542.2 M3.0,611.2 L6.0,611.9 L9.0,612.7 L12.0,613.4 L15.0,614.2 L18.0,615.0 L20.9,615.8 L23.9,616.7 L26.9,617.6 L29.9,618.6 L32.9,619.6 L35.9,620.7 L38.9,621.7 L41.9,622.8 L44.9,623.8 L47.9,624.8 L50.9,625.8 L53.8,626.8 L56.8,627.7 L59.8,628.7 L62.8,629.7 L65.8,630.6 L68.8,631.6 L71.8,632.6 L74.8,633.7 L77.8,634.7 L80.8,635.9 L83.8,637.0 L86.7,638.2 L89.7,639.4 L92.7,640.7 L95.7,641.9 L98.7,643.2 L101.7,644.5 L104.7,645.7 L107.7,647.0 L110.7,648.4 L113.7,649.8 L116.7,651.2 L119.6,652.6 L122.6,654.0 L125.6,655.5 L128.6,657.0 L131.6,658.4 L134.6,659.9 L137.6,661.3 L140.6,662.8 L143.6,664.2 L146.6,665.6 L149.6,666.9 L152.5,668.2 L155.5,669.5 L158.5,670.7 L161.5,671.9 L164.5,673.1 L167.5,674.3 L170.5,675.4 L173.5,676.5 L176.5,677.6 L179.5,678.7 L182.5,679.8 L185.5,680.9 L188.4,682.0 L191.4,683.0 L194.4,684.1 L197.4,685.2 L200.4,686.2 L203.4,687.3 L206.4,688.4 L209.4,689.4 L212.4,690.4 L215.4,691.5 L218.4,692.5 L221.3,693.5 L224.3,694.5 L227.3,695.5 L230.3,696.4 L233.3,697.4 L236.3,698.3 L239.3,699.2 L242.3,700.1 L245.3,701.0 L248.3,701.8 L251.3,702.6 L254.2,703.4 L257.2,704.2 L260.2,705.0 L263.2,705.7 L266.2,706.4 L269.2,707.1 L272.2,707.7 L275.2,708.4 L278.2,709.0 L281.2,709.7 L284.2,710.3 L287.1,711.1 L290.1,711.8 L293.1,712.6 L296.1,713.2 L299.1,713.7 L302.1,714.0 L305.1,714.2 L308.1,714.4 L311.1,714.5 L314.1,714.6 L317.1,714.7 L320.0,714.8 L323.0,714.9 L326.0,714.9 L329.0,714.9 L332.0,715.0 L335.0,715.0 M335.0,715.0 L338.0,715.0 L340.9,714.9 L343.9,714.9 L346.9,714.9 L349.9,714.8 L352.8,714.7 L355.8,714.6 L358.8,714.5 L361.8,714.4 L364.7,714.2 L367.7,714.0 L370.7,713.7 L373.6,713.2 L376.6,712.6 L379.6,711.9 L382.6,711.2 L385.5,710.4 L388.5,709.8 L391.5,709.1 L394.4,708.5 L397.4,707.8 L400.4,707.2 L403.4,706.5 L406.3,705.8 L409.3,705.1 L412.3,704.3 L415.3,703.6 L418.2,702.8 L421.2,702.0 L424.2,701.1 L427.1,700.3 L430.1,699.4 L433.1,698.5 L436.1,697.6 L439.0,696.7 L442.0,695.7 L445.0,694.7 L448.0,693.7 L450.9,692.7 L453.9,691.7 L456.9,690.7 L459.8,689.7 L462.8,688.6 L465.8,687.6 L468.8,686.5 L471.7,685.5 L474.7,684.4 L477.7,683.4 L480.7,682.3 L483.6,681.2 L486.6,680.2 L489.6,679.1 L492.5,678.0 L495.5,676.9 L498.5,675.8 L501.5,674.7 L504.4,673.5 L507.4,672.4 L510.4,671.2 L513.3,670.0 L516.3,668.7 L519.3,667.4 L522.3,666.1 L525.2,664.7 L528.2,663.3 L531.2,661.9 L534.2,660.5 L537.1,659.0 L540.1,657.6 L543.1,656.1 L546.0,654.7 L549.0,653.2 L552.0,651.8 L555.0,650.4 L557.9,649.0 L560.9,647.7 L563.9,646.4 L566.9,645.1 L569.8,643.8 L572.8,642.5 L575.8,641.3 L578.7,640.0 L581.7,638.8 L584.7,637.6 L587.7,636.5 L590.6,635.3 L593.6,634.2 L596.6,633.2 L599.6,632.2 L602.5,631.2 L605.5,630.2 L608.5,629.2 L611.4,628.3 L614.4,627.3 L617.4,626.4 L620.4,625.4 L623.3,624.5 L626.3,623.4 L629.3,622.4 L632.2,621.3 L635.2,620.3 L638.2,619.2 L641.2,618.2 L644.1,617.3 L647.1,616.4 L650.1,615.5 L653.1,614.7 L656.0,613.9 L659.0,613.2 M3.0,650.1 L6.0,648.7 L9.0,647.3 L12.0,645.8 L15.0,644.3 L18.0,642.7 L20.9,641.0 L23.9,639.3 L26.9,637.5 L29.9,635.5 L32.9,633.5 L35.9,631.4 L38.9,629.3 L41.9,627.2 L44.9,625.1 L47.9,623.2 L50.9,621.2 L53.8,619.3 L56.8,617.4 L59.8,615.5 L62.8,613.6 L65.8,611.7 L68.8,609.8 L71.8,607.7 L74.8,605.7 L77.8,603.5 L80.8,601.3 L83.8,599.0 L86.7,596.7 L89.7,594.3 L92.7,591.8 L95.7,589.4 L98.7,586.8 L101.7,584.3 L104.7,581.7 L107.7,579.2 L110.7,576.5 L113.7,573.8 L116.7,571.0 L119.6,568.2 L122.6,565.3 L125.6,562.4 L128.6,559.5 L131.6,556.6 L134.6,553.7 L137.6,550.8 L140.6,548.0 L143.6,545.2 L146.6,542.4 L149.6,539.8 L152.5,537.2 L155.5,534.7 L158.5,532.2 L161.5,529.9 L164.5,527.5 L167.5,525.2 L170.5,523.0 L173.5,520.7 L176.5,518.5 L179.5,516.4 L182.5,514.2 L185.5,512.1 L188.4,509.9 L191.4,507.8 L194.4,505.7 L197.4,503.6 L200.4,501.5 L203.4,499.4 L206.4,497.3 L209.4,495.2 L212.4,493.2 L215.4,491.1 L218.4,489.1 L221.3,487.1 L224.3,485.1 L227.3,483.2 L230.3,481.3 L233.3,479.4 L236.3,477.6 L239.3,475.8 L242.3,474.0 L245.3,472.3 L248.3,470.6 L251.3,469.0 L254.2,467.4 L257.2,465.8 L260.2,464.4 L263.2,462.9 L266.2,461.5 L269.2,460.2 L272.2,458.9 L275.2,457.6 L278.2,456.3 L281.2,455.0 L284.2,453.7 L287.1,452.3 L290.1,450.8 L293.1,449.3 L296.1,448.1 L299.1,447.1 L302.1,446.6 L305.1,446.1 L308.1,445.8 L311.1,445.5 L314.1,445.3 L317.1,445.1 L320.0,444.9 L323.0,444.8 L326.0,444.7 L329.0,444.6 L332.0,444.6 L335.0,444.5 M335.0,444.5 L338.0,444.6 L340.9,444.6 L343.9,444.7 L346.9,444.8 L349.9,444.9 L352.8,445.0 L355.8,445.2 L358.8,445.5 L361.8,445.7 L364.7,446.1 L367.7,446.5 L370.7,447.1 L373.6,448.0 L376.6,449.2 L379.6,450.6 L382.6,452.1 L385.5,453.6 L388.5,454.9 L391.5,456.2 L394.4,457.4 L397.4,458.7 L400.4,460.0 L403.4,461.3 L406.3,462.7 L409.3,464.1 L412.3,465.6 L415.3,467.1 L418.2,468.7 L421.2,470.3 L424.2,472.0 L427.1,473.7 L430.1,475.4 L433.1,477.2 L436.1,479.0 L439.0,480.9 L442.0,482.7 L445.0,484.7 L448.0,486.6 L450.9,488.6 L453.9,490.6 L456.9,492.6 L459.8,494.7 L462.8,496.7 L465.8,498.8 L468.8,500.9 L471.7,503.0 L474.7,505.1 L477.7,507.2 L480.7,509.3 L483.6,511.4 L486.6,513.5 L489.6,515.7 L492.5,517.8 L495.5,520.0 L498.5,522.2 L501.5,524.4 L504.4,526.7 L507.4,529.0 L510.4,531.4 L513.3,533.8 L516.3,536.2 L519.3,538.8 L522.3,541.4 L525.2,544.1 L528.2,546.9 L531.2,549.7 L534.2,552.5 L537.1,555.4 L540.1,558.3 L543.1,561.2 L546.0,564.1 L549.0,566.9 L552.0,569.8 L555.0,572.5 L557.9,575.3 L560.9,577.9 L563.9,580.5 L566.9,583.1 L569.8,585.6 L572.8,588.1 L575.8,590.6 L578.7,593.0 L581.7,595.5 L584.7,597.8 L587.7,600.1 L590.6,602.4 L593.6,604.5 L596.6,606.6 L599.6,608.7 L602.5,610.6 L605.5,612.6 L608.5,614.4 L611.4,616.3 L614.4,618.2 L617.4,620.1 L620.4,622.0 L623.3,623.9 L626.3,625.9 L629.3,628.0 L632.2,630.1 L635.2,632.2 L638.2,634.3 L641.2,636.3 L644.1,638.1 L647.1,639.9 L650.1,641.6 L653.1,643.2 L656.0,644.8 L659.0,646.3 M3.0,682.3 L6.0,681.6 L9.0,680.8 L12.0,680.1 L15.0,679.3 L18.0,678.5 L20.9,677.7 L23.9,676.8 L26.9,675.9 L29.9,674.9 L32.9,673.9 L35.9,672.8 L38.9,671.8 L41.9,670.7 L44.9,669.7 L47.9,668.7 L50.9,667.7 L53.8,666.7 L56.8,665.8 L59.8,664.8 L62.8,663.8 L65.8,662.9 L68.8,661.9 L71.8,660.9 L74.8,659.8 L77.8,658.8 L80.8,657.6 L83.8,656.5 L86.7,655.3 L89.7,654.1 L92.7,652.8 L95.7,651.6 L98.7,650.3 L101.7,649.0 L104.7,647.8 L107.7,646.5 L110.7,645.1 L113.7,643.7 L116.7,642.3 L119.6,640.9 L122.6,639.5 L125.6,638.0 L128.6,636.5 L131.6,635.1 L134.6,633.6 L137.6,632.2 L140.6,630.7 L143.6,629.3 L146.6,627.9 L149.6,626.6 L152.5,625.3 L155.5,624.0 L158.5,622.8 L161.5,621.6 L164.5,620.4 L167.5,619.2 L170.5,618.1 L173.5,617.0 L176.5,615.9 L179.5,614.8 L182.5,613.7 L185.5,612.6 L188.4,611.5 L191.4,610.5 L194.4,609.4 L197.4,608.3 L200.4,607.3 L203.4,606.2 L206.4,605.1 L209.4,604.1 L212.4,603.1 L215.4,602.0 L218.4,601.0 L221.3,600.0 L224.3,599.0 L227.3,598.0 L230.3,597.1 L233.3,596.1 L236.3,595.2 L239.3,594.3 L242.3,593.4 L245.3,592.5 L248.3,591.7 L251.3,590.9 L254.2,590.1 L257.2,589.3 L260.2,588.5 L263.2,587.8 L266.2,587.1 L269.2,586.4 L272.2,585.8 L275.2,585.1 L278.2,584.5 L281.2,583.8 L284.2,583.2 L287.1,582.4 L290.1,581.7 L293.1,580.9 L296.1,580.3 L299.1,579.8 L302.1,579.5 L305.1,579.3 L308.1,579.1 L311.1,579.0 L314.1,578.9 L317.1,578.8 L320.0,578.7 L323.0,578.6 L326.0,578.6 L329.0,578.6 L332.0,578.5 L335.0,578.5 M335.0,578.5 L338.0,578.5 L340.9,578.6 L343.9,578.6 L346.9,578.6 L349.9,578.7 L352.8,578.8 L355.8,578.9 L358.8,579.0 L361.8,579.1 L364.7,579.3 L367.7,579.5 L370.7,579.8 L373.6,580.3 L376.6,580.9 L379.6,581.6 L382.6,582.3 L385.5,583.1 L388.5,583.7 L391.5,584.4 L394.4,585.0 L397.4,585.7 L400.4,586.3 L403.4,587.0 L406.3,587.7 L409.3,588.4 L412.3,589.2 L415.3,589.9 L418.2,590.7 L421.2,591.5 L424.2,592.4 L427.1,593.2 L430.1,594.1 L433.1,595.0 L436.1,595.9 L439.0,596.8 L442.0,597.8 L445.0,598.8 L448.0,599.8 L450.9,600.8 L453.9,601.8 L456.9,602.8 L459.8,603.8 L462.8,604.9 L465.8,605.9 L468.8,607.0 L471.7,608.0 L474.7,609.1 L477.7,610.1 L480.7,611.2 L483.6,612.3 L486.6,613.3 L489.6,614.4 L492.5,615.5 L495.5,616.6 L498.5,617.7 L501.5,618.8 L504.4,620.0 L507.4,621.1 L510.4,622.3 L513.3,623.5 L516.3,624.8 L519.3,626.1 L522.3,627.4 L525.2,628.8 L528.2,630.2 L531.2,631.6 L534.2,633.0 L537.1,634.5 L540.1,635.9 L543.1,637.4 L546.0,638.8 L549.0,640.3 L552.0,641.7 L555.0,643.1 L557.9,644.5 L560.9,645.8 L563.9,647.1 L566.9,648.4 L569.8,649.7 L572.8,651.0 L575.8,652.2 L578.7,653.5 L581.7,654.7 L584.7,655.9 L587.7,657.0 L590.6,658.2 L593.6,659.3 L596.6,660.3 L599.6,661.3 L602.5,662.3 L605.5,663.3 L608.5,664.3 L611.4,665.2 L614.4,666.2 L617.4,667.1 L620.4,668.1 L623.3,669.0 L626.3,670.1 L629.3,671.1 L632.2,672.2 L635.2,673.2 L638.2,674.3 L641.2,675.3 L644.1,676.2 L647.1,677.1 L650.1,678.0 L653.1,678.8 L656.0,679.6 L659.0,680.3" fill="none" stroke="#7a6000" stroke-width="8" stroke-opacity="0.5" filter="url(#glowb)"/>
<path d="M3,443.0 L659,443.0 M3,577.0 L659,577.0 M3,716.5 L659,716.5 M3.0,475.9 L6.0,476.6 L9.0,477.3 L12.0,478.0 L15.0,478.8 L18.0,479.5 L20.9,480.3 L23.9,481.2 L26.9,482.0 L29.9,483.0 L32.9,484.0 L35.9,485.0 L38.9,486.0 L41.9,487.0 L44.9,488.0 L47.9,489.0 L50.9,489.9 L53.8,490.8 L56.8,491.8 L59.8,492.7 L62.8,493.6 L65.8,494.5 L68.8,495.5 L71.8,496.4 L74.8,497.4 L77.8,498.5 L80.8,499.6 L83.8,500.7 L86.7,501.8 L89.7,503.0 L92.7,504.1 L95.7,505.3 L98.7,506.6 L101.7,507.8 L104.7,509.0 L107.7,510.3 L110.7,511.6 L113.7,512.9 L116.7,514.2 L119.6,515.6 L122.6,517.0 L125.6,518.4 L128.6,519.8 L131.6,521.2 L134.6,522.6 L137.6,524.0 L140.6,525.4 L143.6,526.7 L146.6,528.1 L149.6,529.4 L152.5,530.6 L155.5,531.8 L158.5,533.0 L161.5,534.2 L164.5,535.3 L167.5,536.4 L170.5,537.5 L173.5,538.6 L176.5,539.6 L179.5,540.7 L182.5,541.7 L185.5,542.8 L188.4,543.8 L191.4,544.8 L194.4,545.9 L197.4,546.9 L200.4,547.9 L203.4,548.9 L206.4,549.9 L209.4,550.9 L212.4,551.9 L215.4,552.9 L218.4,553.9 L221.3,554.9 L224.3,555.8 L227.3,556.8 L230.3,557.7 L233.3,558.6 L236.3,559.5 L239.3,560.4 L242.3,561.2 L245.3,562.0 L248.3,562.9 L251.3,563.6 L254.2,564.4 L257.2,565.2 L260.2,565.9 L263.2,566.6 L266.2,567.3 L269.2,567.9 L272.2,568.5 L275.2,569.2 L278.2,569.8 L281.2,570.4 L284.2,571.0 L287.1,571.7 L290.1,572.5 L293.1,573.2 L296.1,573.8 L299.1,574.2 L302.1,574.5 L305.1,574.7 L308.1,574.9 L311.1,575.0 L314.1,575.1 L317.1,575.2 L320.0,575.3 L323.0,575.4 L326.0,575.4 L329.0,575.4 L332.0,575.5 L335.0,575.5 M335.0,575.5 L338.0,575.5 L340.9,575.4 L343.9,575.4 L346.9,575.4 L349.9,575.3 L352.8,575.2 L355.8,575.1 L358.8,575.0 L361.8,574.9 L364.7,574.7 L367.7,574.5 L370.7,574.3 L373.6,573.8 L376.6,573.2 L379.6,572.5 L382.6,571.8 L385.5,571.1 L388.5,570.5 L391.5,569.8 L394.4,569.2 L397.4,568.6 L400.4,568.0 L403.4,567.3 L406.3,566.7 L409.3,566.0 L412.3,565.3 L415.3,564.5 L418.2,563.8 L421.2,563.0 L424.2,562.2 L427.1,561.4 L430.1,560.5 L433.1,559.7 L436.1,558.8 L439.0,557.9 L442.0,557.0 L445.0,556.0 L448.0,555.1 L450.9,554.1 L453.9,553.2 L456.9,552.2 L459.8,551.2 L462.8,550.2 L465.8,549.2 L468.8,548.2 L471.7,547.2 L474.7,546.2 L477.7,545.1 L480.7,544.1 L483.6,543.1 L486.6,542.1 L489.6,541.0 L492.5,540.0 L495.5,538.9 L498.5,537.9 L501.5,536.8 L504.4,535.7 L507.4,534.6 L510.4,533.4 L513.3,532.3 L516.3,531.1 L519.3,529.9 L522.3,528.6 L525.2,527.3 L528.2,525.9 L531.2,524.6 L534.2,523.2 L537.1,521.8 L540.1,520.4 L543.1,519.0 L546.0,517.6 L549.0,516.2 L552.0,514.8 L555.0,513.5 L557.9,512.2 L560.9,510.9 L563.9,509.6 L566.9,508.4 L569.8,507.2 L572.8,506.0 L575.8,504.7 L578.7,503.6 L581.7,502.4 L584.7,501.3 L587.7,500.1 L590.6,499.1 L593.6,498.0 L596.6,497.0 L599.6,496.0 L602.5,495.0 L605.5,494.1 L608.5,493.2 L611.4,492.3 L614.4,491.4 L617.4,490.5 L620.4,489.5 L623.3,488.6 L626.3,487.6 L629.3,486.6 L632.2,485.6 L635.2,484.6 L638.2,483.6 L641.2,482.6 L644.1,481.7 L647.1,480.9 L650.1,480.1 L653.1,479.3 L656.0,478.5 L659.0,477.8 M3.0,509.4 L6.0,510.8 L9.0,512.2 L12.0,513.7 L15.0,515.2 L18.0,516.8 L20.9,518.5 L23.9,520.2 L26.9,522.0 L29.9,524.0 L32.9,526.0 L35.9,528.1 L38.9,530.2 L41.9,532.3 L44.9,534.4 L47.9,536.3 L50.9,538.3 L53.8,540.2 L56.8,542.1 L59.8,544.0 L62.8,545.9 L65.8,547.8 L68.8,549.7 L71.8,551.8 L74.8,553.8 L77.8,556.0 L80.8,558.2 L83.8,560.5 L86.7,562.8 L89.7,565.2 L92.7,567.7 L95.7,570.1 L98.7,572.7 L101.7,575.2 L104.7,577.8 L107.7,580.3 L110.7,583.0 L113.7,585.7 L116.7,588.5 L119.6,591.3 L122.6,594.2 L125.6,597.1 L128.6,600.0 L131.6,602.9 L134.6,605.8 L137.6,608.7 L140.6,611.5 L143.6,614.3 L146.6,617.1 L149.6,619.7 L152.5,622.3 L155.5,624.8 L158.5,627.3 L161.5,629.6 L164.5,632.0 L167.5,634.3 L170.5,636.5 L173.5,638.8 L176.5,641.0 L179.5,643.1 L182.5,645.3 L185.5,647.4 L188.4,649.6 L191.4,651.7 L194.4,653.8 L197.4,655.9 L200.4,658.0 L203.4,660.1 L206.4,662.2 L209.4,664.3 L212.4,666.3 L215.4,668.4 L218.4,670.4 L221.3,672.4 L224.3,674.4 L227.3,676.3 L230.3,678.2 L233.3,680.1 L236.3,681.9 L239.3,683.7 L242.3,685.5 L245.3,687.2 L248.3,688.9 L251.3,690.5 L254.2,692.1 L257.2,693.7 L260.2,695.1 L263.2,696.6 L266.2,698.0 L269.2,699.3 L272.2,700.6 L275.2,701.9 L278.2,703.2 L281.2,704.5 L284.2,705.8 L287.1,707.2 L290.1,708.7 L293.1,710.2 L296.1,711.4 L299.1,712.4 L302.1,712.9 L305.1,713.4 L308.1,713.7 L311.1,714.0 L314.1,714.2 L317.1,714.4 L320.0,714.6 L323.0,714.7 L326.0,714.8 L329.0,714.9 L332.0,714.9 L335.0,715.0 M335.0,715.0 L338.0,714.9 L340.9,714.9 L343.9,714.8 L346.9,714.7 L349.9,714.6 L352.8,714.5 L355.8,714.3 L358.8,714.0 L361.8,713.8 L364.7,713.4 L367.7,713.0 L370.7,712.4 L373.6,711.5 L376.6,710.3 L379.6,708.9 L382.6,707.4 L385.5,705.9 L388.5,704.6 L391.5,703.3 L394.4,702.1 L397.4,700.8 L400.4,699.5 L403.4,698.2 L406.3,696.8 L409.3,695.4 L412.3,693.9 L415.3,692.4 L418.2,690.8 L421.2,689.2 L424.2,687.5 L427.1,685.8 L430.1,684.1 L433.1,682.3 L436.1,680.5 L439.0,678.6 L442.0,676.8 L445.0,674.8 L448.0,672.9 L450.9,670.9 L453.9,668.9 L456.9,666.9 L459.8,664.8 L462.8,662.8 L465.8,660.7 L468.8,658.6 L471.7,656.5 L474.7,654.4 L477.7,652.3 L480.7,650.2 L483.6,648.1 L486.6,646.0 L489.6,643.8 L492.5,641.7 L495.5,639.5 L498.5,637.3 L501.5,635.1 L504.4,632.8 L507.4,630.5 L510.4,628.1 L513.3,625.7 L516.3,623.3 L519.3,620.7 L522.3,618.1 L525.2,615.4 L528.2,612.6 L531.2,609.8 L534.2,607.0 L537.1,604.1 L540.1,601.2 L543.1,598.3 L546.0,595.4 L549.0,592.6 L552.0,589.7 L555.0,587.0 L557.9,584.2 L560.9,581.6 L563.9,579.0 L566.9,576.4 L569.8,573.9 L572.8,571.4 L575.8,568.9 L578.7,566.5 L581.7,564.0 L584.7,561.7 L587.7,559.4 L590.6,557.1 L593.6,555.0 L596.6,552.9 L599.6,550.8 L602.5,548.9 L605.5,546.9 L608.5,545.1 L611.4,543.2 L614.4,541.3 L617.4,539.4 L620.4,537.5 L623.3,535.6 L626.3,533.6 L629.3,531.5 L632.2,529.4 L635.2,527.3 L638.2,525.2 L641.2,523.2 L644.1,521.4 L647.1,519.6 L650.1,517.9 L653.1,516.3 L656.0,514.7 L659.0,513.2 M3.0,544.1 L6.0,543.4 L9.0,542.7 L12.0,542.0 L15.0,541.2 L18.0,540.5 L20.9,539.7 L23.9,538.8 L26.9,538.0 L29.9,537.0 L32.9,536.0 L35.9,535.0 L38.9,534.0 L41.9,533.0 L44.9,532.0 L47.9,531.0 L50.9,530.1 L53.8,529.2 L56.8,528.2 L59.8,527.3 L62.8,526.4 L65.8,525.5 L68.8,524.5 L71.8,523.6 L74.8,522.6 L77.8,521.5 L80.8,520.4 L83.8,519.3 L86.7,518.2 L89.7,517.0 L92.7,515.9 L95.7,514.7 L98.7,513.4 L101.7,512.2 L104.7,511.0 L107.7,509.7 L110.7,508.4 L113.7,507.1 L116.7,505.8 L119.6,504.4 L122.6,503.0 L125.6,501.6 L128.6,500.2 L131.6,498.8 L134.6,497.4 L137.6,496.0 L140.6,494.6 L143.6,493.3 L146.6,491.9 L149.6,490.6 L152.5,489.4 L155.5,488.2 L158.5,487.0 L161.5,485.8 L164.5,484.7 L167.5,483.6 L170.5,482.5 L173.5,481.4 L176.5,480.4 L179.5,479.3 L182.5,478.3 L185.5,477.2 L188.4,476.2 L191.4,475.2 L194.4,474.1 L197.4,473.1 L200.4,472.1 L203.4,471.1 L206.4,470.1 L209.4,469.1 L212.4,468.1 L215.4,467.1 L218.4,466.1 L221.3,465.1 L224.3,464.2 L227.3,463.2 L230.3,462.3 L233.3,461.4 L236.3,460.5 L239.3,459.6 L242.3,458.8 L245.3,458.0 L248.3,457.1 L251.3,456.4 L254.2,455.6 L257.2,454.8 L260.2,454.1 L263.2,453.4 L266.2,452.7 L269.2,452.1 L272.2,451.5 L275.2,450.8 L278.2,450.2 L281.2,449.6 L284.2,449.0 L287.1,448.3 L290.1,447.5 L293.1,446.8 L296.1,446.2 L299.1,445.8 L302.1,445.5 L305.1,445.3 L308.1,445.1 L311.1,445.0 L314.1,444.9 L317.1,444.8 L320.0,444.7 L323.0,444.6 L326.0,444.6 L329.0,444.6 L332.0,444.5 L335.0,444.5 M335.0,444.5 L338.0,444.5 L340.9,444.6 L343.9,444.6 L346.9,444.6 L349.9,444.7 L352.8,444.8 L355.8,444.9 L358.8,445.0 L361.8,445.1 L364.7,445.3 L367.7,445.5 L370.7,445.7 L373.6,446.2 L376.6,446.8 L379.6,447.5 L382.6,448.2 L385.5,448.9 L388.5,449.5 L391.5,450.2 L394.4,450.8 L397.4,451.4 L400.4,452.0 L403.4,452.7 L406.3,453.3 L409.3,454.0 L412.3,454.7 L415.3,455.5 L418.2,456.2 L421.2,457.0 L424.2,457.8 L427.1,458.6 L430.1,459.5 L433.1,460.3 L436.1,461.2 L439.0,462.1 L442.0,463.0 L445.0,464.0 L448.0,464.9 L450.9,465.9 L453.9,466.8 L456.9,467.8 L459.8,468.8 L462.8,469.8 L465.8,470.8 L468.8,471.8 L471.7,472.8 L474.7,473.8 L477.7,474.9 L480.7,475.9 L483.6,476.9 L486.6,477.9 L489.6,479.0 L492.5,480.0 L495.5,481.1 L498.5,482.1 L501.5,483.2 L504.4,484.3 L507.4,485.4 L510.4,486.6 L513.3,487.7 L516.3,488.9 L519.3,490.1 L522.3,491.4 L525.2,492.7 L528.2,494.1 L531.2,495.4 L534.2,496.8 L537.1,498.2 L540.1,499.6 L543.1,501.0 L546.0,502.4 L549.0,503.8 L552.0,505.2 L555.0,506.5 L557.9,507.8 L560.9,509.1 L563.9,510.4 L566.9,511.6 L569.8,512.8 L572.8,514.0 L575.8,515.3 L578.7,516.4 L581.7,517.6 L584.7,518.7 L587.7,519.9 L590.6,520.9 L593.6,522.0 L596.6,523.0 L599.6,524.0 L602.5,525.0 L605.5,525.9 L608.5,526.8 L611.4,527.7 L614.4,528.6 L617.4,529.5 L620.4,530.5 L623.3,531.4 L626.3,532.4 L629.3,533.4 L632.2,534.4 L635.2,535.4 L638.2,536.4 L641.2,537.4 L644.1,538.3 L647.1,539.1 L650.1,539.9 L653.1,540.7 L656.0,541.5 L659.0,542.2 M3.0,611.2 L6.0,611.9 L9.0,612.7 L12.0,613.4 L15.0,614.2 L18.0,615.0 L20.9,615.8 L23.9,616.7 L26.9,617.6 L29.9,618.6 L32.9,619.6 L35.9,620.7 L38.9,621.7 L41.9,622.8 L44.9,623.8 L47.9,624.8 L50.9,625.8 L53.8,626.8 L56.8,627.7 L59.8,628.7 L62.8,629.7 L65.8,630.6 L68.8,631.6 L71.8,632.6 L74.8,633.7 L77.8,634.7 L80.8,635.9 L83.8,637.0 L86.7,638.2 L89.7,639.4 L92.7,640.7 L95.7,641.9 L98.7,643.2 L101.7,644.5 L104.7,645.7 L107.7,647.0 L110.7,648.4 L113.7,649.8 L116.7,651.2 L119.6,652.6 L122.6,654.0 L125.6,655.5 L128.6,657.0 L131.6,658.4 L134.6,659.9 L137.6,661.3 L140.6,662.8 L143.6,664.2 L146.6,665.6 L149.6,666.9 L152.5,668.2 L155.5,669.5 L158.5,670.7 L161.5,671.9 L164.5,673.1 L167.5,674.3 L170.5,675.4 L173.5,676.5 L176.5,677.6 L179.5,678.7 L182.5,679.8 L185.5,680.9 L188.4,682.0 L191.4,683.0 L194.4,684.1 L197.4,685.2 L200.4,686.2 L203.4,687.3 L206.4,688.4 L209.4,689.4 L212.4,690.4 L215.4,691.5 L218.4,692.5 L221.3,693.5 L224.3,694.5 L227.3,695.5 L230.3,696.4 L233.3,697.4 L236.3,698.3 L239.3,699.2 L242.3,700.1 L245.3,701.0 L248.3,701.8 L251.3,702.6 L254.2,703.4 L257.2,704.2 L260.2,705.0 L263.2,705.7 L266.2,706.4 L269.2,707.1 L272.2,707.7 L275.2,708.4 L278.2,709.0 L281.2,709.7 L284.2,710.3 L287.1,711.1 L290.1,711.8 L293.1,712.6 L296.1,713.2 L299.1,713.7 L302.1,714.0 L305.1,714.2 L308.1,714.4 L311.1,714.5 L314.1,714.6 L317.1,714.7 L320.0,714.8 L323.0,714.9 L326.0,714.9 L329.0,714.9 L332.0,715.0 L335.0,715.0 M335.0,715.0 L338.0,715.0 L340.9,714.9 L343.9,714.9 L346.9,714.9 L349.9,714.8 L352.8,714.7 L355.8,714.6 L358.8,714.5 L361.8,714.4 L364.7,714.2 L367.7,714.0 L370.7,713.7 L373.6,713.2 L376.6,712.6 L379.6,711.9 L382.6,711.2 L385.5,710.4 L388.5,709.8 L391.5,709.1 L394.4,708.5 L397.4,707.8 L400.4,707.2 L403.4,706.5 L406.3,705.8 L409.3,705.1 L412.3,704.3 L415.3,703.6 L418.2,702.8 L421.2,702.0 L424.2,701.1 L427.1,700.3 L430.1,699.4 L433.1,698.5 L436.1,697.6 L439.0,696.7 L442.0,695.7 L445.0,694.7 L448.0,693.7 L450.9,692.7 L453.9,691.7 L456.9,690.7 L459.8,689.7 L462.8,688.6 L465.8,687.6 L468.8,686.5 L471.7,685.5 L474.7,684.4 L477.7,683.4 L480.7,682.3 L483.6,681.2 L486.6,680.2 L489.6,679.1 L492.5,678.0 L495.5,676.9 L498.5,675.8 L501.5,674.7 L504.4,673.5 L507.4,672.4 L510.4,671.2 L513.3,670.0 L516.3,668.7 L519.3,667.4 L522.3,666.1 L525.2,664.7 L528.2,663.3 L531.2,661.9 L534.2,660.5 L537.1,659.0 L540.1,657.6 L543.1,656.1 L546.0,654.7 L549.0,653.2 L552.0,651.8 L555.0,650.4 L557.9,649.0 L560.9,647.7 L563.9,646.4 L566.9,645.1 L569.8,643.8 L572.8,642.5 L575.8,641.3 L578.7,640.0 L581.7,638.8 L584.7,637.6 L587.7,636.5 L590.6,635.3 L593.6,634.2 L596.6,633.2 L599.6,632.2 L602.5,631.2 L605.5,630.2 L608.5,629.2 L611.4,628.3 L614.4,627.3 L617.4,626.4 L620.4,625.4 L623.3,624.5 L626.3,623.4 L629.3,622.4 L632.2,621.3 L635.2,620.3 L638.2,619.2 L641.2,618.2 L644.1,617.3 L647.1,616.4 L650.1,615.5 L653.1,614.7 L656.0,613.9 L659.0,613.2 M3.0,650.1 L6.0,648.7 L9.0,647.3 L12.0,645.8 L15.0,644.3 L18.0,642.7 L20.9,641.0 L23.9,639.3 L26.9,637.5 L29.9,635.5 L32.9,633.5 L35.9,631.4 L38.9,629.3 L41.9,627.2 L44.9,625.1 L47.9,623.2 L50.9,621.2 L53.8,619.3 L56.8,617.4 L59.8,615.5 L62.8,613.6 L65.8,611.7 L68.8,609.8 L71.8,607.7 L74.8,605.7 L77.8,603.5 L80.8,601.3 L83.8,599.0 L86.7,596.7 L89.7,594.3 L92.7,591.8 L95.7,589.4 L98.7,586.8 L101.7,584.3 L104.7,581.7 L107.7,579.2 L110.7,576.5 L113.7,573.8 L116.7,571.0 L119.6,568.2 L122.6,565.3 L125.6,562.4 L128.6,559.5 L131.6,556.6 L134.6,553.7 L137.6,550.8 L140.6,548.0 L143.6,545.2 L146.6,542.4 L149.6,539.8 L152.5,537.2 L155.5,534.7 L158.5,532.2 L161.5,529.9 L164.5,527.5 L167.5,525.2 L170.5,523.0 L173.5,520.7 L176.5,518.5 L179.5,516.4 L182.5,514.2 L185.5,512.1 L188.4,509.9 L191.4,507.8 L194.4,505.7 L197.4,503.6 L200.4,501.5 L203.4,499.4 L206.4,497.3 L209.4,495.2 L212.4,493.2 L215.4,491.1 L218.4,489.1 L221.3,487.1 L224.3,485.1 L227.3,483.2 L230.3,481.3 L233.3,479.4 L236.3,477.6 L239.3,475.8 L242.3,474.0 L245.3,472.3 L248.3,470.6 L251.3,469.0 L254.2,467.4 L257.2,465.8 L260.2,464.4 L263.2,462.9 L266.2,461.5 L269.2,460.2 L272.2,458.9 L275.2,457.6 L278.2,456.3 L281.2,455.0 L284.2,453.7 L287.1,452.3 L290.1,450.8 L293.1,449.3 L296.1,448.1 L299.1,447.1 L302.1,446.6 L305.1,446.1 L308.1,445.8 L311.1,445.5 L314.1,445.3 L317.1,445.1 L320.0,444.9 L323.0,444.8 L326.0,444.7 L329.0,444.6 L332.0,444.6 L335.0,444.5 M335.0,444.5 L338.0,444.6 L340.9,444.6 L343.9,444.7 L346.9,444.8 L349.9,444.9 L352.8,445.0 L355.8,445.2 L358.8,445.5 L361.8,445.7 L364.7,446.1 L367.7,446.5 L370.7,447.1 L373.6,448.0 L376.6,449.2 L379.6,450.6 L382.6,452.1 L385.5,453.6 L388.5,454.9 L391.5,456.2 L394.4,457.4 L397.4,458.7 L400.4,460.0 L403.4,461.3 L406.3,462.7 L409.3,464.1 L412.3,465.6 L415.3,467.1 L418.2,468.7 L421.2,470.3 L424.2,472.0 L427.1,473.7 L430.1,475.4 L433.1,477.2 L436.1,479.0 L439.0,480.9 L442.0,482.7 L445.0,484.7 L448.0,486.6 L450.9,488.6 L453.9,490.6 L456.9,492.6 L459.8,494.7 L462.8,496.7 L465.8,498.8 L468.8,500.9 L471.7,503.0 L474.7,505.1 L477.7,507.2 L480.7,509.3 L483.6,511.4 L486.6,513.5 L489.6,515.7 L492.5,517.8 L495.5,520.0 L498.5,522.2 L501.5,524.4 L504.4,526.7 L507.4,529.0 L510.4,531.4 L513.3,533.8 L516.3,536.2 L519.3,538.8 L522.3,541.4 L525.2,544.1 L528.2,546.9 L531.2,549.7 L534.2,552.5 L537.1,555.4 L540.1,558.3 L543.1,561.2 L546.0,564.1 L549.0,566.9 L552.0,569.8 L555.0,572.5 L557.9,575.3 L560.9,577.9 L563.9,580.5 L566.9,583.1 L569.8,585.6 L572.8,588.1 L575.8,590.6 L578.7,593.0 L581.7,595.5 L584.7,597.8 L587.7,600.1 L590.6,602.4 L593.6,604.5 L596.6,606.6 L599.6,608.7 L602.5,610.6 L605.5,612.6 L608.5,614.4 L611.4,616.3 L614.4,618.2 L617.4,620.1 L620.4,622.0 L623.3,623.9 L626.3,625.9 L629.3,628.0 L632.2,630.1 L635.2,632.2 L638.2,634.3 L641.2,636.3 L644.1,638.1 L647.1,639.9 L650.1,641.6 L653.1,643.2 L656.0,644.8 L659.0,646.3 M3.0,682.3 L6.0,681.6 L9.0,680.8 L12.0,680.1 L15.0,679.3 L18.0,678.5 L20.9,677.7 L23.9,676.8 L26.9,675.9 L29.9,674.9 L32.9,673.9 L35.9,672.8 L38.9,671.8 L41.9,670.7 L44.9,669.7 L47.9,668.7 L50.9,667.7 L53.8,666.7 L56.8,665.8 L59.8,664.8 L62.8,663.8 L65.8,662.9 L68.8,661.9 L71.8,660.9 L74.8,659.8 L77.8,658.8 L80.8,657.6 L83.8,656.5 L86.7,655.3 L89.7,654.1 L92.7,652.8 L95.7,651.6 L98.7,650.3 L101.7,649.0 L104.7,647.8 L107.7,646.5 L110.7,645.1 L113.7,643.7 L116.7,642.3 L119.6,640.9 L122.6,639.5 L125.6,638.0 L128.6,636.5 L131.6,635.1 L134.6,633.6 L137.6,632.2 L140.6,630.7 L143.6,629.3 L146.6,627.9 L149.6,626.6 L152.5,625.3 L155.5,624.0 L158.5,622.8 L161.5,621.6 L164.5,620.4 L167.5,619.2 L170.5,618.1 L173.5,617.0 L176.5,615.9 L179.5,614.8 L182.5,613.7 L185.5,612.6 L188.4,611.5 L191.4,610.5 L194.4,609.4 L197.4,608.3 L200.4,607.3 L203.4,606.2 L206.4,605.1 L209.4,604.1 L212.4,603.1 L215.4,602.0 L218.4,601.0 L221.3,600.0 L224.3,599.0 L227.3,598.0 L230.3,597.1 L233.3,596.1 L236.3,595.2 L239.3,594.3 L242.3,593.4 L245.3,592.5 L248.3,591.7 L251.3,590.9 L254.2,590.1 L257.2,589.3 L260.2,588.5 L263.2,587.8 L266.2,587.1 L269.2,586.4 L272.2,585.8 L275.2,585.1 L278.2,584.5 L281.2,583.8 L284.2,583.2 L287.1,582.4 L290.1,581.7 L293.1,580.9 L296.1,580.3 L299.1,579.8 L302.1,579.5 L305.1,579.3 L308.1,579.1 L311.1,579.0 L314.1,578.9 L317.1,578.8 L320.0,578.7 L323.0,578.6 L326.0,578.6 L329.0,578.6 L332.0,578.5 L335.0,578.5 M335.0,578.5 L338.0,578.5 L340.9,578.6 L343.9,578.6 L346.9,578.6 L349.9,578.7 L352.8,578.8 L355.8,578.9 L358.8,579.0 L361.8,579.1 L364.7,579.3 L367.7,579.5 L370.7,579.8 L373.6,580.3 L376.6,580.9 L379.6,581.6 L382.6,582.3 L385.5,583.1 L388.5,583.7 L391.5,584.4 L394.4,585.0 L397.4,585.7 L400.4,586.3 L403.4,587.0 L406.3,587.7 L409.3,588.4 L412.3,589.2 L415.3,589.9 L418.2,590.7 L421.2,591.5 L424.2,592.4 L427.1,593.2 L430.1,594.1 L433.1,595.0 L436.1,595.9 L439.0,596.8 L442.0,597.8 L445.0,598.8 L448.0,599.8 L450.9,600.8 L453.9,601.8 L456.9,602.8 L459.8,603.8 L462.8,604.9 L465.8,605.9 L468.8,607.0 L471.7,608.0 L474.7,609.1 L477.7,610.1 L480.7,611.2 L483.6,612.3 L486.6,613.3 L489.6,614.4 L492.5,615.5 L495.5,616.6 L498.5,617.7 L501.5,618.8 L504.4,620.0 L507.4,621.1 L510.4,622.3 L513.3,623.5 L516.3,624.8 L519.3,626.1 L522.3,627.4 L525.2,628.8 L528.2,630.2 L531.2,631.6 L534.2,633.0 L537.1,634.5 L540.1,635.9 L543.1,637.4 L546.0,638.8 L549.0,640.3 L552.0,641.7 L555.0,643.1 L557.9,644.5 L560.9,645.8 L563.9,647.1 L566.9,648.4 L569.8,649.7 L572.8,651.0 L575.8,652.2 L578.7,653.5 L581.7,654.7 L584.7,655.9 L587.7,657.0 L590.6,658.2 L593.6,659.3 L596.6,660.3 L599.6,661.3 L602.5,662.3 L605.5,663.3 L608.5,664.3 L611.4,665.2 L614.4,666.2 L617.4,667.1 L620.4,668.1 L623.3,669.0 L626.3,670.1 L629.3,671.1 L632.2,672.2 L635.2,673.2 L638.2,674.3 L641.2,675.3 L644.1,676.2 L647.1,677.1 L650.1,678.0 L653.1,678.8 L656.0,679.6 L659.0,680.3" fill="none" stroke="#6e5608" stroke-width="5" stroke-opacity="0.55" filter="url(#glows)"/>
<path d="M3,443.0 L659,443.0 M3,577.0 L659,577.0 M3,716.5 L659,716.5 M3.0,475.9 L6.0,476.6 L9.0,477.3 L12.0,478.0 L15.0,478.8 L18.0,479.5 L20.9,480.3 L23.9,481.2 L26.9,482.0 L29.9,483.0 L32.9,484.0 L35.9,485.0 L38.9,486.0 L41.9,487.0 L44.9,488.0 L47.9,489.0 L50.9,489.9 L53.8,490.8 L56.8,491.8 L59.8,492.7 L62.8,493.6 L65.8,494.5 L68.8,495.5 L71.8,496.4 L74.8,497.4 L77.8,498.5 L80.8,499.6 L83.8,500.7 L86.7,501.8 L89.7,503.0 L92.7,504.1 L95.7,505.3 L98.7,506.6 L101.7,507.8 L104.7,509.0 L107.7,510.3 L110.7,511.6 L113.7,512.9 L116.7,514.2 L119.6,515.6 L122.6,517.0 L125.6,518.4 L128.6,519.8 L131.6,521.2 L134.6,522.6 L137.6,524.0 L140.6,525.4 L143.6,526.7 L146.6,528.1 L149.6,529.4 L152.5,530.6 L155.5,531.8 L158.5,533.0 L161.5,534.2 L164.5,535.3 L167.5,536.4 L170.5,537.5 L173.5,538.6 L176.5,539.6 L179.5,540.7 L182.5,541.7 L185.5,542.8 L188.4,543.8 L191.4,544.8 L194.4,545.9 L197.4,546.9 L200.4,547.9 L203.4,548.9 L206.4,549.9 L209.4,550.9 L212.4,551.9 L215.4,552.9 L218.4,553.9 L221.3,554.9 L224.3,555.8 L227.3,556.8 L230.3,557.7 L233.3,558.6 L236.3,559.5 L239.3,560.4 L242.3,561.2 L245.3,562.0 L248.3,562.9 L251.3,563.6 L254.2,564.4 L257.2,565.2 L260.2,565.9 L263.2,566.6 L266.2,567.3 L269.2,567.9 L272.2,568.5 L275.2,569.2 L278.2,569.8 L281.2,570.4 L284.2,571.0 L287.1,571.7 L290.1,572.5 L293.1,573.2 L296.1,573.8 L299.1,574.2 L302.1,574.5 L305.1,574.7 L308.1,574.9 L311.1,575.0 L314.1,575.1 L317.1,575.2 L320.0,575.3 L323.0,575.4 L326.0,575.4 L329.0,575.4 L332.0,575.5 L335.0,575.5 M335.0,575.5 L338.0,575.5 L340.9,575.4 L343.9,575.4 L346.9,575.4 L349.9,575.3 L352.8,575.2 L355.8,575.1 L358.8,575.0 L361.8,574.9 L364.7,574.7 L367.7,574.5 L370.7,574.3 L373.6,573.8 L376.6,573.2 L379.6,572.5 L382.6,571.8 L385.5,571.1 L388.5,570.5 L391.5,569.8 L394.4,569.2 L397.4,568.6 L400.4,568.0 L403.4,567.3 L406.3,566.7 L409.3,566.0 L412.3,565.3 L415.3,564.5 L418.2,563.8 L421.2,563.0 L424.2,562.2 L427.1,561.4 L430.1,560.5 L433.1,559.7 L436.1,558.8 L439.0,557.9 L442.0,557.0 L445.0,556.0 L448.0,555.1 L450.9,554.1 L453.9,553.2 L456.9,552.2 L459.8,551.2 L462.8,550.2 L465.8,549.2 L468.8,548.2 L471.7,547.2 L474.7,546.2 L477.7,545.1 L480.7,544.1 L483.6,543.1 L486.6,542.1 L489.6,541.0 L492.5,540.0 L495.5,538.9 L498.5,537.9 L501.5,536.8 L504.4,535.7 L507.4,534.6 L510.4,533.4 L513.3,532.3 L516.3,531.1 L519.3,529.9 L522.3,528.6 L525.2,527.3 L528.2,525.9 L531.2,524.6 L534.2,523.2 L537.1,521.8 L540.1,520.4 L543.1,519.0 L546.0,517.6 L549.0,516.2 L552.0,514.8 L555.0,513.5 L557.9,512.2 L560.9,510.9 L563.9,509.6 L566.9,508.4 L569.8,507.2 L572.8,506.0 L575.8,504.7 L578.7,503.6 L581.7,502.4 L584.7,501.3 L587.7,500.1 L590.6,499.1 L593.6,498.0 L596.6,497.0 L599.6,496.0 L602.5,495.0 L605.5,494.1 L608.5,493.2 L611.4,492.3 L614.4,491.4 L617.4,490.5 L620.4,489.5 L623.3,488.6 L626.3,487.6 L629.3,486.6 L632.2,485.6 L635.2,484.6 L638.2,483.6 L641.2,482.6 L644.1,481.7 L647.1,480.9 L650.1,480.1 L653.1,479.3 L656.0,478.5 L659.0,477.8 M3.0,509.4 L6.0,510.8 L9.0,512.2 L12.0,513.7 L15.0,515.2 L18.0,516.8 L20.9,518.5 L23.9,520.2 L26.9,522.0 L29.9,524.0 L32.9,526.0 L35.9,528.1 L38.9,530.2 L41.9,532.3 L44.9,534.4 L47.9,536.3 L50.9,538.3 L53.8,540.2 L56.8,542.1 L59.8,544.0 L62.8,545.9 L65.8,547.8 L68.8,549.7 L71.8,551.8 L74.8,553.8 L77.8,556.0 L80.8,558.2 L83.8,560.5 L86.7,562.8 L89.7,565.2 L92.7,567.7 L95.7,570.1 L98.7,572.7 L101.7,575.2 L104.7,577.8 L107.7,580.3 L110.7,583.0 L113.7,585.7 L116.7,588.5 L119.6,591.3 L122.6,594.2 L125.6,597.1 L128.6,600.0 L131.6,602.9 L134.6,605.8 L137.6,608.7 L140.6,611.5 L143.6,614.3 L146.6,617.1 L149.6,619.7 L152.5,622.3 L155.5,624.8 L158.5,627.3 L161.5,629.6 L164.5,632.0 L167.5,634.3 L170.5,636.5 L173.5,638.8 L176.5,641.0 L179.5,643.1 L182.5,645.3 L185.5,647.4 L188.4,649.6 L191.4,651.7 L194.4,653.8 L197.4,655.9 L200.4,658.0 L203.4,660.1 L206.4,662.2 L209.4,664.3 L212.4,666.3 L215.4,668.4 L218.4,670.4 L221.3,672.4 L224.3,674.4 L227.3,676.3 L230.3,678.2 L233.3,680.1 L236.3,681.9 L239.3,683.7 L242.3,685.5 L245.3,687.2 L248.3,688.9 L251.3,690.5 L254.2,692.1 L257.2,693.7 L260.2,695.1 L263.2,696.6 L266.2,698.0 L269.2,699.3 L272.2,700.6 L275.2,701.9 L278.2,703.2 L281.2,704.5 L284.2,705.8 L287.1,707.2 L290.1,708.7 L293.1,710.2 L296.1,711.4 L299.1,712.4 L302.1,712.9 L305.1,713.4 L308.1,713.7 L311.1,714.0 L314.1,714.2 L317.1,714.4 L320.0,714.6 L323.0,714.7 L326.0,714.8 L329.0,714.9 L332.0,714.9 L335.0,715.0 M335.0,715.0 L338.0,714.9 L340.9,714.9 L343.9,714.8 L346.9,714.7 L349.9,714.6 L352.8,714.5 L355.8,714.3 L358.8,714.0 L361.8,713.8 L364.7,713.4 L367.7,713.0 L370.7,712.4 L373.6,711.5 L376.6,710.3 L379.6,708.9 L382.6,707.4 L385.5,705.9 L388.5,704.6 L391.5,703.3 L394.4,702.1 L397.4,700.8 L400.4,699.5 L403.4,698.2 L406.3,696.8 L409.3,695.4 L412.3,693.9 L415.3,692.4 L418.2,690.8 L421.2,689.2 L424.2,687.5 L427.1,685.8 L430.1,684.1 L433.1,682.3 L436.1,680.5 L439.0,678.6 L442.0,676.8 L445.0,674.8 L448.0,672.9 L450.9,670.9 L453.9,668.9 L456.9,666.9 L459.8,664.8 L462.8,662.8 L465.8,660.7 L468.8,658.6 L471.7,656.5 L474.7,654.4 L477.7,652.3 L480.7,650.2 L483.6,648.1 L486.6,646.0 L489.6,643.8 L492.5,641.7 L495.5,639.5 L498.5,637.3 L501.5,635.1 L504.4,632.8 L507.4,630.5 L510.4,628.1 L513.3,625.7 L516.3,623.3 L519.3,620.7 L522.3,618.1 L525.2,615.4 L528.2,612.6 L531.2,609.8 L534.2,607.0 L537.1,604.1 L540.1,601.2 L543.1,598.3 L546.0,595.4 L549.0,592.6 L552.0,589.7 L555.0,587.0 L557.9,584.2 L560.9,581.6 L563.9,579.0 L566.9,576.4 L569.8,573.9 L572.8,571.4 L575.8,568.9 L578.7,566.5 L581.7,564.0 L584.7,561.7 L587.7,559.4 L590.6,557.1 L593.6,555.0 L596.6,552.9 L599.6,550.8 L602.5,548.9 L605.5,546.9 L608.5,545.1 L611.4,543.2 L614.4,541.3 L617.4,539.4 L620.4,537.5 L623.3,535.6 L626.3,533.6 L629.3,531.5 L632.2,529.4 L635.2,527.3 L638.2,525.2 L641.2,523.2 L644.1,521.4 L647.1,519.6 L650.1,517.9 L653.1,516.3 L656.0,514.7 L659.0,513.2 M3.0,544.1 L6.0,543.4 L9.0,542.7 L12.0,542.0 L15.0,541.2 L18.0,540.5 L20.9,539.7 L23.9,538.8 L26.9,538.0 L29.9,537.0 L32.9,536.0 L35.9,535.0 L38.9,534.0 L41.9,533.0 L44.9,532.0 L47.9,531.0 L50.9,530.1 L53.8,529.2 L56.8,528.2 L59.8,527.3 L62.8,526.4 L65.8,525.5 L68.8,524.5 L71.8,523.6 L74.8,522.6 L77.8,521.5 L80.8,520.4 L83.8,519.3 L86.7,518.2 L89.7,517.0 L92.7,515.9 L95.7,514.7 L98.7,513.4 L101.7,512.2 L104.7,511.0 L107.7,509.7 L110.7,508.4 L113.7,507.1 L116.7,505.8 L119.6,504.4 L122.6,503.0 L125.6,501.6 L128.6,500.2 L131.6,498.8 L134.6,497.4 L137.6,496.0 L140.6,494.6 L143.6,493.3 L146.6,491.9 L149.6,490.6 L152.5,489.4 L155.5,488.2 L158.5,487.0 L161.5,485.8 L164.5,484.7 L167.5,483.6 L170.5,482.5 L173.5,481.4 L176.5,480.4 L179.5,479.3 L182.5,478.3 L185.5,477.2 L188.4,476.2 L191.4,475.2 L194.4,474.1 L197.4,473.1 L200.4,472.1 L203.4,471.1 L206.4,470.1 L209.4,469.1 L212.4,468.1 L215.4,467.1 L218.4,466.1 L221.3,465.1 L224.3,464.2 L227.3,463.2 L230.3,462.3 L233.3,461.4 L236.3,460.5 L239.3,459.6 L242.3,458.8 L245.3,458.0 L248.3,457.1 L251.3,456.4 L254.2,455.6 L257.2,454.8 L260.2,454.1 L263.2,453.4 L266.2,452.7 L269.2,452.1 L272.2,451.5 L275.2,450.8 L278.2,450.2 L281.2,449.6 L284.2,449.0 L287.1,448.3 L290.1,447.5 L293.1,446.8 L296.1,446.2 L299.1,445.8 L302.1,445.5 L305.1,445.3 L308.1,445.1 L311.1,445.0 L314.1,444.9 L317.1,444.8 L320.0,444.7 L323.0,444.6 L326.0,444.6 L329.0,444.6 L332.0,444.5 L335.0,444.5 M335.0,444.5 L338.0,444.5 L340.9,444.6 L343.9,444.6 L346.9,444.6 L349.9,444.7 L352.8,444.8 L355.8,444.9 L358.8,445.0 L361.8,445.1 L364.7,445.3 L367.7,445.5 L370.7,445.7 L373.6,446.2 L376.6,446.8 L379.6,447.5 L382.6,448.2 L385.5,448.9 L388.5,449.5 L391.5,450.2 L394.4,450.8 L397.4,451.4 L400.4,452.0 L403.4,452.7 L406.3,453.3 L409.3,454.0 L412.3,454.7 L415.3,455.5 L418.2,456.2 L421.2,457.0 L424.2,457.8 L427.1,458.6 L430.1,459.5 L433.1,460.3 L436.1,461.2 L439.0,462.1 L442.0,463.0 L445.0,464.0 L448.0,464.9 L450.9,465.9 L453.9,466.8 L456.9,467.8 L459.8,468.8 L462.8,469.8 L465.8,470.8 L468.8,471.8 L471.7,472.8 L474.7,473.8 L477.7,474.9 L480.7,475.9 L483.6,476.9 L486.6,477.9 L489.6,479.0 L492.5,480.0 L495.5,481.1 L498.5,482.1 L501.5,483.2 L504.4,484.3 L507.4,485.4 L510.4,486.6 L513.3,487.7 L516.3,488.9 L519.3,490.1 L522.3,491.4 L525.2,492.7 L528.2,494.1 L531.2,495.4 L534.2,496.8 L537.1,498.2 L540.1,499.6 L543.1,501.0 L546.0,502.4 L549.0,503.8 L552.0,505.2 L555.0,506.5 L557.9,507.8 L560.9,509.1 L563.9,510.4 L566.9,511.6 L569.8,512.8 L572.8,514.0 L575.8,515.3 L578.7,516.4 L581.7,517.6 L584.7,518.7 L587.7,519.9 L590.6,520.9 L593.6,522.0 L596.6,523.0 L599.6,524.0 L602.5,525.0 L605.5,525.9 L608.5,526.8 L611.4,527.7 L614.4,528.6 L617.4,529.5 L620.4,530.5 L623.3,531.4 L626.3,532.4 L629.3,533.4 L632.2,534.4 L635.2,535.4 L638.2,536.4 L641.2,537.4 L644.1,538.3 L647.1,539.1 L650.1,539.9 L653.1,540.7 L656.0,541.5 L659.0,542.2 M3.0,611.2 L6.0,611.9 L9.0,612.7 L12.0,613.4 L15.0,614.2 L18.0,615.0 L20.9,615.8 L23.9,616.7 L26.9,617.6 L29.9,618.6 L32.9,619.6 L35.9,620.7 L38.9,621.7 L41.9,622.8 L44.9,623.8 L47.9,624.8 L50.9,625.8 L53.8,626.8 L56.8,627.7 L59.8,628.7 L62.8,629.7 L65.8,630.6 L68.8,631.6 L71.8,632.6 L74.8,633.7 L77.8,634.7 L80.8,635.9 L83.8,637.0 L86.7,638.2 L89.7,639.4 L92.7,640.7 L95.7,641.9 L98.7,643.2 L101.7,644.5 L104.7,645.7 L107.7,647.0 L110.7,648.4 L113.7,649.8 L116.7,651.2 L119.6,652.6 L122.6,654.0 L125.6,655.5 L128.6,657.0 L131.6,658.4 L134.6,659.9 L137.6,661.3 L140.6,662.8 L143.6,664.2 L146.6,665.6 L149.6,666.9 L152.5,668.2 L155.5,669.5 L158.5,670.7 L161.5,671.9 L164.5,673.1 L167.5,674.3 L170.5,675.4 L173.5,676.5 L176.5,677.6 L179.5,678.7 L182.5,679.8 L185.5,680.9 L188.4,682.0 L191.4,683.0 L194.4,684.1 L197.4,685.2 L200.4,686.2 L203.4,687.3 L206.4,688.4 L209.4,689.4 L212.4,690.4 L215.4,691.5 L218.4,692.5 L221.3,693.5 L224.3,694.5 L227.3,695.5 L230.3,696.4 L233.3,697.4 L236.3,698.3 L239.3,699.2 L242.3,700.1 L245.3,701.0 L248.3,701.8 L251.3,702.6 L254.2,703.4 L257.2,704.2 L260.2,705.0 L263.2,705.7 L266.2,706.4 L269.2,707.1 L272.2,707.7 L275.2,708.4 L278.2,709.0 L281.2,709.7 L284.2,710.3 L287.1,711.1 L290.1,711.8 L293.1,712.6 L296.1,713.2 L299.1,713.7 L302.1,714.0 L305.1,714.2 L308.1,714.4 L311.1,714.5 L314.1,714.6 L317.1,714.7 L320.0,714.8 L323.0,714.9 L326.0,714.9 L329.0,714.9 L332.0,715.0 L335.0,715.0 M335.0,715.0 L338.0,715.0 L340.9,714.9 L343.9,714.9 L346.9,714.9 L349.9,714.8 L352.8,714.7 L355.8,714.6 L358.8,714.5 L361.8,714.4 L364.7,714.2 L367.7,714.0 L370.7,713.7 L373.6,713.2 L376.6,712.6 L379.6,711.9 L382.6,711.2 L385.5,710.4 L388.5,709.8 L391.5,709.1 L394.4,708.5 L397.4,707.8 L400.4,707.2 L403.4,706.5 L406.3,705.8 L409.3,705.1 L412.3,704.3 L415.3,703.6 L418.2,702.8 L421.2,702.0 L424.2,701.1 L427.1,700.3 L430.1,699.4 L433.1,698.5 L436.1,697.6 L439.0,696.7 L442.0,695.7 L445.0,694.7 L448.0,693.7 L450.9,692.7 L453.9,691.7 L456.9,690.7 L459.8,689.7 L462.8,688.6 L465.8,687.6 L468.8,686.5 L471.7,685.5 L474.7,684.4 L477.7,683.4 L480.7,682.3 L483.6,681.2 L486.6,680.2 L489.6,679.1 L492.5,678.0 L495.5,676.9 L498.5,675.8 L501.5,674.7 L504.4,673.5 L507.4,672.4 L510.4,671.2 L513.3,670.0 L516.3,668.7 L519.3,667.4 L522.3,666.1 L525.2,664.7 L528.2,663.3 L531.2,661.9 L534.2,660.5 L537.1,659.0 L540.1,657.6 L543.1,656.1 L546.0,654.7 L549.0,653.2 L552.0,651.8 L555.0,650.4 L557.9,649.0 L560.9,647.7 L563.9,646.4 L566.9,645.1 L569.8,643.8 L572.8,642.5 L575.8,641.3 L578.7,640.0 L581.7,638.8 L584.7,637.6 L587.7,636.5 L590.6,635.3 L593.6,634.2 L596.6,633.2 L599.6,632.2 L602.5,631.2 L605.5,630.2 L608.5,629.2 L611.4,628.3 L614.4,627.3 L617.4,626.4 L620.4,625.4 L623.3,624.5 L626.3,623.4 L629.3,622.4 L632.2,621.3 L635.2,620.3 L638.2,619.2 L641.2,618.2 L644.1,617.3 L647.1,616.4 L650.1,615.5 L653.1,614.7 L656.0,613.9 L659.0,613.2 M3.0,650.1 L6.0,648.7 L9.0,647.3 L12.0,645.8 L15.0,644.3 L18.0,642.7 L20.9,641.0 L23.9,639.3 L26.9,637.5 L29.9,635.5 L32.9,633.5 L35.9,631.4 L38.9,629.3 L41.9,627.2 L44.9,625.1 L47.9,623.2 L50.9,621.2 L53.8,619.3 L56.8,617.4 L59.8,615.5 L62.8,613.6 L65.8,611.7 L68.8,609.8 L71.8,607.7 L74.8,605.7 L77.8,603.5 L80.8,601.3 L83.8,599.0 L86.7,596.7 L89.7,594.3 L92.7,591.8 L95.7,589.4 L98.7,586.8 L101.7,584.3 L104.7,581.7 L107.7,579.2 L110.7,576.5 L113.7,573.8 L116.7,571.0 L119.6,568.2 L122.6,565.3 L125.6,562.4 L128.6,559.5 L131.6,556.6 L134.6,553.7 L137.6,550.8 L140.6,548.0 L143.6,545.2 L146.6,542.4 L149.6,539.8 L152.5,537.2 L155.5,534.7 L158.5,532.2 L161.5,529.9 L164.5,527.5 L167.5,525.2 L170.5,523.0 L173.5,520.7 L176.5,518.5 L179.5,516.4 L182.5,514.2 L185.5,512.1 L188.4,509.9 L191.4,507.8 L194.4,505.7 L197.4,503.6 L200.4,501.5 L203.4,499.4 L206.4,497.3 L209.4,495.2 L212.4,493.2 L215.4,491.1 L218.4,489.1 L221.3,487.1 L224.3,485.1 L227.3,483.2 L230.3,481.3 L233.3,479.4 L236.3,477.6 L239.3,475.8 L242.3,474.0 L245.3,472.3 L248.3,470.6 L251.3,469.0 L254.2,467.4 L257.2,465.8 L260.2,464.4 L263.2,462.9 L266.2,461.5 L269.2,460.2 L272.2,458.9 L275.2,457.6 L278.2,456.3 L281.2,455.0 L284.2,453.7 L287.1,452.3 L290.1,450.8 L293.1,449.3 L296.1,448.1 L299.1,447.1 L302.1,446.6 L305.1,446.1 L308.1,445.8 L311.1,445.5 L314.1,445.3 L317.1,445.1 L320.0,444.9 L323.0,444.8 L326.0,444.7 L329.0,444.6 L332.0,444.6 L335.0,444.5 M335.0,444.5 L338.0,444.6 L340.9,444.6 L343.9,444.7 L346.9,444.8 L349.9,444.9 L352.8,445.0 L355.8,445.2 L358.8,445.5 L361.8,445.7 L364.7,446.1 L367.7,446.5 L370.7,447.1 L373.6,448.0 L376.6,449.2 L379.6,450.6 L382.6,452.1 L385.5,453.6 L388.5,454.9 L391.5,456.2 L394.4,457.4 L397.4,458.7 L400.4,460.0 L403.4,461.3 L406.3,462.7 L409.3,464.1 L412.3,465.6 L415.3,467.1 L418.2,468.7 L421.2,470.3 L424.2,472.0 L427.1,473.7 L430.1,475.4 L433.1,477.2 L436.1,479.0 L439.0,480.9 L442.0,482.7 L445.0,484.7 L448.0,486.6 L450.9,488.6 L453.9,490.6 L456.9,492.6 L459.8,494.7 L462.8,496.7 L465.8,498.8 L468.8,500.9 L471.7,503.0 L474.7,505.1 L477.7,507.2 L480.7,509.3 L483.6,511.4 L486.6,513.5 L489.6,515.7 L492.5,517.8 L495.5,520.0 L498.5,522.2 L501.5,524.4 L504.4,526.7 L507.4,529.0 L510.4,531.4 L513.3,533.8 L516.3,536.2 L519.3,538.8 L522.3,541.4 L525.2,544.1 L528.2,546.9 L531.2,549.7 L534.2,552.5 L537.1,555.4 L540.1,558.3 L543.1,561.2 L546.0,564.1 L549.0,566.9 L552.0,569.8 L555.0,572.5 L557.9,575.3 L560.9,577.9 L563.9,580.5 L566.9,583.1 L569.8,585.6 L572.8,588.1 L575.8,590.6 L578.7,593.0 L581.7,595.5 L584.7,597.8 L587.7,600.1 L590.6,602.4 L593.6,604.5 L596.6,606.6 L599.6,608.7 L602.5,610.6 L605.5,612.6 L608.5,614.4 L611.4,616.3 L614.4,618.2 L617.4,620.1 L620.4,622.0 L623.3,623.9 L626.3,625.9 L629.3,628.0 L632.2,630.1 L635.2,632.2 L638.2,634.3 L641.2,636.3 L644.1,638.1 L647.1,639.9 L650.1,641.6 L653.1,643.2 L656.0,644.8 L659.0,646.3 M3.0,682.3 L6.0,681.6 L9.0,680.8 L12.0,680.1 L15.0,679.3 L18.0,678.5 L20.9,677.7 L23.9,676.8 L26.9,675.9 L29.9,674.9 L32.9,673.9 L35.9,672.8 L38.9,671.8 L41.9,670.7 L44.9,669.7 L47.9,668.7 L50.9,667.7 L53.8,666.7 L56.8,665.8 L59.8,664.8 L62.8,663.8 L65.8,662.9 L68.8,661.9 L71.8,660.9 L74.8,659.8 L77.8,658.8 L80.8,657.6 L83.8,656.5 L86.7,655.3 L89.7,654.1 L92.7,652.8 L95.7,651.6 L98.7,650.3 L101.7,649.0 L104.7,647.8 L107.7,646.5 L110.7,645.1 L113.7,643.7 L116.7,642.3 L119.6,640.9 L122.6,639.5 L125.6,638.0 L128.6,636.5 L131.6,635.1 L134.6,633.6 L137.6,632.2 L140.6,630.7 L143.6,629.3 L146.6,627.9 L149.6,626.6 L152.5,625.3 L155.5,624.0 L158.5,622.8 L161.5,621.6 L164.5,620.4 L167.5,619.2 L170.5,618.1 L173.5,617.0 L176.5,615.9 L179.5,614.8 L182.5,613.7 L185.5,612.6 L188.4,611.5 L191.4,610.5 L194.4,609.4 L197.4,608.3 L200.4,607.3 L203.4,606.2 L206.4,605.1 L209.4,604.1 L212.4,603.1 L215.4,602.0 L218.4,601.0 L221.3,600.0 L224.3,599.0 L227.3,598.0 L230.3,597.1 L233.3,596.1 L236.3,595.2 L239.3,594.3 L242.3,593.4 L245.3,592.5 L248.3,591.7 L251.3,590.9 L254.2,590.1 L257.2,589.3 L260.2,588.5 L263.2,587.8 L266.2,587.1 L269.2,586.4 L272.2,585.8 L275.2,585.1 L278.2,584.5 L281.2,583.8 L284.2,583.2 L287.1,582.4 L290.1,581.7 L293.1,580.9 L296.1,580.3 L299.1,579.8 L302.1,579.5 L305.1,579.3 L308.1,579.1 L311.1,579.0 L314.1,578.9 L317.1,578.8 L320.0,578.7 L323.0,578.6 L326.0,578.6 L329.0,578.6 L332.0,578.5 L335.0,578.5 M335.0,578.5 L338.0,578.5 L340.9,578.6 L343.9,578.6 L346.9,578.6 L349.9,578.7 L352.8,578.8 L355.8,578.9 L358.8,579.0 L361.8,579.1 L364.7,579.3 L367.7,579.5 L370.7,579.8 L373.6,580.3 L376.6,580.9 L379.6,581.6 L382.6,582.3 L385.5,583.1 L388.5,583.7 L391.5,584.4 L394.4,585.0 L397.4,585.7 L400.4,586.3 L403.4,587.0 L406.3,587.7 L409.3,588.4 L412.3,589.2 L415.3,589.9 L418.2,590.7 L421.2,591.5 L424.2,592.4 L427.1,593.2 L430.1,594.1 L433.1,595.0 L436.1,595.9 L439.0,596.8 L442.0,597.8 L445.0,598.8 L448.0,599.8 L450.9,600.8 L453.9,601.8 L456.9,602.8 L459.8,603.8 L462.8,604.9 L465.8,605.9 L468.8,607.0 L471.7,608.0 L474.7,609.1 L477.7,610.1 L480.7,611.2 L483.6,612.3 L486.6,613.3 L489.6,614.4 L492.5,615.5 L495.5,616.6 L498.5,617.7 L501.5,618.8 L504.4,620.0 L507.4,621.1 L510.4,622.3 L513.3,623.5 L516.3,624.8 L519.3,626.1 L522.3,627.4 L525.2,628.8 L528.2,630.2 L531.2,631.6 L534.2,633.0 L537.1,634.5 L540.1,635.9 L543.1,637.4 L546.0,638.8 L549.0,640.3 L552.0,641.7 L555.0,643.1 L557.9,644.5 L560.9,645.8 L563.9,647.1 L566.9,648.4 L569.8,649.7 L572.8,651.0 L575.8,652.2 L578.7,653.5 L581.7,654.7 L584.7,655.9 L587.7,657.0 L590.6,658.2 L593.6,659.3 L596.6,660.3 L599.6,661.3 L602.5,662.3 L605.5,663.3 L608.5,664.3 L611.4,665.2 L614.4,666.2 L617.4,667.1 L620.4,668.1 L623.3,669.0 L626.3,670.1 L629.3,671.1 L632.2,672.2 L635.2,673.2 L638.2,674.3 L641.2,675.3 L644.1,676.2 L647.1,677.1 L650.1,678.0 L653.1,678.8 L656.0,679.6 L659.0,680.3" fill="none" stroke="#daa722" stroke-width="2.6" filter="url(#soft)"/>
</g>
<rect x="681.5" y="7.5" width="720.5" height="722" fill="#fff" stroke="#a0a0a0" stroke-width="1"/>
<line x1="681" y1="729.5" x2="1403" y2="729.5" stroke="#7a7a7a" stroke-width="1.2"/>
<rect x="870.2" y="404.3" width="75" height="231.7" fill="#8c8c8c"/>
<rect x="996.5" y="338.1" width="75" height="297.9" fill="#8c8c8c"/>
<rect x="1123.9" y="255.3" width="75" height="380.7" fill="#8c8c8c"/>
<rect x="1249.3" y="139.5" width="75" height="496.5" fill="#76b900"/>
<rect x="844.3" y="635" width="505" height="2" fill="#888"/>
<text x="814.5" y="645.2" font-size="30.5" text-anchor="end" font-weight="normal" font-style="normal" fill="#000" stroke="#fff" stroke-width="0.5">0</text>
<text x="814.5" y="562.6" font-size="30.5" text-anchor="end" font-weight="normal" font-style="normal" fill="#000" stroke="#fff" stroke-width="0.5">5</text>
<text x="814.5" y="480.1" font-size="30.5" text-anchor="end" font-weight="normal" font-style="normal" fill="#000" stroke="#fff" stroke-width="0.5">10</text>
<text x="814.5" y="397.5" font-size="30.5" text-anchor="end" font-weight="normal" font-style="normal" fill="#000" stroke="#fff" stroke-width="0.5">15</text>
<text x="814.5" y="314.9" font-size="30.5" text-anchor="end" font-weight="normal" font-style="normal" fill="#000" stroke="#fff" stroke-width="0.5">20</text>
<text x="814.5" y="232.4" font-size="30.5" text-anchor="end" font-weight="normal" font-style="normal" fill="#000" stroke="#fff" stroke-width="0.5">25</text>
<text x="814.5" y="149.8" font-size="30.5" text-anchor="end" font-weight="normal" font-style="normal" fill="#000" stroke="#fff" stroke-width="0.5">30</text>
<text x="814.5" y="67.2" font-size="30.5" text-anchor="end" font-weight="normal" font-style="normal" fill="#000" stroke="#fff" stroke-width="0.5">35</text>
<text transform="translate(742.4,367.5) rotate(-90)" x="0" y="0" font-size="38.8" text-anchor="middle" stroke="#fff" stroke-width="0.4" textLength="317" lengthAdjust="spacingAndGlyphs">Data Rate (GB/s)</text>
<text x="907.6" y="679.6" font-size="25.3" text-anchor="middle" font-weight="bold" font-style="normal" fill="#000" textLength="92" lengthAdjust="spacingAndGlyphs" >GDDR6</text>
<text x="1034.5" y="679.6" font-size="25.3" text-anchor="middle" font-weight="bold" font-style="normal" fill="#000" textLength="108" lengthAdjust="spacingAndGlyphs" >GDDR6x</text>
<text x="1034.5" y="712.8" font-size="25.3" text-anchor="middle" font-weight="bold" font-style="normal" fill="#000" textLength="65" lengthAdjust="spacingAndGlyphs" >2020</text>
<text x="1161.3" y="679.6" font-size="25.3" text-anchor="middle" font-weight="bold" font-style="normal" fill="#000" textLength="108" lengthAdjust="spacingAndGlyphs" >GDDR6x</text>
<text x="1161.3" y="712.8" font-size="25.3" text-anchor="middle" font-weight="bold" font-style="normal" fill="#000" textLength="65" lengthAdjust="spacingAndGlyphs" >2024</text>
<text x="1286.9" y="679.6" font-size="25.3" text-anchor="middle" font-weight="bold" font-style="normal" fill="#000" textLength="92" lengthAdjust="spacingAndGlyphs" >GDDR7</text>
<rect x="1424.8" y="7.5" width="616.4" height="722" fill="#fff" stroke="#b0b0b0" stroke-width="1"/>
<line x1="1424.3" y1="729.5" x2="2041.7" y2="729.5" stroke="#7a7a7a" stroke-width="1.2"/>
<rect x="1617.3" y="93.5" width="70.4" height="550.2" fill="#8c8c8c"/>
<rect x="1758.0" y="148.5" width="70.4" height="495.2" fill="#8c8c8c"/>
<rect x="1897.7" y="350.3" width="70.4" height="293.4" fill="#76b900"/>
<rect x="1582.2" y="642.7" width="420.5" height="2" fill="#888"/>
<text x="1552.5" y="652.7" font-size="30.5" text-anchor="end" font-weight="normal" font-style="normal" fill="#000" stroke="#fff" stroke-width="0.5">0</text>
<text x="1552.5" y="579.5" font-size="30.5" text-anchor="end" font-weight="normal" font-style="normal" fill="#000" stroke="#fff" stroke-width="0.5">2</text>
<text x="1552.5" y="506.3" font-size="30.5" text-anchor="end" font-weight="normal" font-style="normal" fill="#000" stroke="#fff" stroke-width="0.5">4</text>
<text x="1552.5" y="433.1" font-size="30.5" text-anchor="end" font-weight="normal" font-style="normal" fill="#000" stroke="#fff" stroke-width="0.5">6</text>
<text x="1552.5" y="359.9" font-size="30.5" text-anchor="end" font-weight="normal" font-style="normal" fill="#000" stroke="#fff" stroke-width="0.5">8</text>
<text x="1552.5" y="286.7" font-size="30.5" text-anchor="end" font-weight="normal" font-style="normal" fill="#000" stroke="#fff" stroke-width="0.5">10</text>
<text x="1552.5" y="213.5" font-size="30.5" text-anchor="end" font-weight="normal" font-style="normal" fill="#000" stroke="#fff" stroke-width="0.5">12</text>
<text x="1552.5" y="140.3" font-size="30.5" text-anchor="end" font-weight="normal" font-style="normal" fill="#000" stroke="#fff" stroke-width="0.5">14</text>
<text x="1552.5" y="67.1" font-size="30.5" text-anchor="end" font-weight="normal" font-style="normal" fill="#000" stroke="#fff" stroke-width="0.5">16</text>
<text transform="translate(1491,373.4) rotate(-90)" x="0" y="0" font-size="40" text-anchor="middle" stroke="#fff" stroke-width="0.4" textLength="403" lengthAdjust="spacingAndGlyphs">MaxQ Energy (PJ/bit)</text>
<text x="1652.85" y="688.6" font-size="27.5" text-anchor="middle" font-weight="bold" font-style="normal" fill="#000" >GDDR6</text>
<text x="1793.35" y="688.6" font-size="27.5" text-anchor="middle" font-weight="bold" font-style="normal" fill="#000" >GDDR6x</text>
<text x="1932.95" y="688.6" font-size="27.5" text-anchor="middle" font-weight="bold" font-style="normal" fill="#000" >GDDR7</text>
<text x="330.2" y="346.5" font-size="40.5" text-anchor="middle" font-weight="normal" font-style="normal" fill="#000" textLength="292" lengthAdjust="spacingAndGlyphs" stroke="#000" stroke-width="1.0">GDDR6x: Pam4</text>
<text x="330.0" y="772.2" font-size="40.5" text-anchor="middle" font-weight="normal" font-style="normal" fill="#000" textLength="269.5" lengthAdjust="spacingAndGlyphs" stroke="#000" stroke-width="1.0">GDDR7: Pam3</text>
<text x="330.2" y="811.7" font-size="31.3" text-anchor="middle" font-weight="normal" font-style="normal" fill="#000" textLength="510" lengthAdjust="spacingAndGlyphs" stroke="#000" stroke-width="0.35">Higher Frequency, Lower Voltage</text>
<text x="1005.6" y="772.5" font-size="41" text-anchor="middle" font-weight="normal" font-style="normal" fill="#000" textLength="373.5" lengthAdjust="spacingAndGlyphs" stroke="#000" stroke-width="1.0">2X Data Rate of G6</text>
<text x="1717.3" y="772.0" font-size="41" text-anchor="middle" font-weight="normal" font-style="normal" fill="#000" textLength="253" lengthAdjust="spacingAndGlyphs" stroke="#000" stroke-width="1.0">2X Efficiency</text>
<text x="1004.4" y="867.4" font-size="26" text-anchor="middle" font-weight="normal" font-style="italic" fill="#7f7f7f" textLength="1067" lengthAdjust="spacingAndGlyphs" >Energy Efficiency reflects the average graphics application with 30% DRAM utilization</text>
</svg>
</body></html>
